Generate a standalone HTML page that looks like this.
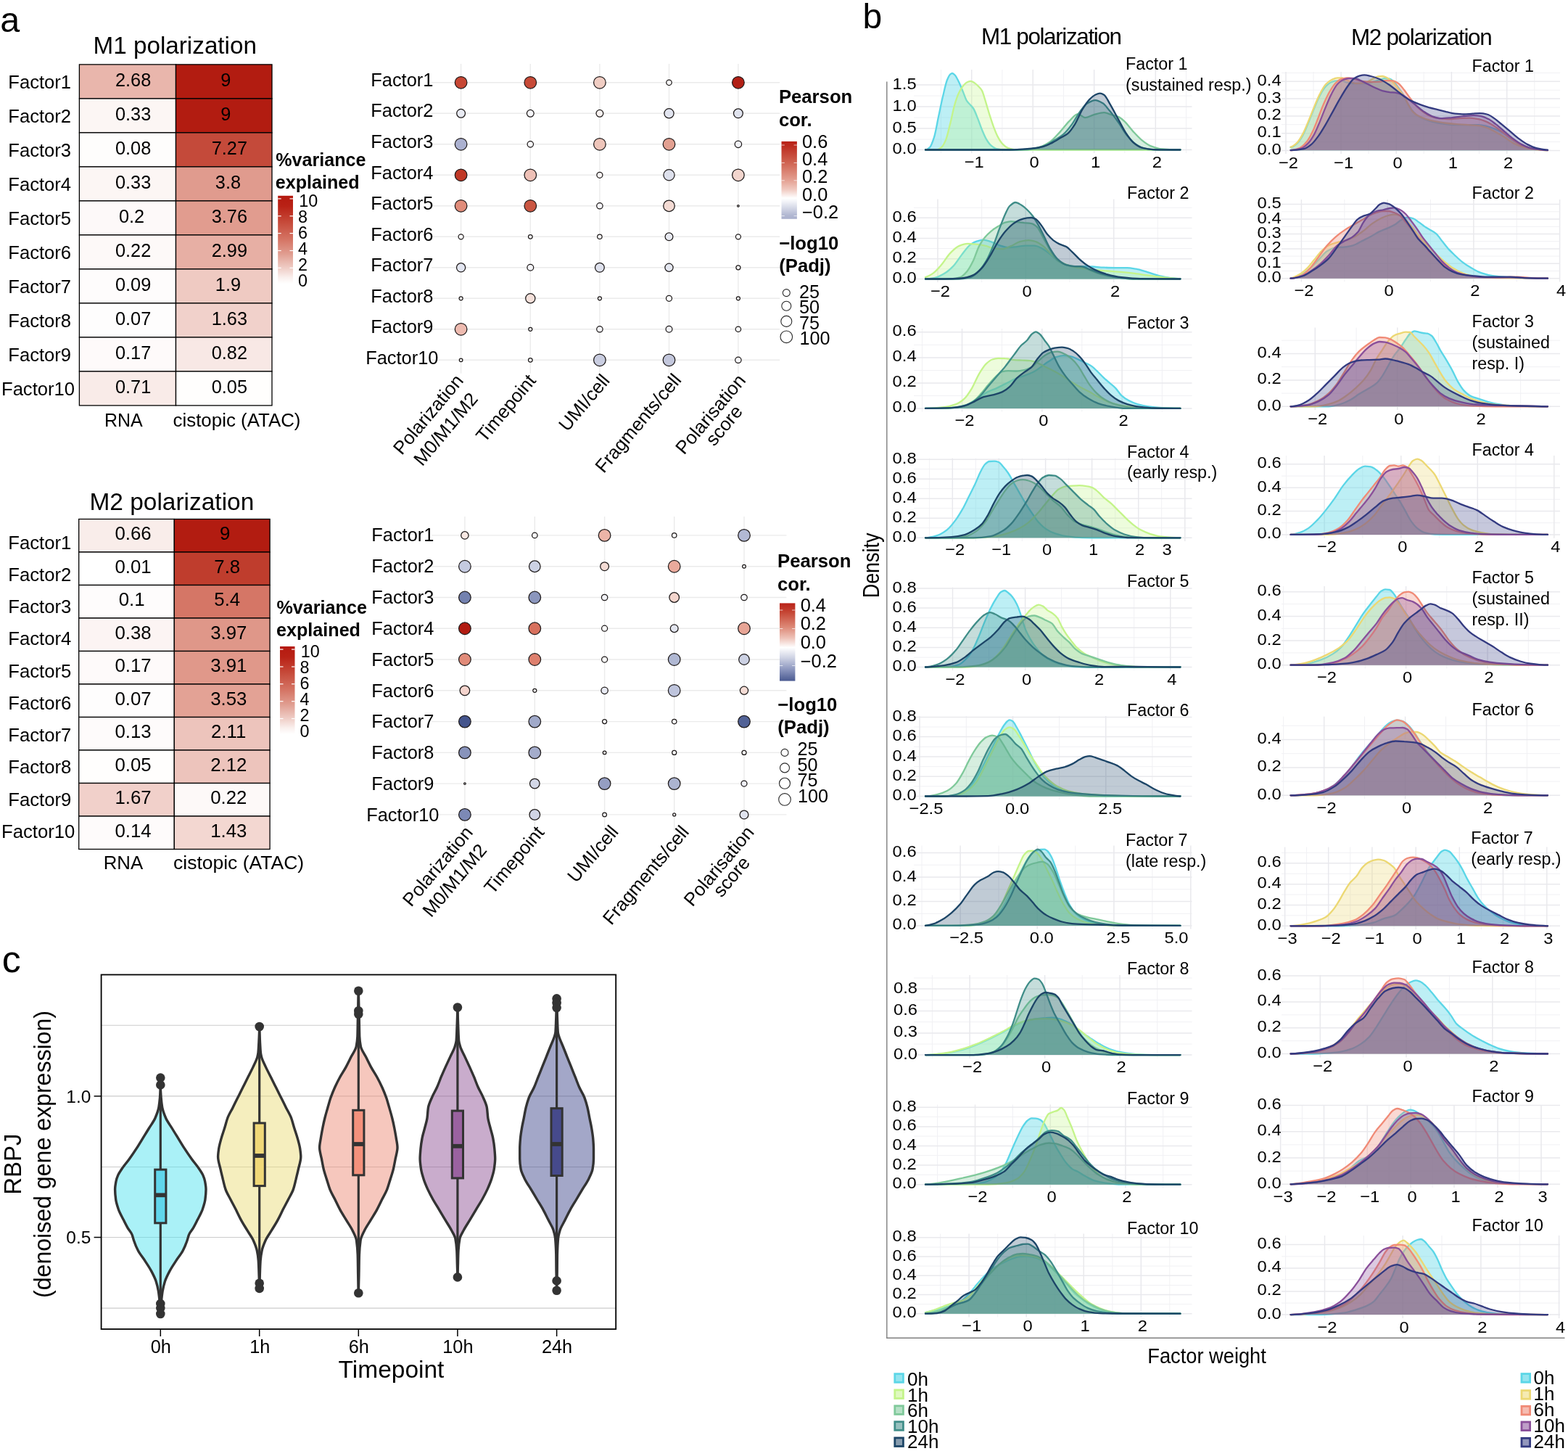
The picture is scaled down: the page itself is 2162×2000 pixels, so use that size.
<!DOCTYPE html>
<html lang="en"><head><meta charset="utf-8"><title>Figure</title>
<style>
html,body{margin:0;padding:0;background:#fff;}
body{width:2162px;height:2000px;overflow:hidden;}
svg{display:block;font-family:"Liberation Sans",sans-serif;}
</style></head><body>
<svg width="2162" height="2000" viewBox="0 0 2162 2000">
<rect width="2162" height="2000" fill="#fff"/>
<text x="0.3" y="43.6" font-size="48.5">a</text>
<rect x="109.4" y="88.9" width="133.1" height="47.0" fill="#e9b6ac" stroke="#000" stroke-width="1.3"/>
<rect x="242.5" y="88.9" width="132.5" height="47.0" fill="#b21c11" stroke="#000" stroke-width="1.3"/>
<rect x="109.4" y="135.9" width="133.1" height="47.0" fill="#fcf6f4" stroke="#000" stroke-width="1.3"/>
<rect x="242.5" y="135.9" width="132.5" height="47.0" fill="#b21c11" stroke="#000" stroke-width="1.3"/>
<rect x="109.4" y="182.9" width="133.1" height="47.0" fill="#fefdfc" stroke="#000" stroke-width="1.3"/>
<rect x="242.5" y="182.9" width="132.5" height="47.0" fill="#c44a3a" stroke="#000" stroke-width="1.3"/>
<rect x="109.4" y="229.9" width="133.1" height="47.0" fill="#fcf6f4" stroke="#000" stroke-width="1.3"/>
<rect x="242.5" y="229.9" width="132.5" height="47.0" fill="#e09b8e" stroke="#000" stroke-width="1.3"/>
<rect x="109.4" y="276.9" width="133.1" height="47.0" fill="#fdf9f9" stroke="#000" stroke-width="1.3"/>
<rect x="242.5" y="276.9" width="132.5" height="47.0" fill="#e19c8f" stroke="#000" stroke-width="1.3"/>
<rect x="109.4" y="323.9" width="133.1" height="47.0" fill="#fdf9f8" stroke="#000" stroke-width="1.3"/>
<rect x="242.5" y="323.9" width="132.5" height="47.0" fill="#e7afa4" stroke="#000" stroke-width="1.3"/>
<rect x="109.4" y="370.9" width="133.1" height="47.0" fill="#fefcfc" stroke="#000" stroke-width="1.3"/>
<rect x="242.5" y="370.9" width="132.5" height="47.0" fill="#efcac2" stroke="#000" stroke-width="1.3"/>
<rect x="109.4" y="417.9" width="133.1" height="47.0" fill="#fefdfd" stroke="#000" stroke-width="1.3"/>
<rect x="242.5" y="417.9" width="132.5" height="47.0" fill="#f1d1cb" stroke="#000" stroke-width="1.3"/>
<rect x="109.4" y="464.9" width="133.1" height="47.0" fill="#fefafa" stroke="#000" stroke-width="1.3"/>
<rect x="242.5" y="464.9" width="132.5" height="47.0" fill="#f8e8e5" stroke="#000" stroke-width="1.3"/>
<rect x="109.4" y="511.9" width="133.1" height="47.0" fill="#f9ebe8" stroke="#000" stroke-width="1.3"/>
<rect x="242.5" y="511.9" width="132.5" height="47.0" fill="#fffefd" stroke="#000" stroke-width="1.3"/>
<text x="183.6" y="118.5" font-size="25.3" text-anchor="middle">2.68</text>
<text x="311.4" y="118.5" font-size="25.3" text-anchor="middle">9</text>
<text x="11.3" y="122.2" font-size="25.6">Factor1</text>
<text x="183.6" y="165.5" font-size="25.3" text-anchor="middle">0.33</text>
<text x="311.4" y="165.5" font-size="25.3" text-anchor="middle">9</text>
<text x="11.3" y="169.2" font-size="25.6">Factor2</text>
<text x="183.6" y="212.5" font-size="25.3" text-anchor="middle">0.08</text>
<text x="316.4" y="212.5" font-size="25.3" text-anchor="middle">7.27</text>
<text x="11.3" y="216.2" font-size="25.6">Factor3</text>
<text x="183.6" y="259.5" font-size="25.3" text-anchor="middle">0.33</text>
<text x="314.4" y="259.5" font-size="25.3" text-anchor="middle">3.8</text>
<text x="11.3" y="263.2" font-size="25.6">Factor4</text>
<text x="181.6" y="306.5" font-size="25.3" text-anchor="middle">0.2</text>
<text x="316.4" y="306.5" font-size="25.3" text-anchor="middle">3.76</text>
<text x="11.3" y="310.2" font-size="25.6">Factor5</text>
<text x="183.6" y="353.5" font-size="25.3" text-anchor="middle">0.22</text>
<text x="316.4" y="353.5" font-size="25.3" text-anchor="middle">2.99</text>
<text x="11.3" y="357.2" font-size="25.6">Factor6</text>
<text x="183.6" y="400.5" font-size="25.3" text-anchor="middle">0.09</text>
<text x="314.4" y="400.5" font-size="25.3" text-anchor="middle">1.9</text>
<text x="11.3" y="404.2" font-size="25.6">Factor7</text>
<text x="183.6" y="447.5" font-size="25.3" text-anchor="middle">0.07</text>
<text x="316.4" y="447.5" font-size="25.3" text-anchor="middle">1.63</text>
<text x="11.3" y="451.2" font-size="25.6">Factor8</text>
<text x="183.6" y="494.5" font-size="25.3" text-anchor="middle">0.17</text>
<text x="316.4" y="494.5" font-size="25.3" text-anchor="middle">0.82</text>
<text x="11.3" y="498.2" font-size="25.6">Factor9</text>
<text x="183.6" y="541.5" font-size="25.3" text-anchor="middle">0.71</text>
<text x="316.4" y="541.5" font-size="25.3" text-anchor="middle">0.05</text>
<text x="2.0" y="545.2" font-size="25.6">Factor10</text>
<text x="128.5" y="73.6" font-size="33.25">M1 polarization</text>
<text x="144.0" y="588.0" font-size="25.0">RNA</text>
<text x="238.5" y="588.0" font-size="25.9">cistopic (ATAC)</text>
<text x="380.3" y="228.7" font-size="25.1" font-weight="bold">%variance</text>
<text x="379.8" y="259.7" font-size="25.1" font-weight="bold">explained</text>
<defs><linearGradient id="g1" x1="0" y1="0" x2="0" y2="1"><stop offset="0" stop-color="#b51a10"/><stop offset="0.12" stop-color="#b92216"/><stop offset="0.3" stop-color="#c64a3a"/><stop offset="0.5" stop-color="#d57565"/><stop offset="0.66" stop-color="#e09d90"/><stop offset="0.82" stop-color="#efcdc6"/><stop offset="0.93" stop-color="#faf0ee"/><stop offset="1" stop-color="#ffffff"/></linearGradient></defs>
<rect x="383.2" y="269.8" width="20.8" height="121.4" fill="url(#g1)"/>
<line x1="383.2" y1="273.9" x2="387.7" y2="273.9" stroke="#fff" stroke-width="1.2"/>
<line x1="399.5" y1="273.9" x2="404.0" y2="273.9" stroke="#fff" stroke-width="1.2"/>
<line x1="383.2" y1="297.8" x2="387.7" y2="297.8" stroke="#fff" stroke-width="1.2"/>
<line x1="399.5" y1="297.8" x2="404.0" y2="297.8" stroke="#fff" stroke-width="1.2"/>
<line x1="383.2" y1="321.6" x2="387.7" y2="321.6" stroke="#fff" stroke-width="1.2"/>
<line x1="399.5" y1="321.6" x2="404.0" y2="321.6" stroke="#fff" stroke-width="1.2"/>
<line x1="383.2" y1="345.5" x2="387.7" y2="345.5" stroke="#fff" stroke-width="1.2"/>
<line x1="399.5" y1="345.5" x2="404.0" y2="345.5" stroke="#fff" stroke-width="1.2"/>
<line x1="383.2" y1="369.3" x2="387.7" y2="369.3" stroke="#fff" stroke-width="1.2"/>
<line x1="399.5" y1="369.3" x2="404.0" y2="369.3" stroke="#fff" stroke-width="1.2"/>
<text x="412.3" y="285.2" font-size="23.4">10</text>
<text x="411.0" y="307.2" font-size="23.4">8</text>
<text x="411.0" y="329.2" font-size="23.4">6</text>
<text x="411.0" y="351.2" font-size="23.4">4</text>
<text x="411.0" y="373.2" font-size="23.4">2</text>
<text x="411.0" y="395.2" font-size="23.4">0</text>
<rect x="108.7" y="715.5" width="131.6" height="45.5" fill="#f9edea" stroke="#000" stroke-width="1.3"/>
<rect x="240.3" y="715.5" width="131.8" height="45.5" fill="#b21c11" stroke="#000" stroke-width="1.3"/>
<rect x="108.7" y="761.0" width="131.6" height="45.5" fill="#ffffff" stroke="#000" stroke-width="1.3"/>
<rect x="240.3" y="761.0" width="131.8" height="45.5" fill="#bf3d2d" stroke="#000" stroke-width="1.3"/>
<rect x="108.7" y="806.5" width="131.6" height="45.5" fill="#fefcfc" stroke="#000" stroke-width="1.3"/>
<rect x="240.3" y="806.5" width="131.8" height="45.5" fill="#d57666" stroke="#000" stroke-width="1.3"/>
<rect x="108.7" y="852.0" width="131.6" height="45.5" fill="#fcf4f3" stroke="#000" stroke-width="1.3"/>
<rect x="240.3" y="852.0" width="131.8" height="45.5" fill="#df9789" stroke="#000" stroke-width="1.3"/>
<rect x="108.7" y="897.5" width="131.6" height="45.5" fill="#fefafa" stroke="#000" stroke-width="1.3"/>
<rect x="240.3" y="897.5" width="131.8" height="45.5" fill="#e0988a" stroke="#000" stroke-width="1.3"/>
<rect x="108.7" y="943.0" width="131.6" height="45.5" fill="#fefdfd" stroke="#000" stroke-width="1.3"/>
<rect x="240.3" y="943.0" width="131.8" height="45.5" fill="#e3a295" stroke="#000" stroke-width="1.3"/>
<rect x="108.7" y="988.5" width="131.6" height="45.5" fill="#fefbfb" stroke="#000" stroke-width="1.3"/>
<rect x="240.3" y="988.5" width="131.8" height="45.5" fill="#edc4bc" stroke="#000" stroke-width="1.3"/>
<rect x="108.7" y="1034.0" width="131.6" height="45.5" fill="#fffefd" stroke="#000" stroke-width="1.3"/>
<rect x="240.3" y="1034.0" width="131.8" height="45.5" fill="#edc4bc" stroke="#000" stroke-width="1.3"/>
<rect x="108.7" y="1079.5" width="131.6" height="45.5" fill="#f1d0ca" stroke="#000" stroke-width="1.3"/>
<rect x="240.3" y="1079.5" width="131.8" height="45.5" fill="#fdf9f8" stroke="#000" stroke-width="1.3"/>
<rect x="108.7" y="1125.0" width="131.6" height="45.5" fill="#fefbfb" stroke="#000" stroke-width="1.3"/>
<rect x="240.3" y="1125.0" width="131.8" height="45.5" fill="#f3d7d1" stroke="#000" stroke-width="1.3"/>
<text x="183.6" y="744.0" font-size="25.8" text-anchor="middle">0.66</text>
<text x="310.2" y="744.0" font-size="25.8" text-anchor="middle">9</text>
<text x="11.2" y="756.5" font-size="25.7">Factor1</text>
<text x="183.6" y="789.5" font-size="25.8" text-anchor="middle">0.01</text>
<text x="313.3" y="789.5" font-size="25.8" text-anchor="middle">7.8</text>
<text x="11.2" y="800.8" font-size="25.7">Factor2</text>
<text x="181.6" y="835.0" font-size="25.8" text-anchor="middle">0.1</text>
<text x="313.3" y="835.0" font-size="25.8" text-anchor="middle">5.4</text>
<text x="11.2" y="845.0" font-size="25.7">Factor3</text>
<text x="183.6" y="880.5" font-size="25.8" text-anchor="middle">0.38</text>
<text x="315.3" y="880.5" font-size="25.8" text-anchor="middle">3.97</text>
<text x="11.2" y="889.2" font-size="25.7">Factor4</text>
<text x="183.6" y="926.0" font-size="25.8" text-anchor="middle">0.17</text>
<text x="315.3" y="926.0" font-size="25.8" text-anchor="middle">3.91</text>
<text x="11.2" y="933.5" font-size="25.7">Factor5</text>
<text x="183.6" y="971.5" font-size="25.8" text-anchor="middle">0.07</text>
<text x="315.3" y="971.5" font-size="25.8" text-anchor="middle">3.53</text>
<text x="11.2" y="977.8" font-size="25.7">Factor6</text>
<text x="183.6" y="1017.0" font-size="25.8" text-anchor="middle">0.13</text>
<text x="315.1" y="1017.0" font-size="25.8" text-anchor="middle">2.11</text>
<text x="11.2" y="1022.0" font-size="25.7">Factor7</text>
<text x="183.6" y="1062.5" font-size="25.8" text-anchor="middle">0.05</text>
<text x="315.3" y="1062.5" font-size="25.8" text-anchor="middle">2.12</text>
<text x="11.2" y="1066.2" font-size="25.7">Factor8</text>
<text x="183.6" y="1108.0" font-size="25.8" text-anchor="middle">1.67</text>
<text x="315.3" y="1108.0" font-size="25.8" text-anchor="middle">0.22</text>
<text x="11.2" y="1110.5" font-size="25.7">Factor9</text>
<text x="183.6" y="1153.5" font-size="25.8" text-anchor="middle">0.14</text>
<text x="315.3" y="1153.5" font-size="25.8" text-anchor="middle">1.43</text>
<text x="2.0" y="1154.8" font-size="25.7">Factor10</text>
<text x="123.5" y="702.7" font-size="33.45">M2 polarization</text>
<text x="142.7" y="1198.0" font-size="25.8">RNA</text>
<text x="239.0" y="1198.0" font-size="26.5">cistopic (ATAC)</text>
<text x="381.5" y="846.4" font-size="25.15" font-weight="bold">%variance</text>
<text x="381.0" y="877.4" font-size="25.15" font-weight="bold">explained</text>
<defs><linearGradient id="g2" x1="0" y1="0" x2="0" y2="1"><stop offset="0" stop-color="#b51a10"/><stop offset="0.12" stop-color="#b92216"/><stop offset="0.3" stop-color="#c64a3a"/><stop offset="0.5" stop-color="#d57565"/><stop offset="0.66" stop-color="#e09d90"/><stop offset="0.82" stop-color="#efcdc6"/><stop offset="0.93" stop-color="#faf0ee"/><stop offset="1" stop-color="#ffffff"/></linearGradient></defs>
<rect x="386.0" y="891.0" width="20.5" height="121.0" fill="url(#g2)"/>
<line x1="386.0" y1="895.1" x2="390.5" y2="895.1" stroke="#fff" stroke-width="1.2"/>
<line x1="402.0" y1="895.1" x2="406.5" y2="895.1" stroke="#fff" stroke-width="1.2"/>
<line x1="386.0" y1="919.0" x2="390.5" y2="919.0" stroke="#fff" stroke-width="1.2"/>
<line x1="402.0" y1="919.0" x2="406.5" y2="919.0" stroke="#fff" stroke-width="1.2"/>
<line x1="386.0" y1="942.8" x2="390.5" y2="942.8" stroke="#fff" stroke-width="1.2"/>
<line x1="402.0" y1="942.8" x2="406.5" y2="942.8" stroke="#fff" stroke-width="1.2"/>
<line x1="386.0" y1="966.7" x2="390.5" y2="966.7" stroke="#fff" stroke-width="1.2"/>
<line x1="402.0" y1="966.7" x2="406.5" y2="966.7" stroke="#fff" stroke-width="1.2"/>
<line x1="386.0" y1="990.5" x2="390.5" y2="990.5" stroke="#fff" stroke-width="1.2"/>
<line x1="402.0" y1="990.5" x2="406.5" y2="990.5" stroke="#fff" stroke-width="1.2"/>
<text x="414.8" y="906.4" font-size="23.4">10</text>
<text x="413.5" y="928.4" font-size="23.4">8</text>
<text x="413.5" y="950.4" font-size="23.4">6</text>
<text x="413.5" y="972.4" font-size="23.4">4</text>
<text x="413.5" y="994.4" font-size="23.4">2</text>
<text x="413.5" y="1016.4" font-size="23.4">0</text>
<line x1="595.0" y1="113.8" x2="1075.2" y2="113.8" stroke="#ebebeb" stroke-width="1.4"/>
<line x1="595.0" y1="156.3" x2="1075.2" y2="156.3" stroke="#ebebeb" stroke-width="1.4"/>
<line x1="595.0" y1="198.8" x2="1075.2" y2="198.8" stroke="#ebebeb" stroke-width="1.4"/>
<line x1="595.0" y1="241.3" x2="1075.2" y2="241.3" stroke="#ebebeb" stroke-width="1.4"/>
<line x1="595.0" y1="283.8" x2="1075.2" y2="283.8" stroke="#ebebeb" stroke-width="1.4"/>
<line x1="595.0" y1="326.3" x2="1075.2" y2="326.3" stroke="#ebebeb" stroke-width="1.4"/>
<line x1="595.0" y1="368.8" x2="1075.2" y2="368.8" stroke="#ebebeb" stroke-width="1.4"/>
<line x1="595.0" y1="411.3" x2="1075.2" y2="411.3" stroke="#ebebeb" stroke-width="1.4"/>
<line x1="595.0" y1="453.8" x2="1075.2" y2="453.8" stroke="#ebebeb" stroke-width="1.4"/>
<line x1="595.0" y1="496.3" x2="1075.2" y2="496.3" stroke="#ebebeb" stroke-width="1.4"/>
<line x1="635.6" y1="88.0" x2="635.6" y2="514.7" stroke="#ebebeb" stroke-width="1.4"/>
<line x1="731.3" y1="88.0" x2="731.3" y2="514.7" stroke="#ebebeb" stroke-width="1.4"/>
<line x1="826.9" y1="88.0" x2="826.9" y2="514.7" stroke="#ebebeb" stroke-width="1.4"/>
<line x1="922.5" y1="88.0" x2="922.5" y2="514.7" stroke="#ebebeb" stroke-width="1.4"/>
<line x1="1017.9" y1="88.0" x2="1017.9" y2="514.7" stroke="#ebebeb" stroke-width="1.4"/>
<text x="554.3" y="118.8" font-size="25.4" text-anchor="middle">Factor1</text>
<circle cx="635.6" cy="113.8" r="8.3" fill="#c74734" stroke="#1e1a1a" stroke-width="1.25"/>
<circle cx="731.3" cy="113.8" r="8.3" fill="#c74a37" stroke="#1e1a1a" stroke-width="1.25"/>
<circle cx="826.9" cy="113.8" r="8.3" fill="#f0cdc3" stroke="#1e1a1a" stroke-width="1.25"/>
<circle cx="922.5" cy="113.8" r="3.7" fill="#ffffff" stroke="#1e1a1a" stroke-width="1.25"/>
<circle cx="1017.9" cy="113.8" r="8.3" fill="#b22016" stroke="#1e1a1a" stroke-width="1.25"/>
<text x="554.3" y="161.4" font-size="25.4" text-anchor="middle">Factor2</text>
<circle cx="635.6" cy="156.3" r="5.9" fill="#e8eaf2" stroke="#1e1a1a" stroke-width="1.25"/>
<circle cx="731.3" cy="156.3" r="4.9" fill="#f5f5f8" stroke="#1e1a1a" stroke-width="1.25"/>
<circle cx="826.9" cy="156.3" r="4.9" fill="#f8f2f0" stroke="#1e1a1a" stroke-width="1.25"/>
<circle cx="922.5" cy="156.3" r="6.6" fill="#e1e4ef" stroke="#1e1a1a" stroke-width="1.25"/>
<circle cx="1017.9" cy="156.3" r="6.4" fill="#e0e3ee" stroke="#1e1a1a" stroke-width="1.25"/>
<text x="554.3" y="203.9" font-size="25.4" text-anchor="middle">Factor3</text>
<circle cx="635.6" cy="198.8" r="8.3" fill="#abb1d0" stroke="#1e1a1a" stroke-width="1.25"/>
<circle cx="731.3" cy="198.8" r="4.2" fill="#fafafc" stroke="#1e1a1a" stroke-width="1.25"/>
<circle cx="826.9" cy="198.8" r="8.3" fill="#eec5ba" stroke="#1e1a1a" stroke-width="1.25"/>
<circle cx="922.5" cy="198.8" r="8.3" fill="#e2a091" stroke="#1e1a1a" stroke-width="1.25"/>
<circle cx="1017.9" cy="198.8" r="4.7" fill="#f2f3f8" stroke="#1e1a1a" stroke-width="1.25"/>
<text x="554.3" y="246.5" font-size="25.4" text-anchor="middle">Factor4</text>
<circle cx="635.6" cy="241.3" r="8.3" fill="#c03826" stroke="#1e1a1a" stroke-width="1.25"/>
<circle cx="731.3" cy="241.3" r="8.3" fill="#eec0b6" stroke="#1e1a1a" stroke-width="1.25"/>
<circle cx="826.9" cy="241.3" r="4.0" fill="#faf6f5" stroke="#1e1a1a" stroke-width="1.25"/>
<circle cx="922.5" cy="241.3" r="7.6" fill="#dde0ec" stroke="#1e1a1a" stroke-width="1.25"/>
<circle cx="1017.9" cy="241.3" r="8.3" fill="#f2d5cd" stroke="#1e1a1a" stroke-width="1.25"/>
<text x="554.3" y="289.0" font-size="25.4" text-anchor="middle">Factor5</text>
<circle cx="635.6" cy="283.8" r="8.3" fill="#e08c7a" stroke="#1e1a1a" stroke-width="1.25"/>
<circle cx="731.3" cy="283.8" r="8.3" fill="#ca5642" stroke="#1e1a1a" stroke-width="1.25"/>
<circle cx="826.9" cy="283.8" r="4.2" fill="#f5f5f9" stroke="#1e1a1a" stroke-width="1.25"/>
<circle cx="922.5" cy="283.8" r="7.8" fill="#f3dad3" stroke="#1e1a1a" stroke-width="1.25"/>
<circle cx="1017.9" cy="283.8" r="1.3" fill="#ffffff" stroke="#1e1a1a" stroke-width="1.25"/>
<text x="554.3" y="331.6" font-size="25.4" text-anchor="middle">Factor6</text>
<circle cx="635.6" cy="326.3" r="3.5" fill="#ffffff" stroke="#1e1a1a" stroke-width="1.25"/>
<circle cx="731.3" cy="326.3" r="2.8" fill="#ffffff" stroke="#1e1a1a" stroke-width="1.25"/>
<circle cx="826.9" cy="326.3" r="3.2" fill="#ffffff" stroke="#1e1a1a" stroke-width="1.25"/>
<circle cx="922.5" cy="326.3" r="5.4" fill="#e8eaf2" stroke="#1e1a1a" stroke-width="1.25"/>
<circle cx="1017.9" cy="326.3" r="3.5" fill="#ffffff" stroke="#1e1a1a" stroke-width="1.25"/>
<text x="554.3" y="374.1" font-size="25.4" text-anchor="middle">Factor7</text>
<circle cx="635.6" cy="368.8" r="6.1" fill="#e2e5f0" stroke="#1e1a1a" stroke-width="1.25"/>
<circle cx="731.3" cy="368.8" r="4.4" fill="#f5f5f9" stroke="#1e1a1a" stroke-width="1.25"/>
<circle cx="826.9" cy="368.8" r="6.4" fill="#dee1ed" stroke="#1e1a1a" stroke-width="1.25"/>
<circle cx="922.5" cy="368.8" r="5.6" fill="#e4e7f1" stroke="#1e1a1a" stroke-width="1.25"/>
<circle cx="1017.9" cy="368.8" r="3.0" fill="#ffffff" stroke="#1e1a1a" stroke-width="1.25"/>
<text x="554.3" y="416.7" font-size="25.4" text-anchor="middle">Factor8</text>
<circle cx="635.6" cy="411.3" r="2.5" fill="#ffffff" stroke="#1e1a1a" stroke-width="1.25"/>
<circle cx="731.3" cy="411.3" r="6.6" fill="#f4e0da" stroke="#1e1a1a" stroke-width="1.25"/>
<circle cx="826.9" cy="411.3" r="2.5" fill="#ffffff" stroke="#1e1a1a" stroke-width="1.25"/>
<circle cx="922.5" cy="411.3" r="4.0" fill="#ffffff" stroke="#1e1a1a" stroke-width="1.25"/>
<circle cx="1017.9" cy="411.3" r="2.5" fill="#ffffff" stroke="#1e1a1a" stroke-width="1.25"/>
<text x="554.3" y="459.2" font-size="25.4" text-anchor="middle">Factor9</text>
<circle cx="635.6" cy="453.8" r="8.3" fill="#eebbb0" stroke="#1e1a1a" stroke-width="1.25"/>
<circle cx="731.3" cy="453.8" r="2.5" fill="#ffffff" stroke="#1e1a1a" stroke-width="1.25"/>
<circle cx="826.9" cy="453.8" r="4.2" fill="#f5f5f9" stroke="#1e1a1a" stroke-width="1.25"/>
<circle cx="922.5" cy="453.8" r="4.4" fill="#f2f3f8" stroke="#1e1a1a" stroke-width="1.25"/>
<circle cx="1017.9" cy="453.8" r="3.7" fill="#ffffff" stroke="#1e1a1a" stroke-width="1.25"/>
<text x="554.3" y="501.8" font-size="25.4" text-anchor="middle">Factor10</text>
<circle cx="635.6" cy="496.3" r="2.3" fill="#ffffff" stroke="#1e1a1a" stroke-width="1.25"/>
<circle cx="731.3" cy="496.3" r="2.8" fill="#ffffff" stroke="#1e1a1a" stroke-width="1.25"/>
<circle cx="826.9" cy="496.3" r="8.3" fill="#c9cde0" stroke="#1e1a1a" stroke-width="1.25"/>
<circle cx="922.5" cy="496.3" r="8.3" fill="#c3c7dc" stroke="#1e1a1a" stroke-width="1.25"/>
<circle cx="1017.9" cy="496.3" r="4.2" fill="#f8f8fa" stroke="#1e1a1a" stroke-width="1.25"/>
<text transform="translate(640.2,525.3) rotate(-50)" font-size="25.7" text-anchor="end">Polarization</text>
<text transform="translate(660.2,550.5) rotate(-50)" font-size="25.7" text-anchor="end">M0/M1/M2</text>
<text transform="translate(740.2,525.3) rotate(-50)" font-size="25.7" text-anchor="end">Timepoint</text>
<text transform="translate(842.0,525.0) rotate(-50)" font-size="25.7" text-anchor="end">UMI/cell</text>
<text transform="translate(940.7,524.3) rotate(-50)" font-size="25.7" text-anchor="end">Fragments/cell</text>
<text transform="translate(1029.5,525.0) rotate(-50)" font-size="25.7" text-anchor="end">Polarisation</text>
<text transform="translate(1025.1,567.9) rotate(-50)" font-size="25.7" text-anchor="end">score</text>
<text x="1073.9" y="142.2" font-size="25.7" font-weight="bold">Pearson</text>
<text x="1073.9" y="173.8" font-size="25.7" font-weight="bold">cor.</text>
<defs><linearGradient id="gd1" x1="0" y1="0" x2="0" y2="1"><stop offset="0.000" stop-color="#b92218"/><stop offset="0.050" stop-color="#bc2a1e"/><stop offset="0.270" stop-color="#cf6250"/><stop offset="0.500" stop-color="#e4a092"/><stop offset="0.620" stop-color="#f0c9c0"/><stop offset="0.730" stop-color="#ffffff"/><stop offset="0.770" stop-color="#f4f5f9"/><stop offset="0.950" stop-color="#b2b8d2"/><stop offset="1.000" stop-color="#aab0cd"/></linearGradient></defs>
<rect x="1077.5" y="194.9" width="21.4" height="106.9" fill="url(#gd1)"/>
<line x1="1077.5" y1="200.0" x2="1081.8" y2="200.0" stroke="#fff" stroke-width="1.0" stroke-opacity="0.7"/>
<line x1="1094.6" y1="200.0" x2="1098.9" y2="200.0" stroke="#fff" stroke-width="1.0" stroke-opacity="0.7"/>
<line x1="1077.5" y1="224.4" x2="1081.8" y2="224.4" stroke="#fff" stroke-width="1.0" stroke-opacity="0.7"/>
<line x1="1094.6" y1="224.4" x2="1098.9" y2="224.4" stroke="#fff" stroke-width="1.0" stroke-opacity="0.7"/>
<line x1="1077.5" y1="248.8" x2="1081.8" y2="248.8" stroke="#fff" stroke-width="1.0" stroke-opacity="0.7"/>
<line x1="1094.6" y1="248.8" x2="1098.9" y2="248.8" stroke="#fff" stroke-width="1.0" stroke-opacity="0.7"/>
<line x1="1077.5" y1="273.2" x2="1081.8" y2="273.2" stroke="#fff" stroke-width="1.0" stroke-opacity="0.7"/>
<line x1="1094.6" y1="273.2" x2="1098.9" y2="273.2" stroke="#fff" stroke-width="1.0" stroke-opacity="0.7"/>
<line x1="1077.5" y1="297.6" x2="1081.8" y2="297.6" stroke="#fff" stroke-width="1.0" stroke-opacity="0.7"/>
<line x1="1094.6" y1="297.6" x2="1098.9" y2="297.6" stroke="#fff" stroke-width="1.0" stroke-opacity="0.7"/>
<text x="1106.0" y="203.5" font-size="25.4">0.6</text>
<text x="1106.0" y="227.9" font-size="25.4">0.4</text>
<text x="1106.0" y="252.3" font-size="25.4">0.2</text>
<text x="1106.0" y="276.7" font-size="25.4">0.0</text>
<text x="1106.0" y="301.1" font-size="25.4">−0.2</text>
<text x="1074.2" y="344.3" font-size="25.7" font-weight="bold">−log10</text>
<text x="1074.2" y="375.3" font-size="25.7" font-weight="bold">(Padj)</text>
<circle cx="1084.3" cy="403.6" r="5.0" fill="#fff" stroke="#2a2a2a" stroke-width="1.1"/>
<text x="1102.0" y="411.3" font-size="25.2">25</text>
<circle cx="1084.3" cy="421.7" r="6.5" fill="#fff" stroke="#2a2a2a" stroke-width="1.1"/>
<text x="1102.0" y="432.1" font-size="25.2">50</text>
<circle cx="1084.3" cy="442.9" r="7.5" fill="#fff" stroke="#2a2a2a" stroke-width="1.1"/>
<text x="1102.0" y="453.6" font-size="25.2">75</text>
<circle cx="1084.3" cy="464.3" r="8.3" fill="#fff" stroke="#2a2a2a" stroke-width="1.1"/>
<text x="1102.4" y="475.0" font-size="25.2">100</text>
<line x1="595.0" y1="737.9" x2="1084.4" y2="737.9" stroke="#ebebeb" stroke-width="1.4"/>
<line x1="595.0" y1="780.7" x2="1084.4" y2="780.7" stroke="#ebebeb" stroke-width="1.4"/>
<line x1="595.0" y1="823.5" x2="1084.4" y2="823.5" stroke="#ebebeb" stroke-width="1.4"/>
<line x1="595.0" y1="866.2" x2="1084.4" y2="866.2" stroke="#ebebeb" stroke-width="1.4"/>
<line x1="595.0" y1="909.0" x2="1084.4" y2="909.0" stroke="#ebebeb" stroke-width="1.4"/>
<line x1="595.0" y1="951.8" x2="1084.4" y2="951.8" stroke="#ebebeb" stroke-width="1.4"/>
<line x1="595.0" y1="994.6" x2="1084.4" y2="994.6" stroke="#ebebeb" stroke-width="1.4"/>
<line x1="595.0" y1="1037.4" x2="1084.4" y2="1037.4" stroke="#ebebeb" stroke-width="1.4"/>
<line x1="595.0" y1="1080.1" x2="1084.4" y2="1080.1" stroke="#ebebeb" stroke-width="1.4"/>
<line x1="595.0" y1="1122.9" x2="1084.4" y2="1122.9" stroke="#ebebeb" stroke-width="1.4"/>
<line x1="640.9" y1="712.0" x2="640.9" y2="1145.0" stroke="#ebebeb" stroke-width="1.4"/>
<line x1="737.3" y1="712.0" x2="737.3" y2="1145.0" stroke="#ebebeb" stroke-width="1.4"/>
<line x1="833.6" y1="712.0" x2="833.6" y2="1145.0" stroke="#ebebeb" stroke-width="1.4"/>
<line x1="929.7" y1="712.0" x2="929.7" y2="1145.0" stroke="#ebebeb" stroke-width="1.4"/>
<line x1="1026.0" y1="712.0" x2="1026.0" y2="1145.0" stroke="#ebebeb" stroke-width="1.4"/>
<text x="555.3" y="746.4" font-size="25.4" text-anchor="middle">Factor1</text>
<circle cx="640.9" cy="737.9" r="5.2" fill="#f8e8e3" stroke="#1e1a1a" stroke-width="1.25"/>
<circle cx="737.3" cy="737.9" r="3.7" fill="#ffffff" stroke="#1e1a1a" stroke-width="1.25"/>
<circle cx="833.6" cy="737.9" r="8.3" fill="#ecb4a7" stroke="#1e1a1a" stroke-width="1.25"/>
<circle cx="929.7" cy="737.9" r="3.2" fill="#ffffff" stroke="#1e1a1a" stroke-width="1.25"/>
<circle cx="1026.0" cy="737.9" r="8.3" fill="#b2b9d4" stroke="#1e1a1a" stroke-width="1.25"/>
<text x="555.3" y="789.2" font-size="25.4" text-anchor="middle">Factor2</text>
<circle cx="640.9" cy="780.7" r="8.3" fill="#c4cae0" stroke="#1e1a1a" stroke-width="1.25"/>
<circle cx="737.3" cy="780.7" r="7.8" fill="#cdd2e4" stroke="#1e1a1a" stroke-width="1.25"/>
<circle cx="833.6" cy="780.7" r="5.9" fill="#f4dbd4" stroke="#1e1a1a" stroke-width="1.25"/>
<circle cx="929.7" cy="780.7" r="8.3" fill="#eaaa9c" stroke="#1e1a1a" stroke-width="1.25"/>
<circle cx="1026.0" cy="780.7" r="2.3" fill="#ffffff" stroke="#1e1a1a" stroke-width="1.25"/>
<text x="555.3" y="832.1" font-size="25.4" text-anchor="middle">Factor3</text>
<circle cx="640.9" cy="823.5" r="8.3" fill="#7381af" stroke="#1e1a1a" stroke-width="1.25"/>
<circle cx="737.3" cy="823.5" r="8.3" fill="#8b96bd" stroke="#1e1a1a" stroke-width="1.25"/>
<circle cx="833.6" cy="823.5" r="4.2" fill="#f2f3f8" stroke="#1e1a1a" stroke-width="1.25"/>
<circle cx="929.7" cy="823.5" r="6.8" fill="#f3d5cd" stroke="#1e1a1a" stroke-width="1.25"/>
<circle cx="1026.0" cy="823.5" r="4.2" fill="#f5f6fa" stroke="#1e1a1a" stroke-width="1.25"/>
<text x="555.3" y="874.9" font-size="25.4" text-anchor="middle">Factor4</text>
<circle cx="640.9" cy="866.2" r="8.3" fill="#b21b11" stroke="#1e1a1a" stroke-width="1.25"/>
<circle cx="737.3" cy="866.2" r="8.3" fill="#d8715e" stroke="#1e1a1a" stroke-width="1.25"/>
<circle cx="833.6" cy="866.2" r="4.0" fill="#ffffff" stroke="#1e1a1a" stroke-width="1.25"/>
<circle cx="929.7" cy="866.2" r="5.4" fill="#e2e5ef" stroke="#1e1a1a" stroke-width="1.25"/>
<circle cx="1026.0" cy="866.2" r="8.3" fill="#e8a596" stroke="#1e1a1a" stroke-width="1.25"/>
<text x="555.3" y="917.7" font-size="25.4" text-anchor="middle">Factor5</text>
<circle cx="640.9" cy="909.0" r="8.3" fill="#e18b79" stroke="#1e1a1a" stroke-width="1.25"/>
<circle cx="737.3" cy="909.0" r="8.3" fill="#de806e" stroke="#1e1a1a" stroke-width="1.25"/>
<circle cx="833.6" cy="909.0" r="4.0" fill="#ffffff" stroke="#1e1a1a" stroke-width="1.25"/>
<circle cx="929.7" cy="909.0" r="8.3" fill="#b0b8d3" stroke="#1e1a1a" stroke-width="1.25"/>
<circle cx="1026.0" cy="909.0" r="7.3" fill="#ccd1e3" stroke="#1e1a1a" stroke-width="1.25"/>
<text x="555.3" y="960.5" font-size="25.4" text-anchor="middle">Factor6</text>
<circle cx="640.9" cy="951.8" r="6.8" fill="#f5d4cd" stroke="#1e1a1a" stroke-width="1.25"/>
<circle cx="737.3" cy="951.8" r="2.5" fill="#ffffff" stroke="#1e1a1a" stroke-width="1.25"/>
<circle cx="833.6" cy="951.8" r="4.7" fill="#e8eaf3" stroke="#1e1a1a" stroke-width="1.25"/>
<circle cx="929.7" cy="951.8" r="8.3" fill="#bec4dc" stroke="#1e1a1a" stroke-width="1.25"/>
<circle cx="1026.0" cy="951.8" r="5.6" fill="#f5dcd5" stroke="#1e1a1a" stroke-width="1.25"/>
<text x="555.3" y="1003.4" font-size="25.4" text-anchor="middle">Factor7</text>
<circle cx="640.9" cy="994.6" r="8.3" fill="#44548c" stroke="#1e1a1a" stroke-width="1.25"/>
<circle cx="737.3" cy="994.6" r="8.3" fill="#a0a9c9" stroke="#1e1a1a" stroke-width="1.25"/>
<circle cx="833.6" cy="994.6" r="3.0" fill="#ffffff" stroke="#1e1a1a" stroke-width="1.25"/>
<circle cx="929.7" cy="994.6" r="3.2" fill="#ffffff" stroke="#1e1a1a" stroke-width="1.25"/>
<circle cx="1026.0" cy="994.6" r="8.3" fill="#526296" stroke="#1e1a1a" stroke-width="1.25"/>
<text x="555.3" y="1046.2" font-size="25.4" text-anchor="middle">Factor8</text>
<circle cx="640.9" cy="1037.4" r="8.3" fill="#8893bb" stroke="#1e1a1a" stroke-width="1.25"/>
<circle cx="737.3" cy="1037.4" r="8.3" fill="#a4accb" stroke="#1e1a1a" stroke-width="1.25"/>
<circle cx="833.6" cy="1037.4" r="2.3" fill="#ffffff" stroke="#1e1a1a" stroke-width="1.25"/>
<circle cx="929.7" cy="1037.4" r="3.0" fill="#ffffff" stroke="#1e1a1a" stroke-width="1.25"/>
<circle cx="1026.0" cy="1037.4" r="3.0" fill="#ffffff" stroke="#1e1a1a" stroke-width="1.25"/>
<text x="555.3" y="1089.0" font-size="25.4" text-anchor="middle">Factor9</text>
<circle cx="640.9" cy="1080.1" r="1.3" fill="#ffffff" stroke="#1e1a1a" stroke-width="1.25"/>
<circle cx="737.3" cy="1080.1" r="6.8" fill="#d3d7e7" stroke="#1e1a1a" stroke-width="1.25"/>
<circle cx="833.6" cy="1080.1" r="8.3" fill="#959ec2" stroke="#1e1a1a" stroke-width="1.25"/>
<circle cx="929.7" cy="1080.1" r="8.3" fill="#acb4d0" stroke="#1e1a1a" stroke-width="1.25"/>
<circle cx="1026.0" cy="1080.1" r="4.0" fill="#eeeff6" stroke="#1e1a1a" stroke-width="1.25"/>
<text x="555.3" y="1131.9" font-size="25.4" text-anchor="middle">Factor10</text>
<circle cx="640.9" cy="1122.9" r="8.3" fill="#7c89b5" stroke="#1e1a1a" stroke-width="1.25"/>
<circle cx="737.3" cy="1122.9" r="7.3" fill="#d0d4e5" stroke="#1e1a1a" stroke-width="1.25"/>
<circle cx="833.6" cy="1122.9" r="2.8" fill="#ffffff" stroke="#1e1a1a" stroke-width="1.25"/>
<circle cx="929.7" cy="1122.9" r="2.0" fill="#ffffff" stroke="#1e1a1a" stroke-width="1.25"/>
<circle cx="1026.0" cy="1122.9" r="5.9" fill="#e0e3ee" stroke="#1e1a1a" stroke-width="1.25"/>
<text transform="translate(653.2,1148.1) rotate(-50)" font-size="25.7" text-anchor="end">Polarization</text>
<text transform="translate(672.4,1172.6) rotate(-50)" font-size="25.7" text-anchor="end">M0/M1/M2</text>
<text transform="translate(751.5,1148.1) rotate(-50)" font-size="25.7" text-anchor="end">Timepoint</text>
<text transform="translate(854.0,1147.0) rotate(-50)" font-size="25.7" text-anchor="end">UMI/cell</text>
<text transform="translate(951.2,1147.3) rotate(-50)" font-size="25.7" text-anchor="end">Fragments/cell</text>
<text transform="translate(1041.0,1147.8) rotate(-50)" font-size="25.7" text-anchor="end">Polarisation</text>
<text transform="translate(1035.4,1189.8) rotate(-50)" font-size="25.7" text-anchor="end">score</text>
<text x="1072.0" y="782.0" font-size="25.7" font-weight="bold">Pearson</text>
<text x="1072.0" y="813.6" font-size="25.7" font-weight="bold">cor.</text>
<defs><linearGradient id="gd2" x1="0" y1="0" x2="0" y2="1"><stop offset="0.000" stop-color="#b92218"/><stop offset="0.100" stop-color="#c3402f"/><stop offset="0.300" stop-color="#dc8674"/><stop offset="0.450" stop-color="#eec3b9"/><stop offset="0.570" stop-color="#ffffff"/><stop offset="0.700" stop-color="#cfd3e4"/><stop offset="0.850" stop-color="#8d97bf"/><stop offset="1.000" stop-color="#4a5a91"/></linearGradient></defs>
<rect x="1075.0" y="831.4" width="21.4" height="107.2" fill="url(#gd2)"/>
<line x1="1075.0" y1="841.0" x2="1079.3" y2="841.0" stroke="#fff" stroke-width="1.0" stroke-opacity="0.7"/>
<line x1="1092.1" y1="841.0" x2="1096.4" y2="841.0" stroke="#fff" stroke-width="1.0" stroke-opacity="0.7"/>
<line x1="1075.0" y1="866.5" x2="1079.3" y2="866.5" stroke="#fff" stroke-width="1.0" stroke-opacity="0.7"/>
<line x1="1092.1" y1="866.5" x2="1096.4" y2="866.5" stroke="#fff" stroke-width="1.0" stroke-opacity="0.7"/>
<line x1="1075.0" y1="892.0" x2="1079.3" y2="892.0" stroke="#fff" stroke-width="1.0" stroke-opacity="0.7"/>
<line x1="1092.1" y1="892.0" x2="1096.4" y2="892.0" stroke="#fff" stroke-width="1.0" stroke-opacity="0.7"/>
<line x1="1075.0" y1="917.5" x2="1079.3" y2="917.5" stroke="#fff" stroke-width="1.0" stroke-opacity="0.7"/>
<line x1="1092.1" y1="917.5" x2="1096.4" y2="917.5" stroke="#fff" stroke-width="1.0" stroke-opacity="0.7"/>
<text x="1103.7" y="842.6" font-size="25.4">0.4</text>
<text x="1103.7" y="868.3" font-size="25.4">0.2</text>
<text x="1103.7" y="893.6" font-size="25.4">0.0</text>
<text x="1103.7" y="919.6" font-size="25.4">−0.2</text>
<text x="1072.3" y="979.6" font-size="25.7" font-weight="bold">−log10</text>
<text x="1072.3" y="1010.6" font-size="25.7" font-weight="bold">(Padj)</text>
<circle cx="1082.0" cy="1037.4" r="5.0" fill="#fff" stroke="#2a2a2a" stroke-width="1.1"/>
<text x="1099.5" y="1040.5" font-size="25.2">25</text>
<circle cx="1082.0" cy="1058.4" r="6.5" fill="#fff" stroke="#2a2a2a" stroke-width="1.1"/>
<text x="1099.5" y="1062.5" font-size="25.2">50</text>
<circle cx="1082.0" cy="1079.8" r="7.5" fill="#fff" stroke="#2a2a2a" stroke-width="1.1"/>
<text x="1099.5" y="1083.5" font-size="25.2">75</text>
<circle cx="1082.0" cy="1101.9" r="8.3" fill="#fff" stroke="#2a2a2a" stroke-width="1.1"/>
<text x="1100.0" y="1105.5" font-size="25.2">100</text>
<text x="2.8" y="1340.0" font-size="52">c</text>
<line x1="139.6" y1="1413.3" x2="849.2" y2="1413.3" stroke="#cbcbcb" stroke-width="1.1"/>
<line x1="139.6" y1="1510.9" x2="849.2" y2="1510.9" stroke="#cbcbcb" stroke-width="1.1"/>
<line x1="139.6" y1="1608.5" x2="849.2" y2="1608.5" stroke="#cbcbcb" stroke-width="1.1"/>
<line x1="139.6" y1="1705.5" x2="849.2" y2="1705.5" stroke="#cbcbcb" stroke-width="1.1"/>
<line x1="139.6" y1="1803.1" x2="849.2" y2="1803.1" stroke="#cbcbcb" stroke-width="1.1"/>
<path d="M221.3,1498.8C221.2,1503.5 220.8,1508.2 220.5,1512.8C220.1,1517.5 219.6,1522.2 218.8,1526.9C217.9,1531.6 216.0,1536.3 214.0,1541.0C212.0,1545.7 208.4,1550.3 205.5,1555.0C202.7,1559.7 199.7,1564.4 196.8,1569.1C193.9,1573.8 191.1,1578.5 188.1,1583.2C185.1,1587.9 181.9,1592.5 178.5,1597.2C175.2,1601.9 171.0,1606.6 167.9,1611.3C166.0,1614.1 164.0,1616.9 162.8,1619.7C161.6,1622.5 160.5,1625.4 160.0,1628.2C159.3,1631.9 158.6,1635.7 158.6,1639.4C158.6,1644.1 159.1,1648.8 159.7,1653.5C160.3,1658.2 162.0,1662.9 163.6,1667.6C165.3,1672.2 168.0,1676.9 170.4,1681.6C172.3,1685.4 174.1,1689.1 176.3,1692.9C178.0,1695.7 180.8,1698.5 181.9,1701.3C183.1,1704.1 183.5,1706.9 184.5,1709.7C186.1,1714.4 187.9,1719.1 190.4,1723.8C192.8,1728.5 196.9,1733.2 199.9,1737.9C203.0,1742.6 206.2,1747.3 208.6,1751.9C211.1,1756.6 213.6,1761.3 215.1,1766.0C216.6,1770.7 217.7,1775.4 218.5,1780.1C219.2,1784.8 219.7,1789.4 220.2,1794.1C220.6,1798.8 221.0,1803.5 221.3,1808.2C221.6,1803.5 222.0,1798.8 222.4,1794.1C222.9,1789.4 223.4,1784.8 224.1,1780.1C224.9,1775.4 226.0,1770.7 227.5,1766.0C229.0,1761.3 231.5,1756.6 234.0,1751.9C236.4,1747.3 239.6,1742.6 242.7,1737.9C245.7,1733.2 249.8,1728.5 252.2,1723.8C254.7,1719.1 256.5,1714.4 258.1,1709.7C259.1,1706.9 259.5,1704.1 260.7,1701.3C261.8,1698.5 264.6,1695.7 266.3,1692.9C268.5,1689.1 270.3,1685.4 272.2,1681.6C274.6,1676.9 277.3,1672.2 279.0,1667.6C280.6,1662.9 282.3,1658.2 282.9,1653.5C283.5,1648.8 284.0,1644.1 284.0,1639.4C284.0,1635.7 283.3,1631.9 282.6,1628.2C282.1,1625.4 281.0,1622.5 279.8,1619.7C278.6,1616.9 276.6,1614.1 274.7,1611.3C271.6,1606.6 267.4,1601.9 264.1,1597.2C260.7,1592.5 257.5,1587.9 254.5,1583.2C251.5,1578.5 248.7,1573.8 245.8,1569.1C242.9,1564.4 239.9,1559.7 237.1,1555.0C234.2,1550.3 230.6,1545.7 228.6,1541.0C226.6,1536.3 224.7,1531.6 223.8,1526.9C223.0,1522.2 222.5,1517.5 222.1,1512.8C221.8,1508.2 221.4,1503.5 221.3,1498.8Z" fill="#55e3ef" fill-opacity="0.5" stroke="#333" stroke-width="3.4" stroke-linejoin="round"/>
<line x1="221.3" y1="1490.3" x2="221.3" y2="1808.2" stroke="#333" stroke-width="3.2"/>
<rect x="213.7" y="1612.1" width="15.2" height="73.7" fill="#60d6eb" stroke="#333" stroke-width="3.0"/>
<line x1="213.7" y1="1647.3" x2="228.9" y2="1647.3" stroke="#333" stroke-width="5.8"/>
<circle cx="221.3" cy="1485.6" r="6.3" fill="#333"/>
<circle cx="221.3" cy="1495.4" r="6.3" fill="#333"/>
<circle cx="221.3" cy="1796.9" r="6.3" fill="#333"/>
<circle cx="221.3" cy="1803.1" r="6.3" fill="#333"/>
<circle cx="221.3" cy="1811.0" r="6.3" fill="#333"/>
<path d="M357.7,1417.2C357.5,1423.8 357.2,1430.3 356.9,1436.9C356.6,1441.6 356.5,1446.3 356.0,1451.0C355.8,1452.8 355.4,1454.7 354.9,1456.6C353.7,1461.3 351.1,1466.0 349.0,1470.6C346.8,1475.3 344.3,1480.0 341.9,1484.7C339.6,1489.4 337.3,1494.1 334.9,1498.8C332.6,1503.5 330.2,1508.2 327.9,1512.8C325.5,1517.5 323.2,1522.2 320.9,1526.9C318.5,1531.6 315.6,1536.3 313.8,1541.0C312.1,1545.7 311.1,1550.3 309.6,1555.0C308.1,1559.7 306.4,1564.4 305.1,1569.1C303.8,1573.8 302.4,1578.5 301.7,1583.2C301.2,1586.9 300.6,1590.7 300.6,1594.4C300.6,1600.0 302.7,1605.7 304.0,1611.3C305.0,1616.0 306.2,1620.7 307.3,1625.4C308.5,1630.0 309.4,1634.7 311.0,1639.4C312.6,1644.1 315.6,1648.8 318.0,1653.5C320.4,1658.2 323.0,1662.9 325.4,1667.6C327.7,1672.2 329.8,1676.9 332.4,1681.6C334.9,1686.3 338.0,1691.0 340.8,1695.7C343.6,1700.4 347.2,1705.1 349.3,1709.7C351.4,1714.4 353.4,1719.1 354.3,1723.8C355.3,1728.5 356.0,1733.2 356.3,1737.9C356.7,1744.4 356.9,1751.0 357.1,1757.6C357.3,1763.2 357.5,1768.8 357.7,1774.4C357.9,1768.8 358.1,1763.2 358.3,1757.6C358.5,1751.0 358.7,1744.4 359.1,1737.9C359.4,1733.2 360.1,1728.5 361.1,1723.8C362.0,1719.1 364.0,1714.4 366.1,1709.7C368.2,1705.1 371.8,1700.4 374.6,1695.7C377.4,1691.0 380.5,1686.3 383.0,1681.6C385.6,1676.9 387.7,1672.2 390.0,1667.6C392.4,1662.9 395.0,1658.2 397.4,1653.5C399.8,1648.8 402.8,1644.1 404.4,1639.4C406.0,1634.7 406.9,1630.0 408.1,1625.4C409.2,1620.7 410.4,1616.0 411.4,1611.3C412.7,1605.7 414.8,1600.0 414.8,1594.4C414.8,1590.7 414.2,1586.9 413.7,1583.2C413.0,1578.5 411.6,1573.8 410.3,1569.1C409.0,1564.4 407.3,1559.7 405.8,1555.0C404.3,1550.3 403.3,1545.7 401.6,1541.0C399.8,1536.3 396.9,1531.6 394.5,1526.9C392.2,1522.2 389.9,1517.5 387.5,1512.8C385.2,1508.2 382.8,1503.5 380.5,1498.8C378.1,1494.1 375.8,1489.4 373.5,1484.7C371.1,1480.0 368.6,1475.3 366.4,1470.6C364.3,1466.0 361.7,1461.3 360.5,1456.6C360.0,1454.7 359.6,1452.8 359.4,1451.0C358.9,1446.3 358.8,1441.6 358.5,1436.9C358.2,1430.3 357.9,1423.8 357.7,1417.2Z" fill="#ebdd7d" fill-opacity="0.5" stroke="#333" stroke-width="3.4" stroke-linejoin="round"/>
<line x1="357.7" y1="1415.0" x2="357.7" y2="1774.4" stroke="#333" stroke-width="3.2"/>
<rect x="350.1" y="1548.0" width="15.2" height="86.6" fill="#f0d878" stroke="#333" stroke-width="3.0"/>
<line x1="350.1" y1="1593.0" x2="365.3" y2="1593.0" stroke="#333" stroke-width="5.8"/>
<circle cx="357.7" cy="1415.0" r="6.3" fill="#333"/>
<circle cx="357.7" cy="1768.8" r="6.3" fill="#333"/>
<circle cx="357.7" cy="1775.9" r="6.3" fill="#333"/>
<path d="M494.3,1366.6C494.0,1377.8 493.7,1389.1 493.5,1400.3C493.2,1409.7 493.2,1419.1 492.9,1428.5C492.7,1433.1 492.1,1437.8 491.2,1442.5C490.3,1447.2 486.5,1451.9 484.2,1456.6C481.8,1461.3 479.7,1466.0 477.1,1470.6C474.6,1475.3 471.3,1480.0 468.7,1484.7C466.1,1489.4 463.8,1494.1 461.7,1498.8C459.6,1503.5 457.7,1508.2 456.0,1512.8C454.4,1517.5 453.2,1522.2 451.8,1526.9C450.5,1531.6 449.0,1536.3 447.9,1541.0C446.7,1545.7 445.7,1550.3 444.8,1555.0C443.9,1559.7 443.0,1564.4 442.3,1569.1C441.6,1573.3 440.6,1577.5 440.6,1581.8C440.6,1586.9 442.4,1592.1 443.4,1597.2C444.3,1601.9 445.1,1606.6 446.2,1611.3C447.3,1616.0 449.0,1620.7 450.4,1625.4C451.9,1630.0 453.1,1634.7 454.9,1639.4C456.7,1644.1 459.6,1648.8 462.0,1653.5C464.3,1658.2 466.4,1662.9 469.0,1667.6C471.5,1672.2 474.6,1676.9 477.4,1681.6C480.2,1686.3 483.6,1691.0 485.9,1695.7C488.1,1700.4 490.8,1705.1 491.5,1709.7C492.4,1716.3 493.0,1722.9 493.2,1729.4C493.5,1738.8 493.5,1748.2 493.7,1757.6C493.9,1765.5 494.1,1773.5 494.3,1781.5C494.5,1773.5 494.7,1765.5 494.9,1757.6C495.1,1748.2 495.1,1738.8 495.4,1729.4C495.6,1722.9 496.2,1716.3 497.1,1709.7C497.8,1705.1 500.5,1700.4 502.7,1695.7C505.0,1691.0 508.4,1686.3 511.2,1681.6C514.0,1676.9 517.1,1672.2 519.6,1667.6C522.2,1662.9 524.3,1658.2 526.6,1653.5C529.0,1648.8 531.9,1644.1 533.7,1639.4C535.5,1634.7 536.7,1630.0 538.2,1625.4C539.6,1620.7 541.3,1616.0 542.4,1611.3C543.5,1606.6 544.3,1601.9 545.2,1597.2C546.2,1592.1 548.0,1586.9 548.0,1581.8C548.0,1577.5 547.0,1573.3 546.3,1569.1C545.6,1564.4 544.7,1559.7 543.8,1555.0C542.9,1550.3 541.9,1545.7 540.7,1541.0C539.6,1536.3 538.1,1531.6 536.8,1526.9C535.4,1522.2 534.2,1517.5 532.6,1512.8C530.9,1508.2 529.0,1503.5 526.9,1498.8C524.8,1494.1 522.5,1489.4 519.9,1484.7C517.3,1480.0 514.0,1475.3 511.5,1470.6C508.9,1466.0 506.8,1461.3 504.4,1456.6C502.1,1451.9 498.3,1447.2 497.4,1442.5C496.5,1437.8 495.9,1433.1 495.7,1428.5C495.4,1419.1 495.4,1409.7 495.1,1400.3C494.9,1389.1 494.6,1377.8 494.3,1366.6Z" fill="#ed8f7b" fill-opacity="0.5" stroke="#333" stroke-width="3.4" stroke-linejoin="round"/>
<line x1="494.3" y1="1365.7" x2="494.3" y2="1782.3" stroke="#333" stroke-width="3.2"/>
<rect x="486.7" y="1530.3" width="15.2" height="89.5" fill="#f4917c" stroke="#333" stroke-width="3.0"/>
<line x1="486.7" y1="1577.0" x2="501.9" y2="1577.0" stroke="#333" stroke-width="5.8"/>
<circle cx="494.3" cy="1365.7" r="6.3" fill="#333"/>
<circle cx="494.3" cy="1393.3" r="6.3" fill="#333"/>
<circle cx="494.3" cy="1397.8" r="6.3" fill="#333"/>
<circle cx="494.3" cy="1782.3" r="6.3" fill="#333"/>
<path d="M630.9,1389.6C630.7,1397.9 630.4,1406.1 630.1,1414.4C629.8,1421.0 629.7,1427.5 629.2,1434.1C629.0,1436.9 628.1,1439.7 627.2,1442.5C625.8,1447.2 622.9,1451.9 620.8,1456.6C618.6,1461.3 616.4,1466.0 614.3,1470.6C612.2,1475.3 610.1,1480.0 608.1,1484.7C606.2,1489.4 604.6,1494.1 602.5,1498.8C600.4,1503.5 597.4,1508.2 595.5,1512.8C593.5,1517.5 591.1,1522.2 590.4,1526.9C589.7,1531.6 589.6,1536.3 589.0,1541.0C588.3,1545.7 586.8,1550.3 585.6,1555.0C584.4,1559.7 582.8,1564.4 582.0,1569.1C581.1,1573.8 580.4,1578.5 580.0,1583.2C579.6,1587.9 579.1,1592.5 579.1,1597.2C579.1,1601.9 579.9,1606.6 580.5,1611.3C581.2,1616.0 582.7,1620.7 584.2,1625.4C585.7,1630.0 587.7,1634.7 589.8,1639.4C592.0,1644.1 594.5,1648.8 597.1,1653.5C599.8,1658.2 602.8,1662.9 605.6,1667.6C608.4,1672.2 611.2,1676.9 614.0,1681.6C616.8,1686.3 620.0,1691.0 622.5,1695.7C624.4,1699.4 627.1,1703.2 627.8,1706.9C628.9,1712.6 629.5,1718.2 629.8,1723.8C630.1,1729.4 630.2,1735.1 630.3,1740.7C630.5,1747.1 630.7,1753.4 630.9,1759.8C631.1,1753.4 631.3,1747.1 631.5,1740.7C631.6,1735.1 631.7,1729.4 632.0,1723.8C632.3,1718.2 632.9,1712.6 634.0,1706.9C634.7,1703.2 637.4,1699.4 639.3,1695.7C641.8,1691.0 645.0,1686.3 647.8,1681.6C650.6,1676.9 653.4,1672.2 656.2,1667.6C659.0,1662.9 662.0,1658.2 664.7,1653.5C667.3,1648.8 669.8,1644.1 672.0,1639.4C674.1,1634.7 676.1,1630.0 677.6,1625.4C679.1,1620.7 680.6,1616.0 681.3,1611.3C681.9,1606.6 682.7,1601.9 682.7,1597.2C682.7,1592.5 682.2,1587.9 681.8,1583.2C681.4,1578.5 680.7,1573.8 679.8,1569.1C679.0,1564.4 677.4,1559.7 676.2,1555.0C675.0,1550.3 673.5,1545.7 672.8,1541.0C672.2,1536.3 672.1,1531.6 671.4,1526.9C670.7,1522.2 668.3,1517.5 666.3,1512.8C664.4,1508.2 661.4,1503.5 659.3,1498.8C657.2,1494.1 655.6,1489.4 653.7,1484.7C651.7,1480.0 649.6,1475.3 647.5,1470.6C645.4,1466.0 643.2,1461.3 641.0,1456.6C638.9,1451.9 636.0,1447.2 634.6,1442.5C633.7,1439.7 632.8,1436.9 632.6,1434.1C632.1,1427.5 632.0,1421.0 631.7,1414.4C631.4,1406.1 631.1,1397.9 630.9,1389.6Z" fill="#935999" fill-opacity="0.5" stroke="#333" stroke-width="3.4" stroke-linejoin="round"/>
<line x1="630.9" y1="1388.5" x2="630.9" y2="1760.4" stroke="#333" stroke-width="3.2"/>
<rect x="623.3" y="1531.1" width="15.2" height="92.8" fill="#9a62a0" stroke="#333" stroke-width="3.0"/>
<line x1="623.3" y1="1579.8" x2="638.5" y2="1579.8" stroke="#333" stroke-width="5.8"/>
<circle cx="630.9" cy="1388.5" r="6.3" fill="#333"/>
<circle cx="630.9" cy="1760.4" r="6.3" fill="#333"/>
<path d="M767.6,1377.8C767.4,1386.3 767.1,1394.7 766.8,1403.1C766.5,1409.7 766.5,1416.3 765.9,1422.8C765.8,1424.7 765.1,1426.6 764.5,1428.5C763.1,1433.1 760.8,1437.8 758.9,1442.5C757.0,1447.2 755.1,1451.9 753.3,1456.6C751.4,1461.3 749.5,1466.0 747.6,1470.6C745.8,1475.3 743.9,1480.0 742.0,1484.7C740.1,1489.4 738.5,1494.1 736.4,1498.8C734.3,1503.5 731.1,1508.2 729.3,1512.8C727.6,1517.5 726.2,1522.2 725.1,1526.9C724.0,1531.6 723.2,1536.3 722.3,1541.0C721.4,1545.7 720.3,1550.3 719.5,1555.0C718.7,1559.7 717.9,1564.4 717.5,1569.1C717.1,1573.8 716.7,1578.5 716.7,1583.2C716.7,1587.9 716.7,1592.5 716.7,1597.2C716.7,1601.9 717.3,1606.6 718.1,1611.3C718.8,1616.0 721.5,1620.7 723.7,1625.4C726.0,1630.0 729.3,1634.7 732.2,1639.4C735.0,1644.1 737.8,1648.8 740.6,1653.5C743.4,1658.2 746.5,1662.9 749.0,1667.6C751.6,1672.2 753.7,1676.9 756.1,1681.6C758.4,1686.3 761.7,1691.0 763.1,1695.7C764.2,1699.4 765.3,1703.2 765.6,1706.9C766.3,1714.4 766.6,1721.9 766.8,1729.4C766.9,1736.9 766.9,1744.4 767.0,1751.9C767.2,1760.4 767.4,1768.8 767.6,1777.3C767.8,1768.8 768.0,1760.4 768.2,1751.9C768.3,1744.4 768.3,1736.9 768.4,1729.4C768.6,1721.9 768.9,1714.4 769.6,1706.9C769.9,1703.2 771.0,1699.4 772.1,1695.7C773.5,1691.0 776.8,1686.3 779.1,1681.6C781.5,1676.9 783.6,1672.2 786.2,1667.6C788.7,1662.9 791.8,1658.2 794.6,1653.5C797.4,1648.8 800.2,1644.1 803.0,1639.4C805.9,1634.7 809.2,1630.0 811.5,1625.4C813.7,1620.7 816.4,1616.0 817.1,1611.3C817.9,1606.6 818.5,1601.9 818.5,1597.2C818.5,1592.5 818.5,1587.9 818.5,1583.2C818.5,1578.5 818.1,1573.8 817.7,1569.1C817.3,1564.4 816.5,1559.7 815.7,1555.0C814.9,1550.3 813.8,1545.7 812.9,1541.0C812.0,1536.3 811.2,1531.6 810.1,1526.9C809.0,1522.2 807.6,1517.5 805.9,1512.8C804.1,1508.2 800.9,1503.5 798.8,1498.8C796.7,1494.1 795.1,1489.4 793.2,1484.7C791.3,1480.0 789.4,1475.3 787.6,1470.6C785.7,1466.0 783.8,1461.3 781.9,1456.6C780.1,1451.9 778.2,1447.2 776.3,1442.5C774.4,1437.8 772.1,1433.1 770.7,1428.5C770.1,1426.6 769.4,1424.7 769.3,1422.8C768.7,1416.3 768.7,1409.7 768.4,1403.1C768.1,1394.7 767.8,1386.3 767.6,1377.8Z" fill="#474f91" fill-opacity="0.5" stroke="#333" stroke-width="3.4" stroke-linejoin="round"/>
<line x1="767.6" y1="1376.4" x2="767.6" y2="1778.7" stroke="#333" stroke-width="3.2"/>
<rect x="760.0" y="1527.7" width="15.2" height="92.8" fill="#464a8c" stroke="#333" stroke-width="3.0"/>
<line x1="760.0" y1="1577.0" x2="775.2" y2="1577.0" stroke="#333" stroke-width="5.8"/>
<circle cx="767.6" cy="1376.4" r="6.3" fill="#333"/>
<circle cx="767.6" cy="1382.3" r="6.3" fill="#333"/>
<circle cx="767.6" cy="1389.1" r="6.3" fill="#333"/>
<circle cx="767.6" cy="1765.4" r="6.3" fill="#333"/>
<circle cx="767.6" cy="1778.7" r="6.3" fill="#333"/>
<rect x="139.6" y="1343.5" width="709.6" height="488.5" fill="none" stroke="#000" stroke-width="1.8"/>
<line x1="129.6" y1="1510.9" x2="139.6" y2="1510.9" stroke="#000" stroke-width="1.5"/>
<text x="125.4" y="1519.8" font-size="24.5" text-anchor="end">1.0</text>
<line x1="129.6" y1="1705.5" x2="139.6" y2="1705.5" stroke="#000" stroke-width="1.5"/>
<text x="125.4" y="1714.4" font-size="24.5" text-anchor="end">0.5</text>
<line x1="221.3" y1="1832.0" x2="221.3" y2="1842.0" stroke="#000" stroke-width="1.5"/>
<text x="221.8" y="1864.8" font-size="25.3" text-anchor="middle">0h</text>
<line x1="357.7" y1="1832.0" x2="357.7" y2="1842.0" stroke="#000" stroke-width="1.5"/>
<text x="358.2" y="1864.8" font-size="25.3" text-anchor="middle">1h</text>
<line x1="494.3" y1="1832.0" x2="494.3" y2="1842.0" stroke="#000" stroke-width="1.5"/>
<text x="494.8" y="1864.8" font-size="25.3" text-anchor="middle">6h</text>
<line x1="630.9" y1="1832.0" x2="630.9" y2="1842.0" stroke="#000" stroke-width="1.5"/>
<text x="631.4" y="1864.8" font-size="25.3" text-anchor="middle">10h</text>
<line x1="767.6" y1="1832.0" x2="767.6" y2="1842.0" stroke="#000" stroke-width="1.5"/>
<text x="768.1" y="1864.8" font-size="25.3" text-anchor="middle">24h</text>
<text x="539.5" y="1899.0" font-size="33.5" text-anchor="middle">Timepoint</text>
<text transform="translate(28.5,1604.6) rotate(-90)" font-size="33" text-anchor="middle">RBPJ</text>
<text transform="translate(69.5,1591.0) rotate(-90)" font-size="32.3" text-anchor="middle" letter-spacing="-0.1">(denoised gene expression)</text>
<text x="1189.5" y="39.4" font-size="48">b</text>
<text x="1353.0" y="61.2" font-size="31.4" letter-spacing="-1.35">M1 polarization</text>
<text x="1863.0" y="61.5" font-size="31.4" letter-spacing="-1.3">M2 polarization</text>
<line x1="1222.8" y1="112.6" x2="1222.8" y2="1844.3" stroke="#7f7f7f" stroke-width="1.4"/>
<line x1="1222.1" y1="1844.3" x2="2157.5" y2="1844.3" stroke="#7f7f7f" stroke-width="1.4"/>
<text transform="translate(1212.3,824.3) rotate(-90)" font-size="31" textLength="89.8" lengthAdjust="spacingAndGlyphs">Density</text>
<text x="1582.3" y="1879.0" font-size="29.4" textLength="163.5" lengthAdjust="spacingAndGlyphs">Factor weight</text>
<line x1="1260.0" y1="192.1" x2="1643.5" y2="192.1" stroke="#f1f1f4" stroke-width="1.0"/>
<line x1="1260.0" y1="162.1" x2="1643.5" y2="162.1" stroke="#f1f1f4" stroke-width="1.0"/>
<line x1="1260.0" y1="132.1" x2="1643.5" y2="132.1" stroke="#f1f1f4" stroke-width="1.0"/>
<line x1="1297.4" y1="96.0" x2="1297.4" y2="211.1" stroke="#f1f1f4" stroke-width="1.0"/>
<line x1="1381.9" y1="96.0" x2="1381.9" y2="211.1" stroke="#f1f1f4" stroke-width="1.0"/>
<line x1="1466.4" y1="96.0" x2="1466.4" y2="211.1" stroke="#f1f1f4" stroke-width="1.0"/>
<line x1="1550.9" y1="96.0" x2="1550.9" y2="211.1" stroke="#f1f1f4" stroke-width="1.0"/>
<line x1="1635.6" y1="96.0" x2="1635.6" y2="211.1" stroke="#f1f1f4" stroke-width="1.0"/>
<line x1="1260.0" y1="206.5" x2="1643.5" y2="206.5" stroke="#e9e9ed" stroke-width="1.5"/>
<line x1="1260.0" y1="177.1" x2="1643.5" y2="177.1" stroke="#e9e9ed" stroke-width="1.5"/>
<line x1="1260.0" y1="147.1" x2="1643.5" y2="147.1" stroke="#e9e9ed" stroke-width="1.5"/>
<line x1="1260.0" y1="117.0" x2="1643.5" y2="117.0" stroke="#e9e9ed" stroke-width="1.5"/>
<line x1="1339.7" y1="96.0" x2="1339.7" y2="211.1" stroke="#e9e9ed" stroke-width="1.5"/>
<line x1="1424.2" y1="96.0" x2="1424.2" y2="211.1" stroke="#e9e9ed" stroke-width="1.5"/>
<line x1="1508.6" y1="96.0" x2="1508.6" y2="211.1" stroke="#e9e9ed" stroke-width="1.5"/>
<line x1="1593.3" y1="96.0" x2="1593.3" y2="211.1" stroke="#e9e9ed" stroke-width="1.5"/>
<path d="M1276.0,206.5C1278.0,206.5 1280.0,205.0 1282.0,203.1C1284.0,201.3 1286.0,195.3 1288.0,189.1C1290.0,182.9 1292.0,170.4 1294.0,161.1C1296.0,151.7 1298.0,141.5 1300.0,133.1C1302.0,124.6 1304.0,114.9 1306.0,110.0C1307.4,106.8 1308.7,103.7 1310.0,102.6C1311.0,101.8 1312.1,101.0 1313.1,101.0C1314.4,101.0 1315.7,102.6 1317.1,104.0C1318.7,105.8 1320.4,109.7 1322.1,113.0C1324.1,117.1 1326.1,122.3 1328.1,127.1C1329.7,131.0 1331.4,136.5 1333.1,139.1C1334.7,141.6 1336.4,142.7 1338.1,144.7C1339.4,146.2 1340.7,147.4 1342.1,149.5C1344.1,152.6 1346.1,158.2 1348.1,163.1C1350.1,168.0 1352.1,174.3 1354.1,179.1C1356.1,183.9 1358.1,188.8 1360.1,192.1C1362.1,195.4 1364.1,198.4 1366.1,200.1C1368.8,202.4 1371.4,204.6 1374.1,205.1C1378.1,206.0 1382.1,206.5 1386.1,206.5C1466.5,206.5 1547.0,206.5 1627.4,206.5" fill="#5bd6e7" fill-opacity="0.4" stroke="#5bd6e7" stroke-width="2.3" stroke-linejoin="round" stroke-linecap="round"/>
<path d="M1276.0,206.5C1280.7,206.5 1285.4,206.5 1290.0,206.5C1292.7,206.5 1295.4,205.0 1298.0,203.1C1300.0,201.7 1302.0,197.7 1304.0,193.1C1306.0,188.5 1308.0,179.0 1310.0,171.1C1312.1,163.1 1314.1,151.9 1316.1,145.1C1318.1,138.2 1320.1,132.1 1322.1,128.1C1324.4,123.3 1326.7,119.5 1329.1,117.0C1330.7,115.3 1332.4,113.7 1334.1,113.0C1335.5,112.4 1337.0,111.8 1338.5,111.8C1340.3,111.8 1342.2,113.4 1344.1,114.6C1346.1,115.9 1348.1,117.9 1350.1,120.0C1351.4,121.5 1352.8,122.7 1354.1,125.1C1355.4,127.4 1356.8,132.9 1358.1,137.1C1360.1,143.4 1362.1,150.8 1364.1,157.1C1366.1,163.4 1368.1,169.8 1370.1,175.1C1372.1,180.4 1374.1,185.5 1376.1,189.1C1378.1,192.8 1380.1,196.1 1382.1,198.1C1384.8,200.8 1387.5,203.3 1390.1,204.1C1394.1,205.4 1398.1,206.5 1402.1,206.5C1477.2,206.5 1552.3,206.5 1627.4,206.5" fill="#c4f48a" fill-opacity="0.3" stroke="#c4f48a" stroke-width="2.3" stroke-linejoin="round" stroke-linecap="round"/>
<path d="M1276.0,206.5C1322.1,206.5 1368.1,206.5 1414.2,206.5C1420.2,206.5 1426.2,204.8 1432.2,203.1C1437.5,201.7 1442.8,198.7 1448.2,195.1C1452.9,192.0 1457.5,186.1 1462.2,181.1C1466.2,176.8 1470.2,171.0 1474.2,167.1C1478.2,163.2 1482.2,157.1 1486.2,157.1C1489.6,157.1 1492.9,162.1 1496.2,162.1C1500.2,162.1 1504.2,159.1 1508.2,158.1C1512.9,156.9 1517.6,155.1 1522.3,155.1C1525.6,155.1 1528.9,157.1 1532.3,158.1C1535.6,159.1 1538.9,159.6 1542.3,161.1C1544.9,162.2 1547.6,164.7 1550.3,167.1C1554.3,170.7 1558.3,176.8 1562.3,181.1C1566.3,185.4 1570.3,189.9 1574.3,193.1C1578.3,196.3 1582.3,199.5 1586.3,201.1C1591.7,203.2 1597.0,205.1 1602.3,205.5C1609.0,206.1 1615.7,206.5 1622.4,206.5C1624.0,206.5 1625.7,206.5 1627.4,206.5" fill="#7fc99a" fill-opacity="0.32" stroke="#7fc99a" stroke-width="2.3" stroke-linejoin="round" stroke-linecap="round"/>
<path d="M1276.0,206.5C1318.1,206.5 1360.1,206.5 1402.1,206.5C1410.1,206.5 1418.2,205.7 1426.2,204.7C1431.5,204.1 1436.8,202.2 1442.2,200.1C1446.2,198.6 1450.2,195.6 1454.2,193.1C1458.2,190.6 1462.2,188.5 1466.2,185.1C1470.2,181.7 1474.2,176.5 1478.2,171.1C1481.6,166.6 1484.9,159.7 1488.2,155.1C1491.6,150.5 1494.9,145.2 1498.2,143.1C1502.2,140.6 1506.2,138.1 1510.2,138.1C1513.6,138.1 1516.9,140.1 1520.3,142.1C1523.6,144.0 1526.9,149.1 1530.3,153.1C1534.3,157.9 1538.3,163.4 1542.3,169.1C1546.3,174.7 1550.3,182.3 1554.3,187.1C1558.3,191.9 1562.3,196.6 1566.3,199.1C1570.3,201.7 1574.3,204.0 1578.3,204.7C1583.7,205.7 1589.0,206.5 1594.3,206.5C1605.3,206.5 1616.4,206.5 1627.4,206.5" fill="#3f8d88" fill-opacity="0.3" stroke="#3f8d88" stroke-width="2.3" stroke-linejoin="round" stroke-linecap="round"/>
<path d="M1276.0,206.5C1314.7,206.5 1353.4,206.5 1392.1,206.5C1402.1,206.5 1412.2,205.7 1422.2,204.7C1427.5,204.2 1432.8,203.4 1438.2,202.1C1442.2,201.2 1446.2,199.1 1450.2,197.1C1454.2,195.2 1458.2,192.5 1462.2,190.1C1465.5,188.1 1468.9,186.8 1472.2,184.1C1475.5,181.4 1478.9,176.4 1482.2,171.1C1485.6,165.8 1488.9,156.6 1492.2,151.1C1495.6,145.6 1498.9,140.4 1502.2,137.1C1504.9,134.4 1507.6,131.8 1510.2,130.7C1512.4,129.7 1514.5,128.7 1516.7,128.7C1518.5,128.7 1520.4,129.6 1522.3,130.7C1524.9,132.2 1527.6,138.6 1530.3,143.1C1534.3,149.8 1538.3,157.8 1542.3,165.1C1545.6,171.1 1549.0,178.1 1552.3,183.1C1555.6,188.1 1559.0,193.3 1562.3,196.1C1566.3,199.5 1570.3,202.5 1574.3,203.5C1579.7,204.9 1585.0,206.0 1590.3,206.1C1602.3,206.4 1614.4,206.5 1626.4,206.5C1626.7,206.5 1627.0,206.5 1627.4,206.5" fill="#1c4567" fill-opacity="0.28" stroke="#1c4567" stroke-width="2.3" stroke-linejoin="round" stroke-linecap="round"/>
<text x="1230.6" y="212.0" font-size="22.8" textLength="33.0" lengthAdjust="spacingAndGlyphs">0.0</text>
<text x="1230.6" y="182.6" font-size="22.8" textLength="33.0" lengthAdjust="spacingAndGlyphs">0.5</text>
<text x="1230.6" y="152.6" font-size="22.8" textLength="33.0" lengthAdjust="spacingAndGlyphs">1.0</text>
<text x="1230.6" y="122.5" font-size="22.8" textLength="33.0" lengthAdjust="spacingAndGlyphs">1.5</text>
<text x="1329.7" y="230.5" font-size="22.8" textLength="27.0" lengthAdjust="spacingAndGlyphs">−1</text>
<text x="1419.6" y="230.5" font-size="22.8" textLength="13.2" lengthAdjust="spacingAndGlyphs">0</text>
<text x="1504.1" y="230.5" font-size="22.8" textLength="13.2" lengthAdjust="spacingAndGlyphs">1</text>
<text x="1588.7" y="230.5" font-size="22.8" textLength="13.2" lengthAdjust="spacingAndGlyphs">2</text>
<text x="1552.0" y="96.1" font-size="23.3">Factor 1</text>
<text x="1552.0" y="124.8" font-size="23.3">(sustained resp.)</text>
<line x1="1260.0" y1="370.7" x2="1643.5" y2="370.7" stroke="#f1f1f4" stroke-width="1.0"/>
<line x1="1260.0" y1="342.5" x2="1643.5" y2="342.5" stroke="#f1f1f4" stroke-width="1.0"/>
<line x1="1260.0" y1="314.5" x2="1643.5" y2="314.5" stroke="#f1f1f4" stroke-width="1.0"/>
<line x1="1260.0" y1="286.2" x2="1643.5" y2="286.2" stroke="#f1f1f4" stroke-width="1.0"/>
<line x1="1353.7" y1="274.6" x2="1353.7" y2="389.1" stroke="#f1f1f4" stroke-width="1.0"/>
<line x1="1474.8" y1="274.6" x2="1474.8" y2="389.1" stroke="#f1f1f4" stroke-width="1.0"/>
<line x1="1596.3" y1="274.6" x2="1596.3" y2="389.1" stroke="#f1f1f4" stroke-width="1.0"/>
<line x1="1260.0" y1="384.5" x2="1643.5" y2="384.5" stroke="#e9e9ed" stroke-width="1.5"/>
<line x1="1260.0" y1="356.7" x2="1643.5" y2="356.7" stroke="#e9e9ed" stroke-width="1.5"/>
<line x1="1260.0" y1="328.5" x2="1643.5" y2="328.5" stroke="#e9e9ed" stroke-width="1.5"/>
<line x1="1260.0" y1="300.2" x2="1643.5" y2="300.2" stroke="#e9e9ed" stroke-width="1.5"/>
<line x1="1293.0" y1="274.6" x2="1293.0" y2="389.1" stroke="#e9e9ed" stroke-width="1.5"/>
<line x1="1414.2" y1="274.6" x2="1414.2" y2="389.1" stroke="#e9e9ed" stroke-width="1.5"/>
<line x1="1535.7" y1="274.6" x2="1535.7" y2="389.1" stroke="#e9e9ed" stroke-width="1.5"/>
<path d="M1276.0,384.5C1280.0,384.5 1284.0,383.9 1288.0,383.1C1292.7,382.3 1297.4,379.8 1302.0,377.1C1306.0,374.8 1310.0,371.2 1314.1,367.1C1318.1,363.0 1322.1,356.1 1326.1,351.1C1330.1,346.1 1334.1,339.9 1338.1,337.1C1341.4,334.8 1344.7,332.9 1348.1,332.1C1350.8,331.4 1353.4,330.7 1356.1,330.7C1359.4,330.7 1362.8,332.1 1366.1,333.1C1370.1,334.3 1374.1,336.8 1378.1,338.1C1382.1,339.3 1386.1,341.1 1390.1,341.1C1394.1,341.1 1398.1,340.5 1402.1,340.1C1406.1,339.7 1410.1,338.7 1414.2,338.7C1418.2,338.7 1422.2,338.7 1426.2,338.7C1429.5,338.7 1432.8,340.6 1436.2,342.1C1439.5,343.6 1442.8,346.6 1446.2,349.1C1450.2,352.1 1454.2,356.6 1458.2,359.1C1462.2,361.6 1466.2,364.0 1470.2,365.1C1474.2,366.3 1478.2,367.5 1482.2,367.5C1486.2,367.5 1490.2,367.1 1494.2,367.1C1498.2,367.1 1502.2,367.3 1506.2,367.5C1511.6,367.8 1516.9,368.5 1522.3,368.7C1527.6,368.9 1532.9,369.1 1538.3,369.1C1543.6,369.1 1549.0,369.1 1554.3,369.1C1558.3,369.1 1562.3,370.0 1566.3,370.7C1571.6,371.7 1577.0,373.6 1582.3,375.1C1587.7,376.7 1593.0,378.9 1598.3,380.1C1603.7,381.4 1609.0,382.4 1614.4,383.1C1618.7,383.7 1623.0,384.2 1627.4,384.5" fill="#5bd6e7" fill-opacity="0.4" stroke="#5bd6e7" stroke-width="2.3" stroke-linejoin="round" stroke-linecap="round"/>
<path d="M1276.0,384.5L1276.0,382.1C1279.4,381.2 1282.7,379.3 1286.0,377.1C1290.0,374.5 1294.0,369.7 1298.0,365.1C1302.0,360.5 1306.0,353.2 1310.0,349.1C1314.1,345.0 1318.1,340.7 1322.1,339.1C1326.1,337.5 1330.1,335.9 1334.1,335.9C1338.1,335.9 1342.1,336.3 1346.1,336.7C1350.1,337.1 1354.1,337.8 1358.1,338.7C1362.1,339.5 1366.1,341.6 1370.1,342.1C1374.1,342.6 1378.1,343.1 1382.1,343.1C1386.1,343.1 1390.1,340.7 1394.1,339.1C1398.1,337.5 1402.1,334.1 1406.1,333.1C1410.1,332.1 1414.2,331.1 1418.2,331.1C1421.5,331.1 1424.8,332.1 1428.2,333.1C1431.5,334.1 1434.8,336.6 1438.2,339.1C1442.2,342.1 1446.2,347.5 1450.2,351.1C1454.2,354.7 1458.2,358.9 1462.2,361.1C1466.2,363.3 1470.2,364.9 1474.2,366.1C1478.2,367.4 1482.2,368.4 1486.2,369.1C1491.6,370.0 1496.9,370.5 1502.2,371.1C1508.9,371.9 1515.6,372.5 1522.3,373.1C1528.9,373.7 1535.6,374.1 1542.3,374.7C1549.0,375.3 1555.6,375.9 1562.3,376.7C1569.0,377.5 1575.6,378.6 1582.3,379.5C1589.0,380.4 1595.7,381.4 1602.3,382.1C1610.7,383.1 1619.0,383.9 1627.4,384.5L1627.4,384.5Z" fill="#c4f48a" fill-opacity="0.3"/>
<path d="M1276.0,382.1C1279.4,381.2 1282.7,379.3 1286.0,377.1C1290.0,374.5 1294.0,369.7 1298.0,365.1C1302.0,360.5 1306.0,353.2 1310.0,349.1C1314.1,345.0 1318.1,340.7 1322.1,339.1C1326.1,337.5 1330.1,335.9 1334.1,335.9C1338.1,335.9 1342.1,336.3 1346.1,336.7C1350.1,337.1 1354.1,337.8 1358.1,338.7C1362.1,339.5 1366.1,341.6 1370.1,342.1C1374.1,342.6 1378.1,343.1 1382.1,343.1C1386.1,343.1 1390.1,340.7 1394.1,339.1C1398.1,337.5 1402.1,334.1 1406.1,333.1C1410.1,332.1 1414.2,331.1 1418.2,331.1C1421.5,331.1 1424.8,332.1 1428.2,333.1C1431.5,334.1 1434.8,336.6 1438.2,339.1C1442.2,342.1 1446.2,347.5 1450.2,351.1C1454.2,354.7 1458.2,358.9 1462.2,361.1C1466.2,363.3 1470.2,364.9 1474.2,366.1C1478.2,367.4 1482.2,368.4 1486.2,369.1C1491.6,370.0 1496.9,370.5 1502.2,371.1C1508.9,371.9 1515.6,372.5 1522.3,373.1C1528.9,373.7 1535.6,374.1 1542.3,374.7C1549.0,375.3 1555.6,375.9 1562.3,376.7C1569.0,377.5 1575.6,378.6 1582.3,379.5C1589.0,380.4 1595.7,381.4 1602.3,382.1C1610.7,383.1 1619.0,383.9 1627.4,384.5" fill="none" stroke="#c4f48a" stroke-width="2.3" stroke-linejoin="round" stroke-linecap="round"/>
<path d="M1276.0,384.5C1288.0,384.5 1300.0,384.5 1312.1,384.5C1316.1,384.5 1320.1,383.5 1324.1,382.1C1327.4,381.0 1330.7,377.1 1334.1,373.1C1336.7,369.9 1339.4,364.6 1342.1,359.1C1344.7,353.6 1347.4,344.1 1350.1,339.1C1352.8,334.1 1355.4,330.3 1358.1,327.1C1360.8,323.9 1363.4,321.3 1366.1,319.1C1369.4,316.3 1372.8,314.1 1376.1,312.1C1379.5,310.0 1382.8,307.6 1386.1,306.7C1388.8,305.9 1391.5,305.1 1394.1,305.1C1396.8,305.1 1399.5,305.8 1402.1,306.1C1405.5,306.4 1408.8,306.7 1412.2,307.1C1415.5,307.4 1418.8,307.5 1422.2,308.1C1424.8,308.5 1427.5,310.6 1430.2,313.1C1432.8,315.5 1435.5,322.3 1438.2,327.1C1441.5,333.0 1444.8,339.8 1448.2,345.1C1451.5,350.3 1454.9,356.6 1458.2,359.1C1462.2,362.1 1466.2,364.0 1470.2,365.1C1474.2,366.3 1478.2,367.2 1482.2,367.5C1485.6,367.8 1488.9,367.8 1492.2,368.1C1495.6,368.5 1498.9,370.8 1502.2,372.1C1507.6,374.2 1512.9,376.7 1518.3,378.1C1524.9,379.9 1531.6,381.2 1538.3,382.1C1546.3,383.2 1554.3,384.5 1562.3,384.5C1584.0,384.5 1605.7,384.5 1627.4,384.5" fill="#7fc99a" fill-opacity="0.32" stroke="#7fc99a" stroke-width="2.3" stroke-linejoin="round" stroke-linecap="round"/>
<path d="M1276.0,384.5C1291.4,384.5 1306.7,384.5 1322.1,384.5C1327.4,384.5 1332.7,383.5 1338.1,382.1C1342.1,381.1 1346.1,377.1 1350.1,373.1C1353.4,369.8 1356.8,364.8 1360.1,359.1C1363.4,353.4 1366.8,345.3 1370.1,337.1C1372.8,330.5 1375.4,322.1 1378.1,315.1C1380.8,308.1 1383.5,300.6 1386.1,295.0C1388.1,290.8 1390.1,285.9 1392.1,284.0C1394.8,281.5 1397.5,279.0 1400.1,279.0C1402.8,279.0 1405.5,281.1 1408.1,282.6C1410.8,284.2 1413.5,286.5 1416.2,289.0C1418.8,291.5 1421.5,294.5 1424.2,298.0C1426.8,301.6 1429.5,306.3 1432.2,311.1C1434.8,315.8 1437.5,321.7 1440.2,327.1C1442.8,332.4 1445.5,338.7 1448.2,343.1C1451.5,348.6 1454.9,354.1 1458.2,357.1C1462.2,360.8 1466.2,364.0 1470.2,365.1C1474.2,366.2 1478.2,367.1 1482.2,367.1C1484.9,367.1 1487.6,367.1 1490.2,367.1C1494.2,367.1 1498.2,369.7 1502.2,371.1C1507.6,373.0 1512.9,375.5 1518.3,377.1C1524.9,379.1 1531.6,381.2 1538.3,382.1C1546.3,383.3 1554.3,384.5 1562.3,384.5C1584.0,384.5 1605.7,384.5 1627.4,384.5" fill="#3f8d88" fill-opacity="0.3" stroke="#3f8d88" stroke-width="2.3" stroke-linejoin="round" stroke-linecap="round"/>
<path d="M1276.0,384.5C1284.7,384.5 1293.4,384.5 1302.0,384.5C1310.0,384.5 1318.1,384.1 1326.1,383.5C1331.4,383.1 1336.7,381.4 1342.1,379.1C1346.1,377.4 1350.1,373.4 1354.1,369.1C1358.1,364.8 1362.1,357.7 1366.1,351.1C1369.4,345.6 1372.8,338.3 1376.1,333.1C1379.5,327.8 1382.8,323.0 1386.1,319.1C1389.5,315.2 1392.8,311.6 1396.1,309.1C1399.5,306.6 1402.8,304.3 1406.1,303.1C1409.5,301.8 1412.8,300.8 1416.2,300.4C1418.2,300.2 1420.2,300.0 1422.2,300.0C1424.2,300.0 1426.2,301.0 1428.2,302.0C1430.8,303.4 1433.5,307.6 1436.2,311.1C1438.8,314.5 1441.5,319.9 1444.2,323.1C1446.9,326.3 1449.5,329.0 1452.2,331.1C1454.9,333.1 1457.5,334.8 1460.2,336.1C1463.5,337.7 1466.9,338.2 1470.2,340.1C1472.9,341.6 1475.5,344.6 1478.2,347.1C1481.6,350.2 1484.9,354.1 1488.2,357.1C1491.6,360.1 1494.9,362.9 1498.2,365.1C1502.2,367.8 1506.2,370.3 1510.2,372.1C1515.6,374.6 1520.9,376.7 1526.3,378.1C1532.9,379.9 1539.6,381.4 1546.3,382.1C1555.0,383.1 1563.6,384.0 1572.3,384.1C1590.7,384.4 1609.0,384.5 1627.4,384.5" fill="#1c4567" fill-opacity="0.28" stroke="#1c4567" stroke-width="2.3" stroke-linejoin="round" stroke-linecap="round"/>
<text x="1230.6" y="390.0" font-size="22.8" textLength="33.0" lengthAdjust="spacingAndGlyphs">0.0</text>
<text x="1230.6" y="362.2" font-size="22.8" textLength="33.0" lengthAdjust="spacingAndGlyphs">0.2</text>
<text x="1230.6" y="334.0" font-size="22.8" textLength="33.0" lengthAdjust="spacingAndGlyphs">0.4</text>
<text x="1230.6" y="305.7" font-size="22.8" textLength="33.0" lengthAdjust="spacingAndGlyphs">0.6</text>
<text x="1283.0" y="408.5" font-size="22.8" textLength="27.0" lengthAdjust="spacingAndGlyphs">−2</text>
<text x="1409.6" y="408.5" font-size="22.8" textLength="13.2" lengthAdjust="spacingAndGlyphs">0</text>
<text x="1531.1" y="408.5" font-size="22.8" textLength="13.2" lengthAdjust="spacingAndGlyphs">2</text>
<text x="1554.0" y="273.5" font-size="23.3">Factor 2</text>
<line x1="1260.0" y1="545.5" x2="1643.5" y2="545.5" stroke="#f1f1f4" stroke-width="1.0"/>
<line x1="1260.0" y1="510.5" x2="1643.5" y2="510.5" stroke="#f1f1f4" stroke-width="1.0"/>
<line x1="1260.0" y1="475.4" x2="1643.5" y2="475.4" stroke="#f1f1f4" stroke-width="1.0"/>
<line x1="1271.4" y1="453.0" x2="1271.4" y2="567.5" stroke="#f1f1f4" stroke-width="1.0"/>
<line x1="1381.5" y1="453.0" x2="1381.5" y2="567.5" stroke="#f1f1f4" stroke-width="1.0"/>
<line x1="1491.8" y1="453.0" x2="1491.8" y2="567.5" stroke="#f1f1f4" stroke-width="1.0"/>
<line x1="1602.3" y1="453.0" x2="1602.3" y2="567.5" stroke="#f1f1f4" stroke-width="1.0"/>
<line x1="1260.0" y1="562.9" x2="1643.5" y2="562.9" stroke="#e9e9ed" stroke-width="1.5"/>
<line x1="1260.0" y1="527.9" x2="1643.5" y2="527.9" stroke="#e9e9ed" stroke-width="1.5"/>
<line x1="1260.0" y1="492.9" x2="1643.5" y2="492.9" stroke="#e9e9ed" stroke-width="1.5"/>
<line x1="1260.0" y1="457.8" x2="1643.5" y2="457.8" stroke="#e9e9ed" stroke-width="1.5"/>
<line x1="1326.5" y1="453.0" x2="1326.5" y2="567.5" stroke="#e9e9ed" stroke-width="1.5"/>
<line x1="1436.8" y1="453.0" x2="1436.8" y2="567.5" stroke="#e9e9ed" stroke-width="1.5"/>
<line x1="1547.1" y1="453.0" x2="1547.1" y2="567.5" stroke="#e9e9ed" stroke-width="1.5"/>
<path d="M1276.0,562.9C1288.0,562.9 1300.0,562.7 1312.1,562.1C1318.7,561.8 1325.4,560.1 1332.1,558.1C1337.4,556.5 1342.7,552.3 1348.1,549.1C1352.8,546.3 1357.4,542.5 1362.1,540.1C1366.1,538.1 1370.1,536.9 1374.1,535.1C1378.1,533.3 1382.1,531.1 1386.1,529.1C1390.8,526.8 1395.5,524.0 1400.1,522.1C1404.8,520.1 1409.5,518.9 1414.2,517.1C1418.2,515.5 1422.2,514.2 1426.2,512.1C1429.5,510.3 1432.8,507.4 1436.2,505.1C1439.5,502.7 1442.8,500.2 1446.2,498.1C1449.5,495.9 1452.9,493.1 1456.2,492.1C1459.5,491.1 1462.9,490.1 1466.2,490.1C1469.5,490.1 1472.9,490.5 1476.2,491.1C1479.6,491.6 1482.9,493.6 1486.2,495.1C1489.6,496.5 1492.9,498.4 1496.2,500.1C1498.9,501.4 1501.6,502.4 1504.2,504.1C1506.9,505.8 1509.6,508.6 1512.3,511.1C1515.6,514.2 1518.9,518.0 1522.3,521.1C1524.9,523.6 1527.6,525.8 1530.3,528.1C1532.9,530.4 1535.6,532.4 1538.3,535.1C1540.9,537.9 1543.6,542.7 1546.3,545.1C1549.6,548.1 1553.0,550.4 1556.3,552.1C1560.3,554.2 1564.3,556.0 1568.3,557.1C1573.0,558.5 1577.6,559.5 1582.3,560.1C1589.0,561.1 1595.7,561.8 1602.3,562.1C1610.7,562.5 1619.0,562.9 1627.4,562.9" fill="#5bd6e7" fill-opacity="0.4" stroke="#5bd6e7" stroke-width="2.3" stroke-linejoin="round" stroke-linecap="round"/>
<path d="M1276.0,562.9C1284.7,562.9 1293.4,562.1 1302.0,561.1C1307.4,560.5 1312.7,559.1 1318.1,557.1C1322.1,555.6 1326.1,552.8 1330.1,549.1C1333.4,546.1 1336.7,540.6 1340.1,535.1C1343.4,529.6 1346.8,520.6 1350.1,515.1C1353.4,509.6 1356.8,504.1 1360.1,501.1C1362.8,498.6 1365.4,496.3 1368.1,495.5C1370.8,494.6 1373.4,493.9 1376.1,493.9C1379.5,493.9 1382.8,493.9 1386.1,494.1C1390.1,494.2 1394.1,495.8 1398.1,496.1C1402.1,496.4 1406.1,496.5 1410.1,496.7C1413.5,496.8 1416.8,496.8 1420.2,497.1C1423.5,497.3 1426.8,498.8 1430.2,500.1C1434.2,501.6 1438.2,504.1 1442.2,506.1C1446.2,508.1 1450.2,509.9 1454.2,512.1C1458.2,514.2 1462.2,516.6 1466.2,519.1C1470.2,521.6 1474.2,524.6 1478.2,527.1C1482.2,529.6 1486.2,531.9 1490.2,534.1C1494.2,536.3 1498.2,538.0 1502.2,540.1C1506.2,542.3 1510.2,545.0 1514.3,547.1C1518.3,549.3 1522.3,551.6 1526.3,553.1C1531.6,555.2 1536.9,557.0 1542.3,558.1C1549.0,559.5 1555.6,560.5 1562.3,561.1C1572.3,562.0 1582.3,562.9 1592.3,562.9C1604.0,562.9 1615.7,562.9 1627.4,562.9" fill="#c4f48a" fill-opacity="0.3" stroke="#c4f48a" stroke-width="2.3" stroke-linejoin="round" stroke-linecap="round"/>
<path d="M1276.0,562.9C1284.7,562.9 1293.4,562.9 1302.0,562.9C1310.7,562.9 1319.4,561.8 1328.1,560.1C1332.7,559.2 1337.4,556.3 1342.1,553.1C1345.4,550.9 1348.8,546.8 1352.1,543.1C1355.4,539.5 1358.8,534.9 1362.1,531.1C1365.4,527.3 1368.8,523.2 1372.1,520.1C1375.4,517.0 1378.8,512.8 1382.1,512.1C1384.8,511.5 1387.5,511.1 1390.1,511.1C1394.1,511.1 1398.1,511.5 1402.1,511.5C1405.5,511.5 1408.8,510.8 1412.2,510.1C1415.5,509.4 1418.8,507.9 1422.2,506.1C1425.5,504.2 1428.8,499.9 1432.2,497.1C1435.5,494.2 1438.8,491.0 1442.2,489.1C1444.8,487.5 1447.5,485.9 1450.2,485.5C1452.9,485.0 1455.5,484.7 1458.2,484.7C1461.5,484.7 1464.9,486.5 1468.2,488.1C1471.5,489.6 1474.9,492.2 1478.2,495.1C1480.9,497.4 1483.6,500.5 1486.2,504.1C1488.9,507.6 1491.6,512.7 1494.2,517.1C1496.9,521.4 1499.6,526.4 1502.2,530.1C1505.6,534.7 1508.9,538.9 1512.3,542.1C1515.6,545.3 1518.9,548.1 1522.3,550.1C1526.3,552.6 1530.3,554.8 1534.3,556.1C1539.6,557.9 1544.9,559.2 1550.3,560.1C1557.6,561.4 1565.0,562.9 1572.3,562.9C1590.7,562.9 1609.0,562.9 1627.4,562.9" fill="#7fc99a" fill-opacity="0.32" stroke="#7fc99a" stroke-width="2.3" stroke-linejoin="round" stroke-linecap="round"/>
<path d="M1276.0,562.9C1281.4,562.9 1286.7,562.9 1292.0,562.9C1302.0,562.9 1312.1,562.2 1322.1,561.1C1327.4,560.6 1332.7,558.5 1338.1,556.1C1342.1,554.3 1346.1,550.8 1350.1,547.1C1354.1,543.5 1358.1,537.8 1362.1,533.1C1366.1,528.4 1370.1,523.8 1374.1,519.1C1378.1,514.4 1382.1,510.1 1386.1,505.1C1390.1,500.1 1394.1,494.3 1398.1,489.1C1401.5,484.7 1404.8,479.5 1408.1,476.0C1410.8,473.3 1413.5,471.9 1416.2,469.0C1418.2,466.9 1420.2,462.7 1422.2,461.0C1424.2,459.4 1426.2,457.4 1428.2,457.4C1430.2,457.4 1432.2,459.4 1434.2,461.0C1436.2,462.7 1438.2,466.4 1440.2,469.0C1442.2,471.7 1444.2,473.8 1446.2,477.0C1448.2,480.2 1450.2,485.1 1452.2,489.1C1454.9,494.4 1457.5,500.5 1460.2,505.1C1462.9,509.7 1465.5,513.5 1468.2,517.1C1471.5,521.6 1474.9,525.3 1478.2,529.1C1481.6,532.9 1484.9,537.1 1488.2,540.1C1492.2,543.7 1496.2,546.7 1500.2,549.1C1504.9,551.9 1509.6,554.6 1514.3,556.1C1519.6,557.9 1524.9,559.2 1530.3,560.1C1537.6,561.4 1544.9,562.9 1552.3,562.9C1577.3,562.9 1602.3,562.9 1627.4,562.9" fill="#3f8d88" fill-opacity="0.3" stroke="#3f8d88" stroke-width="2.3" stroke-linejoin="round" stroke-linecap="round"/>
<path d="M1276.0,562.9C1288.0,562.9 1300.0,562.6 1312.1,562.1C1318.1,561.9 1324.1,560.6 1330.1,559.1C1334.7,558.0 1339.4,555.3 1344.1,553.1C1348.1,551.3 1352.1,548.3 1356.1,547.1C1360.8,545.7 1365.4,545.3 1370.1,544.1C1374.1,543.1 1378.1,541.9 1382.1,540.1C1385.5,538.6 1388.8,536.1 1392.1,533.1C1395.5,530.2 1398.8,524.3 1402.1,521.1C1405.5,517.9 1408.8,515.6 1412.2,513.1C1415.5,510.6 1418.8,509.2 1422.2,506.1C1424.8,503.6 1427.5,498.4 1430.2,495.1C1432.8,491.8 1435.5,487.9 1438.2,486.1C1440.8,484.2 1443.5,483.1 1446.2,482.1C1448.9,481.1 1451.5,480.1 1454.2,479.6C1457.5,479.1 1460.9,478.6 1464.2,478.6C1466.9,478.6 1469.5,479.4 1472.2,480.0C1474.9,480.7 1477.5,482.4 1480.2,484.1C1482.9,485.8 1485.6,488.3 1488.2,491.1C1490.9,493.8 1493.6,497.4 1496.2,501.1C1498.9,504.7 1501.6,509.4 1504.2,513.1C1506.9,516.7 1509.6,519.8 1512.3,523.1C1515.6,527.2 1518.9,531.5 1522.3,535.1C1525.6,538.7 1528.9,542.4 1532.3,545.1C1535.6,547.9 1538.9,550.4 1542.3,552.1C1546.3,554.2 1550.3,555.9 1554.3,557.1C1559.6,558.7 1565.0,560.1 1570.3,560.7C1577.6,561.6 1585.0,562.4 1592.3,562.5C1604.0,562.8 1615.7,562.9 1627.4,562.9" fill="#1c4567" fill-opacity="0.28" stroke="#1c4567" stroke-width="2.3" stroke-linejoin="round" stroke-linecap="round"/>
<text x="1230.6" y="568.4" font-size="22.8" textLength="33.0" lengthAdjust="spacingAndGlyphs">0.0</text>
<text x="1230.6" y="533.4" font-size="22.8" textLength="33.0" lengthAdjust="spacingAndGlyphs">0.2</text>
<text x="1230.6" y="498.4" font-size="22.8" textLength="33.0" lengthAdjust="spacingAndGlyphs">0.4</text>
<text x="1230.6" y="463.3" font-size="22.8" textLength="33.0" lengthAdjust="spacingAndGlyphs">0.6</text>
<text x="1316.4" y="586.9" font-size="22.8" textLength="27.0" lengthAdjust="spacingAndGlyphs">−2</text>
<text x="1432.2" y="586.9" font-size="22.8" textLength="13.2" lengthAdjust="spacingAndGlyphs">0</text>
<text x="1542.5" y="586.9" font-size="22.8" textLength="13.2" lengthAdjust="spacingAndGlyphs">2</text>
<text x="1554.0" y="452.9" font-size="23.3">Factor 3</text>
<line x1="1260.0" y1="727.7" x2="1643.5" y2="727.7" stroke="#f1f1f4" stroke-width="1.0"/>
<line x1="1260.0" y1="700.7" x2="1643.5" y2="700.7" stroke="#f1f1f4" stroke-width="1.0"/>
<line x1="1260.0" y1="673.7" x2="1643.5" y2="673.7" stroke="#f1f1f4" stroke-width="1.0"/>
<line x1="1260.0" y1="646.6" x2="1643.5" y2="646.6" stroke="#f1f1f4" stroke-width="1.0"/>
<line x1="1281.4" y1="631.6" x2="1281.4" y2="746.1" stroke="#f1f1f4" stroke-width="1.0"/>
<line x1="1345.3" y1="631.6" x2="1345.3" y2="746.1" stroke="#f1f1f4" stroke-width="1.0"/>
<line x1="1409.3" y1="631.6" x2="1409.3" y2="746.1" stroke="#f1f1f4" stroke-width="1.0"/>
<line x1="1473.6" y1="631.6" x2="1473.6" y2="746.1" stroke="#f1f1f4" stroke-width="1.0"/>
<line x1="1537.7" y1="631.6" x2="1537.7" y2="746.1" stroke="#f1f1f4" stroke-width="1.0"/>
<line x1="1601.7" y1="631.6" x2="1601.7" y2="746.1" stroke="#f1f1f4" stroke-width="1.0"/>
<line x1="1260.0" y1="741.3" x2="1643.5" y2="741.3" stroke="#e9e9ed" stroke-width="1.5"/>
<line x1="1260.0" y1="714.3" x2="1643.5" y2="714.3" stroke="#e9e9ed" stroke-width="1.5"/>
<line x1="1260.0" y1="687.3" x2="1643.5" y2="687.3" stroke="#e9e9ed" stroke-width="1.5"/>
<line x1="1260.0" y1="660.3" x2="1643.5" y2="660.3" stroke="#e9e9ed" stroke-width="1.5"/>
<line x1="1260.0" y1="633.2" x2="1643.5" y2="633.2" stroke="#e9e9ed" stroke-width="1.5"/>
<line x1="1313.3" y1="631.6" x2="1313.3" y2="746.1" stroke="#e9e9ed" stroke-width="1.5"/>
<line x1="1377.3" y1="631.6" x2="1377.3" y2="746.1" stroke="#e9e9ed" stroke-width="1.5"/>
<line x1="1441.6" y1="631.6" x2="1441.6" y2="746.1" stroke="#e9e9ed" stroke-width="1.5"/>
<line x1="1505.6" y1="631.6" x2="1505.6" y2="746.1" stroke="#e9e9ed" stroke-width="1.5"/>
<line x1="1569.7" y1="631.6" x2="1569.7" y2="746.1" stroke="#e9e9ed" stroke-width="1.5"/>
<line x1="1633.8" y1="631.6" x2="1633.8" y2="746.1" stroke="#e9e9ed" stroke-width="1.5"/>
<path d="M1276.0,741.3C1281.4,741.3 1286.7,739.7 1292.0,738.1C1296.7,736.7 1301.4,733.7 1306.0,730.1C1310.0,727.0 1314.1,721.5 1318.1,716.1C1321.4,711.6 1324.7,706.0 1328.1,700.1C1330.7,695.3 1333.4,689.4 1336.1,684.1C1338.7,678.7 1341.4,673.7 1344.1,668.1C1346.8,662.4 1349.4,655.1 1352.1,650.0C1354.1,646.2 1356.1,641.9 1358.1,640.0C1360.1,638.1 1362.1,636.2 1364.1,636.0C1366.4,635.8 1368.8,635.6 1371.1,635.6C1373.1,635.6 1375.1,636.3 1377.1,637.0C1378.8,637.7 1380.5,640.2 1382.1,642.0C1384.8,645.0 1387.5,648.1 1390.1,652.0C1392.8,655.9 1395.5,661.4 1398.1,666.1C1400.8,670.7 1403.5,675.4 1406.1,680.1C1408.8,684.7 1411.5,689.8 1414.2,694.1C1416.8,698.4 1419.5,702.2 1422.2,706.1C1425.5,710.9 1428.8,716.5 1432.2,720.1C1435.5,723.8 1438.8,727.0 1442.2,729.1C1446.2,731.7 1450.2,733.8 1454.2,735.1C1459.5,736.9 1464.9,738.4 1470.2,739.1C1477.5,740.1 1484.9,741.0 1492.2,741.1C1502.2,741.3 1512.3,741.3 1522.3,741.3C1557.3,741.3 1592.3,741.3 1627.4,741.3" fill="#5bd6e7" fill-opacity="0.4" stroke="#5bd6e7" stroke-width="2.3" stroke-linejoin="round" stroke-linecap="round"/>
<path d="M1276.0,741.3C1298.0,741.3 1320.1,741.3 1342.1,741.3C1352.1,741.3 1362.1,740.3 1372.1,739.1C1378.8,738.3 1385.5,736.3 1392.1,734.1C1396.8,732.6 1401.5,730.6 1406.1,728.1C1410.1,726.0 1414.2,723.3 1418.2,720.1C1422.2,716.9 1426.2,712.5 1430.2,708.1C1433.5,704.4 1436.8,700.1 1440.2,696.1C1443.5,692.1 1446.9,687.7 1450.2,684.1C1453.5,680.4 1456.9,676.0 1460.2,674.1C1462.9,672.5 1465.5,671.1 1468.2,670.7C1471.5,670.1 1474.9,669.9 1478.2,669.7C1481.6,669.4 1484.9,669.1 1488.2,669.1C1491.6,669.1 1494.9,669.6 1498.2,670.1C1500.9,670.4 1503.6,671.1 1506.2,672.1C1508.9,673.1 1511.6,675.8 1514.3,678.1C1516.9,680.4 1519.6,683.7 1522.3,686.1C1525.6,689.1 1528.9,691.1 1532.3,694.1C1535.6,697.1 1538.9,700.8 1542.3,704.1C1545.6,707.4 1549.0,710.9 1552.3,714.1C1555.6,717.3 1559.0,720.5 1562.3,723.1C1565.6,725.7 1569.0,728.3 1572.3,730.1C1577.0,732.6 1581.7,734.7 1586.3,736.1C1591.7,737.7 1597.0,739.2 1602.3,739.7C1610.7,740.6 1619.0,741.3 1627.4,741.3" fill="#c4f48a" fill-opacity="0.3" stroke="#c4f48a" stroke-width="2.3" stroke-linejoin="round" stroke-linecap="round"/>
<path d="M1276.0,741.3C1288.0,741.3 1300.0,741.3 1312.1,741.3C1318.7,741.3 1325.4,740.4 1332.1,739.1C1336.7,738.3 1341.4,735.3 1346.1,732.1C1350.1,729.4 1354.1,725.1 1358.1,720.1C1361.4,716.0 1364.8,709.4 1368.1,704.1C1371.4,698.8 1374.8,693.2 1378.1,688.1C1380.8,683.9 1383.5,679.5 1386.1,676.1C1388.8,672.6 1391.5,669.1 1394.1,667.1C1396.8,665.0 1399.5,663.2 1402.1,662.5C1404.8,661.7 1407.5,661.1 1410.1,661.1C1412.8,661.1 1415.5,661.8 1418.2,662.5C1420.8,663.1 1423.5,664.6 1426.2,666.1C1428.8,667.6 1431.5,669.8 1434.2,672.1C1436.8,674.4 1439.5,677.4 1442.2,680.1C1445.5,683.4 1448.9,687.1 1452.2,690.1C1455.5,693.0 1458.9,694.9 1462.2,698.1C1465.5,701.3 1468.9,706.7 1472.2,710.1C1475.5,713.5 1478.9,717.3 1482.2,719.1C1485.6,721.0 1488.9,722.1 1492.2,723.1C1496.2,724.4 1500.2,725.0 1504.2,726.1C1508.2,727.3 1512.3,728.7 1516.3,730.1C1520.9,731.7 1525.6,733.7 1530.3,735.1C1535.6,736.7 1540.9,738.3 1546.3,739.1C1553.0,740.2 1559.6,741.3 1566.3,741.3C1586.7,741.3 1607.0,741.3 1627.4,741.3" fill="#7fc99a" fill-opacity="0.32" stroke="#7fc99a" stroke-width="2.3" stroke-linejoin="round" stroke-linecap="round"/>
<path d="M1276.0,741.3C1298.0,741.3 1320.1,741.3 1342.1,741.3C1350.1,741.3 1358.1,740.4 1366.1,739.1C1371.4,738.3 1376.8,735.2 1382.1,732.1C1386.1,729.8 1390.1,726.2 1394.1,722.1C1398.1,718.0 1402.1,711.9 1406.1,706.1C1409.5,701.2 1412.8,695.7 1416.2,690.1C1418.8,685.6 1421.5,680.4 1424.2,676.1C1426.8,671.8 1429.5,667.2 1432.2,664.1C1434.2,661.7 1436.2,659.2 1438.2,658.0C1440.8,656.6 1443.5,655.0 1446.2,655.0C1448.9,655.0 1451.5,655.3 1454.2,655.6C1456.9,656.0 1459.5,658.2 1462.2,660.1C1464.9,661.9 1467.5,665.4 1470.2,668.1C1473.5,671.4 1476.9,674.7 1480.2,678.1C1483.6,681.4 1486.9,685.1 1490.2,688.1C1493.6,691.0 1496.9,693.5 1500.2,696.1C1502.9,698.2 1505.6,699.6 1508.2,702.1C1510.9,704.6 1513.6,709.1 1516.3,712.1C1519.6,715.8 1522.9,719.2 1526.3,722.1C1530.3,725.6 1534.3,728.9 1538.3,731.1C1542.3,733.4 1546.3,735.3 1550.3,736.5C1555.6,738.2 1561.0,739.6 1566.3,740.1C1573.0,740.8 1579.7,741.3 1586.3,741.3C1600.0,741.3 1613.7,741.3 1627.4,741.3" fill="#3f8d88" fill-opacity="0.3" stroke="#3f8d88" stroke-width="2.3" stroke-linejoin="round" stroke-linecap="round"/>
<path d="M1276.0,741.3C1288.0,741.3 1300.0,740.9 1312.1,740.1C1318.1,739.8 1324.1,738.7 1330.1,737.1C1334.7,735.9 1339.4,733.0 1344.1,730.1C1347.4,728.0 1350.8,725.6 1354.1,722.1C1356.8,719.3 1359.4,714.7 1362.1,710.1C1364.8,705.5 1367.4,699.1 1370.1,694.1C1372.8,689.1 1375.4,684.0 1378.1,680.1C1380.8,676.2 1383.5,672.8 1386.1,670.1C1388.8,667.3 1391.5,665.0 1394.1,663.1C1396.8,661.1 1399.5,659.1 1402.1,658.0C1404.8,657.0 1407.5,656.0 1410.1,655.6C1412.2,655.4 1414.2,655.0 1416.2,655.0C1418.2,655.0 1420.2,655.7 1422.2,656.4C1424.2,657.2 1426.2,659.2 1428.2,661.1C1430.8,663.5 1433.5,666.9 1436.2,670.1C1438.8,673.2 1441.5,677.3 1444.2,680.1C1446.9,682.8 1449.5,685.1 1452.2,687.1C1454.9,689.0 1457.5,690.1 1460.2,692.1C1462.9,694.0 1465.5,696.2 1468.2,699.1C1470.9,701.9 1473.5,706.8 1476.2,710.1C1478.9,713.4 1481.6,717.0 1484.2,719.1C1486.9,721.3 1489.6,723.0 1492.2,724.1C1495.6,725.5 1498.9,726.1 1502.2,727.1C1505.6,728.1 1508.9,729.0 1512.3,730.1C1516.3,731.5 1520.3,733.8 1524.3,735.1C1528.9,736.7 1533.6,738.4 1538.3,739.1C1544.9,740.1 1551.6,741.1 1558.3,741.1C1581.3,741.3 1604.3,741.3 1627.4,741.3" fill="#1c4567" fill-opacity="0.28" stroke="#1c4567" stroke-width="2.3" stroke-linejoin="round" stroke-linecap="round"/>
<text x="1230.6" y="746.8" font-size="22.8" textLength="33.0" lengthAdjust="spacingAndGlyphs">0.0</text>
<text x="1230.6" y="719.8" font-size="22.8" textLength="33.0" lengthAdjust="spacingAndGlyphs">0.2</text>
<text x="1230.6" y="692.8" font-size="22.8" textLength="33.0" lengthAdjust="spacingAndGlyphs">0.4</text>
<text x="1230.6" y="665.8" font-size="22.8" textLength="33.0" lengthAdjust="spacingAndGlyphs">0.6</text>
<text x="1230.6" y="638.7" font-size="22.8" textLength="33.0" lengthAdjust="spacingAndGlyphs">0.8</text>
<text x="1303.2" y="765.3" font-size="22.8" textLength="27.0" lengthAdjust="spacingAndGlyphs">−2</text>
<text x="1367.3" y="765.3" font-size="22.8" textLength="27.0" lengthAdjust="spacingAndGlyphs">−1</text>
<text x="1437.0" y="765.3" font-size="22.8" textLength="13.2" lengthAdjust="spacingAndGlyphs">0</text>
<text x="1501.0" y="765.3" font-size="22.8" textLength="13.2" lengthAdjust="spacingAndGlyphs">1</text>
<text x="1565.1" y="765.3" font-size="22.8" textLength="13.2" lengthAdjust="spacingAndGlyphs">2</text>
<text x="1602.4" y="765.3" font-size="22.8" textLength="13.2" lengthAdjust="spacingAndGlyphs">3</text>
<text x="1554.0" y="630.6" font-size="23.3">Factor 4</text>
<text x="1554.0" y="659.3" font-size="23.3">(early resp.)</text>
<line x1="1260.0" y1="906.1" x2="1643.5" y2="906.1" stroke="#f1f1f4" stroke-width="1.0"/>
<line x1="1260.0" y1="878.9" x2="1643.5" y2="878.9" stroke="#f1f1f4" stroke-width="1.0"/>
<line x1="1260.0" y1="851.7" x2="1643.5" y2="851.7" stroke="#f1f1f4" stroke-width="1.0"/>
<line x1="1260.0" y1="824.4" x2="1643.5" y2="824.4" stroke="#f1f1f4" stroke-width="1.0"/>
<line x1="1363.5" y1="809.6" x2="1363.5" y2="924.1" stroke="#f1f1f4" stroke-width="1.0"/>
<line x1="1463.6" y1="809.6" x2="1463.6" y2="924.1" stroke="#f1f1f4" stroke-width="1.0"/>
<line x1="1563.7" y1="809.6" x2="1563.7" y2="924.1" stroke="#f1f1f4" stroke-width="1.0"/>
<line x1="1260.0" y1="919.5" x2="1643.5" y2="919.5" stroke="#e9e9ed" stroke-width="1.5"/>
<line x1="1260.0" y1="892.5" x2="1643.5" y2="892.5" stroke="#e9e9ed" stroke-width="1.5"/>
<line x1="1260.0" y1="865.3" x2="1643.5" y2="865.3" stroke="#e9e9ed" stroke-width="1.5"/>
<line x1="1260.0" y1="838.1" x2="1643.5" y2="838.1" stroke="#e9e9ed" stroke-width="1.5"/>
<line x1="1260.0" y1="811.0" x2="1643.5" y2="811.0" stroke="#e9e9ed" stroke-width="1.5"/>
<line x1="1313.5" y1="809.6" x2="1313.5" y2="924.1" stroke="#e9e9ed" stroke-width="1.5"/>
<line x1="1413.6" y1="809.6" x2="1413.6" y2="924.1" stroke="#e9e9ed" stroke-width="1.5"/>
<line x1="1513.7" y1="809.6" x2="1513.7" y2="924.1" stroke="#e9e9ed" stroke-width="1.5"/>
<line x1="1613.8" y1="809.6" x2="1613.8" y2="924.1" stroke="#e9e9ed" stroke-width="1.5"/>
<path d="M1276.0,919.5C1284.7,919.5 1293.4,919.5 1302.0,919.5C1308.7,919.5 1315.4,918.1 1322.1,916.1C1326.1,914.9 1330.1,910.5 1334.1,906.1C1336.7,903.2 1339.4,898.9 1342.1,894.1C1344.7,889.3 1347.4,882.4 1350.1,876.1C1352.8,869.8 1355.4,862.4 1358.1,856.1C1360.8,849.7 1363.4,843.3 1366.1,838.1C1368.8,832.8 1371.4,828.1 1374.1,824.0C1376.1,821.0 1378.1,817.2 1380.1,816.0C1381.8,815.0 1383.5,814.0 1385.1,814.0C1386.8,814.0 1388.5,815.8 1390.1,817.0C1392.1,818.5 1394.1,820.5 1396.1,823.0C1398.1,825.5 1400.1,829.0 1402.1,833.0C1403.5,835.8 1404.8,839.3 1406.1,843.1C1407.5,846.8 1408.8,851.9 1410.1,856.1C1411.5,860.2 1412.8,864.8 1414.2,868.1C1416.2,872.9 1418.2,876.6 1420.2,880.1C1422.8,884.7 1425.5,888.7 1428.2,892.1C1431.5,896.4 1434.8,900.3 1438.2,903.1C1442.2,906.5 1446.2,909.2 1450.2,911.1C1454.9,913.3 1459.5,915.1 1464.2,916.1C1470.2,917.5 1476.2,918.9 1482.2,919.1C1488.9,919.4 1495.6,919.5 1502.2,919.5C1543.9,919.5 1585.7,919.5 1627.4,919.5" fill="#5bd6e7" fill-opacity="0.4" stroke="#5bd6e7" stroke-width="2.3" stroke-linejoin="round" stroke-linecap="round"/>
<path d="M1276.0,919.5C1294.7,919.5 1313.4,919.5 1332.1,919.5C1338.7,919.5 1345.4,918.4 1352.1,917.1C1356.8,916.2 1361.4,913.9 1366.1,911.1C1370.1,908.8 1374.1,904.6 1378.1,900.1C1381.5,896.4 1384.8,891.1 1388.1,886.1C1391.5,881.1 1394.8,875.2 1398.1,870.1C1400.8,866.0 1403.5,861.7 1406.1,858.1C1408.8,854.4 1411.5,851.2 1414.2,848.1C1416.8,844.9 1419.5,841.3 1422.2,839.1C1424.2,837.4 1426.2,835.9 1428.2,835.0C1429.5,834.4 1430.8,833.6 1432.2,833.6C1434.2,833.6 1436.2,834.7 1438.2,835.6C1440.2,836.6 1442.2,839.6 1444.2,841.1C1446.9,843.0 1449.5,844.0 1452.2,846.1C1454.2,847.6 1456.2,849.4 1458.2,852.1C1460.2,854.7 1462.2,860.4 1464.2,864.1C1466.2,867.7 1468.2,871.1 1470.2,874.1C1472.2,877.1 1474.2,879.5 1476.2,882.1C1478.9,885.5 1481.6,889.5 1484.2,892.1C1487.6,895.4 1490.9,898.0 1494.2,900.1C1498.2,902.6 1502.2,904.3 1506.2,906.1C1510.9,908.3 1515.6,910.6 1520.3,912.1C1525.6,913.8 1530.9,915.2 1536.3,916.1C1542.3,917.2 1548.3,918.2 1554.3,918.5C1563.6,919.1 1573.0,919.5 1582.3,919.5C1597.3,919.5 1612.4,919.5 1627.4,919.5" fill="#c4f48a" fill-opacity="0.3" stroke="#c4f48a" stroke-width="2.3" stroke-linejoin="round" stroke-linecap="round"/>
<path d="M1276.0,919.5C1291.4,919.5 1306.7,919.5 1322.1,919.5C1330.1,919.5 1338.1,918.7 1346.1,917.7C1351.4,917.1 1356.8,915.3 1362.1,913.1C1366.1,911.5 1370.1,908.4 1374.1,905.1C1378.1,901.8 1382.1,897.3 1386.1,892.1C1389.5,887.8 1392.8,881.2 1396.1,876.1C1398.8,872.0 1401.5,867.7 1404.1,864.1C1406.8,860.4 1409.5,856.5 1412.2,854.1C1414.2,852.2 1416.2,850.2 1418.2,849.7C1420.8,849.0 1423.5,848.5 1426.2,848.5C1428.8,848.5 1431.5,850.0 1434.2,851.1C1436.8,852.1 1439.5,853.7 1442.2,855.1C1444.8,856.4 1447.5,857.1 1450.2,859.1C1452.9,861.0 1455.5,867.0 1458.2,870.1C1460.9,873.2 1463.5,875.6 1466.2,878.1C1468.9,880.6 1471.5,882.5 1474.2,885.1C1476.9,887.7 1479.6,891.8 1482.2,894.1C1485.6,897.0 1488.9,899.6 1492.2,901.1C1496.2,902.9 1500.2,903.8 1504.2,905.1C1508.2,906.5 1512.3,907.8 1516.3,909.1C1520.9,910.7 1525.6,912.5 1530.3,913.7C1535.6,915.1 1540.9,916.4 1546.3,917.1C1553.0,918.0 1559.6,918.9 1566.3,919.1C1575.0,919.4 1583.7,919.5 1592.3,919.5C1604.0,919.5 1615.7,919.5 1627.4,919.5" fill="#7fc99a" fill-opacity="0.32" stroke="#7fc99a" stroke-width="2.3" stroke-linejoin="round" stroke-linecap="round"/>
<path d="M1276.0,919.5C1281.4,919.4 1286.7,917.8 1292.0,916.1C1296.7,914.7 1301.4,911.5 1306.0,908.1C1310.0,905.2 1314.1,900.8 1318.1,896.1C1321.4,892.2 1324.7,886.8 1328.1,882.1C1331.4,877.4 1334.7,872.4 1338.1,868.1C1341.4,863.8 1344.7,859.5 1348.1,856.1C1351.4,852.6 1354.8,849.0 1358.1,847.1C1360.4,845.7 1362.8,844.1 1365.1,844.1C1367.4,844.1 1369.8,845.5 1372.1,846.5C1374.8,847.6 1377.4,849.8 1380.1,851.1C1383.5,852.6 1386.8,853.2 1390.1,855.1C1392.8,856.6 1395.5,859.3 1398.1,862.1C1400.8,864.8 1403.5,868.7 1406.1,872.1C1408.8,875.4 1411.5,879.1 1414.2,882.1C1417.5,885.8 1420.8,889.1 1424.2,892.1C1427.5,895.1 1430.8,897.7 1434.2,900.1C1438.2,903.0 1442.2,906.0 1446.2,908.1C1450.9,910.6 1455.5,912.7 1460.2,914.1C1466.2,915.9 1472.2,917.6 1478.2,918.1C1486.2,918.9 1494.2,919.5 1502.2,919.5C1543.9,919.5 1585.7,919.5 1627.4,919.5" fill="#3f8d88" fill-opacity="0.3" stroke="#3f8d88" stroke-width="2.3" stroke-linejoin="round" stroke-linecap="round"/>
<path d="M1276.0,919.5C1284.7,919.5 1293.4,918.3 1302.0,917.1C1307.4,916.4 1312.7,915.0 1318.1,913.1C1322.1,911.7 1326.1,908.9 1330.1,906.1C1334.1,903.4 1338.1,899.3 1342.1,896.1C1346.1,892.9 1350.1,890.1 1354.1,887.1C1358.1,884.1 1362.1,881.5 1366.1,878.1C1369.4,875.2 1372.8,871.8 1376.1,868.1C1378.8,865.1 1381.5,860.6 1384.1,858.1C1386.8,855.6 1389.5,852.8 1392.1,852.1C1395.5,851.2 1398.8,850.9 1402.1,850.5C1404.8,850.1 1407.5,849.7 1410.1,849.7C1412.8,849.7 1415.5,851.5 1418.2,853.1C1420.8,854.6 1423.5,857.6 1426.2,860.1C1428.8,862.6 1431.5,865.1 1434.2,868.1C1436.8,871.0 1439.5,874.8 1442.2,878.1C1445.5,882.2 1448.9,886.5 1452.2,890.1C1455.5,893.7 1458.9,897.4 1462.2,900.1C1466.2,903.3 1470.2,906.2 1474.2,908.1C1478.9,910.3 1483.6,911.7 1488.2,913.1C1493.6,914.7 1498.9,916.3 1504.2,917.1C1510.2,918.1 1516.3,919.1 1522.3,919.1C1532.3,919.1 1542.3,918.9 1552.3,918.9C1562.3,918.9 1572.3,919.1 1582.3,919.1C1597.3,919.2 1612.4,919.4 1627.4,919.5" fill="#1c4567" fill-opacity="0.28" stroke="#1c4567" stroke-width="2.3" stroke-linejoin="round" stroke-linecap="round"/>
<text x="1230.6" y="925.0" font-size="22.8" textLength="33.0" lengthAdjust="spacingAndGlyphs">0.0</text>
<text x="1230.6" y="898.0" font-size="22.8" textLength="33.0" lengthAdjust="spacingAndGlyphs">0.2</text>
<text x="1230.6" y="870.8" font-size="22.8" textLength="33.0" lengthAdjust="spacingAndGlyphs">0.4</text>
<text x="1230.6" y="843.6" font-size="22.8" textLength="33.0" lengthAdjust="spacingAndGlyphs">0.6</text>
<text x="1230.6" y="816.5" font-size="22.8" textLength="33.0" lengthAdjust="spacingAndGlyphs">0.8</text>
<text x="1303.4" y="943.5" font-size="22.8" textLength="27.0" lengthAdjust="spacingAndGlyphs">−2</text>
<text x="1409.0" y="943.5" font-size="22.8" textLength="13.2" lengthAdjust="spacingAndGlyphs">0</text>
<text x="1509.1" y="943.5" font-size="22.8" textLength="13.2" lengthAdjust="spacingAndGlyphs">2</text>
<text x="1609.2" y="943.5" font-size="22.8" textLength="13.2" lengthAdjust="spacingAndGlyphs">4</text>
<text x="1554.0" y="809.1" font-size="23.3">Factor 5</text>
<line x1="1260.0" y1="1083.9" x2="1643.5" y2="1083.9" stroke="#f1f1f4" stroke-width="1.0"/>
<line x1="1260.0" y1="1056.7" x2="1643.5" y2="1056.7" stroke="#f1f1f4" stroke-width="1.0"/>
<line x1="1260.0" y1="1029.3" x2="1643.5" y2="1029.3" stroke="#f1f1f4" stroke-width="1.0"/>
<line x1="1260.0" y1="1002.0" x2="1643.5" y2="1002.0" stroke="#f1f1f4" stroke-width="1.0"/>
<line x1="1332.3" y1="987.0" x2="1332.3" y2="1102.1" stroke="#f1f1f4" stroke-width="1.0"/>
<line x1="1460.6" y1="987.0" x2="1460.6" y2="1102.1" stroke="#f1f1f4" stroke-width="1.0"/>
<line x1="1588.9" y1="987.0" x2="1588.9" y2="1102.1" stroke="#f1f1f4" stroke-width="1.0"/>
<line x1="1260.0" y1="1097.5" x2="1643.5" y2="1097.5" stroke="#e9e9ed" stroke-width="1.5"/>
<line x1="1260.0" y1="1070.3" x2="1643.5" y2="1070.3" stroke="#e9e9ed" stroke-width="1.5"/>
<line x1="1260.0" y1="1043.1" x2="1643.5" y2="1043.1" stroke="#e9e9ed" stroke-width="1.5"/>
<line x1="1260.0" y1="1015.6" x2="1643.5" y2="1015.6" stroke="#e9e9ed" stroke-width="1.5"/>
<line x1="1260.0" y1="988.4" x2="1643.5" y2="988.4" stroke="#e9e9ed" stroke-width="1.5"/>
<line x1="1268.0" y1="987.0" x2="1268.0" y2="1102.1" stroke="#e9e9ed" stroke-width="1.5"/>
<line x1="1396.5" y1="987.0" x2="1396.5" y2="1102.1" stroke="#e9e9ed" stroke-width="1.5"/>
<line x1="1524.7" y1="987.0" x2="1524.7" y2="1102.1" stroke="#e9e9ed" stroke-width="1.5"/>
<path d="M1276.0,1097.5C1284.7,1097.5 1293.4,1097.5 1302.0,1097.5C1308.7,1097.5 1315.4,1096.5 1322.1,1095.1C1326.1,1094.3 1330.1,1091.3 1334.1,1088.1C1337.4,1085.5 1340.7,1080.9 1344.1,1076.1C1346.8,1072.3 1349.4,1067.1 1352.1,1062.1C1354.8,1057.1 1357.4,1051.4 1360.1,1046.1C1362.8,1040.7 1365.4,1035.4 1368.1,1030.1C1370.8,1024.7 1373.4,1019.0 1376.1,1014.0C1378.8,1009.1 1381.5,1003.8 1384.1,1000.0C1385.8,997.7 1387.5,995.2 1389.1,994.0C1390.1,993.3 1391.1,992.4 1392.1,992.4C1393.5,992.4 1394.8,993.2 1396.1,994.0C1398.1,995.2 1400.1,999.7 1402.1,1003.0C1404.1,1006.3 1406.1,1010.2 1408.1,1014.0C1410.1,1017.9 1412.2,1022.1 1414.2,1026.1C1416.2,1030.1 1418.2,1034.1 1420.2,1038.1C1422.2,1042.1 1424.2,1046.4 1426.2,1050.1C1428.2,1053.7 1430.2,1056.9 1432.2,1060.1C1434.8,1064.3 1437.5,1069.1 1440.2,1072.1C1443.5,1075.9 1446.9,1078.7 1450.2,1081.1C1454.2,1084.0 1458.2,1086.5 1462.2,1088.1C1467.5,1090.3 1472.9,1092.0 1478.2,1093.1C1484.9,1094.5 1491.6,1095.6 1498.2,1096.1C1506.2,1096.8 1514.3,1097.5 1522.3,1097.5C1557.3,1097.5 1592.3,1097.5 1627.4,1097.5" fill="#5bd6e7" fill-opacity="0.4" stroke="#5bd6e7" stroke-width="2.3" stroke-linejoin="round" stroke-linecap="round"/>
<path d="M1276.0,1097.5C1284.7,1097.5 1293.4,1097.5 1302.0,1097.5C1308.7,1097.5 1315.4,1096.5 1322.1,1095.1C1326.7,1094.2 1331.4,1091.3 1336.1,1088.1C1339.4,1085.9 1342.7,1082.4 1346.1,1078.1C1348.8,1074.7 1351.4,1069.1 1354.1,1064.1C1356.8,1059.1 1359.4,1053.4 1362.1,1048.1C1364.8,1042.7 1367.4,1037.4 1370.1,1032.1C1372.8,1026.7 1375.4,1020.5 1378.1,1016.1C1380.5,1012.2 1382.8,1007.8 1385.1,1006.0C1387.5,1004.3 1389.8,1002.4 1392.1,1002.4C1394.1,1002.4 1396.1,1003.7 1398.1,1005.0C1400.1,1006.3 1402.1,1010.1 1404.1,1013.0C1406.8,1016.9 1409.5,1021.6 1412.2,1026.1C1414.8,1030.6 1417.5,1035.8 1420.2,1040.1C1422.8,1044.4 1425.5,1048.1 1428.2,1052.1C1430.8,1056.1 1433.5,1060.7 1436.2,1064.1C1439.5,1068.4 1442.8,1072.1 1446.2,1075.1C1450.2,1078.7 1454.2,1081.9 1458.2,1084.1C1462.9,1086.7 1467.5,1088.8 1472.2,1090.1C1478.9,1092.0 1485.6,1093.4 1492.2,1094.1C1502.2,1095.2 1512.3,1095.7 1522.3,1096.1C1535.6,1096.8 1549.0,1097.5 1562.3,1097.5C1584.0,1097.5 1605.7,1097.5 1627.4,1097.5" fill="#c4f48a" fill-opacity="0.3" stroke="#c4f48a" stroke-width="2.3" stroke-linejoin="round" stroke-linecap="round"/>
<path d="M1276.0,1097.5C1281.4,1097.3 1286.7,1096.3 1292.0,1095.1C1296.7,1094.1 1301.4,1092.5 1306.0,1090.1C1310.0,1088.1 1314.1,1084.5 1318.1,1080.1C1321.4,1076.4 1324.7,1070.1 1328.1,1064.1C1330.7,1059.3 1333.4,1053.1 1336.1,1048.1C1338.7,1043.1 1341.4,1038.2 1344.1,1034.1C1346.8,1030.0 1349.4,1025.9 1352.1,1023.1C1354.8,1020.2 1357.4,1017.2 1360.1,1016.1C1362.8,1014.9 1365.4,1013.6 1368.1,1013.6C1370.8,1013.6 1373.4,1014.7 1376.1,1016.1C1378.1,1017.1 1380.1,1021.1 1382.1,1024.1C1384.1,1027.0 1386.1,1030.7 1388.1,1034.1C1390.1,1037.4 1392.1,1041.2 1394.1,1044.1C1396.8,1047.9 1399.5,1051.1 1402.1,1054.1C1404.8,1057.1 1407.5,1059.4 1410.1,1062.1C1413.5,1065.4 1416.8,1069.1 1420.2,1072.1C1423.5,1075.1 1426.8,1078.0 1430.2,1080.1C1434.2,1082.6 1438.2,1084.6 1442.2,1086.1C1447.5,1088.2 1452.9,1089.8 1458.2,1091.1C1464.9,1092.8 1471.5,1094.2 1478.2,1095.1C1486.2,1096.2 1494.2,1097.5 1502.2,1097.5C1543.9,1097.5 1585.7,1097.5 1627.4,1097.5" fill="#7fc99a" fill-opacity="0.32" stroke="#7fc99a" stroke-width="2.3" stroke-linejoin="round" stroke-linecap="round"/>
<path d="M1276.0,1097.5C1284.7,1097.5 1293.4,1097.5 1302.0,1097.5C1307.4,1097.5 1312.7,1096.4 1318.1,1095.1C1322.1,1094.2 1326.1,1091.9 1330.1,1089.1C1333.4,1086.8 1336.7,1082.7 1340.1,1078.1C1342.7,1074.5 1345.4,1069.4 1348.1,1064.1C1350.8,1058.8 1353.4,1051.7 1356.1,1046.1C1358.8,1040.4 1361.4,1034.6 1364.1,1030.1C1366.8,1025.5 1369.4,1020.4 1372.1,1018.1C1374.8,1015.7 1377.4,1013.7 1380.1,1013.0C1382.1,1012.5 1384.1,1012.0 1386.1,1012.0C1388.1,1012.0 1390.1,1014.4 1392.1,1016.1C1394.8,1018.3 1397.5,1022.4 1400.1,1025.1C1402.8,1027.7 1405.5,1029.0 1408.1,1032.1C1410.1,1034.4 1412.2,1038.7 1414.2,1042.1C1416.2,1045.4 1418.2,1048.9 1420.2,1052.1C1422.8,1056.3 1425.5,1060.5 1428.2,1064.1C1430.8,1067.7 1433.5,1071.5 1436.2,1074.1C1439.5,1077.4 1442.8,1080.0 1446.2,1082.1C1450.2,1084.6 1454.2,1086.8 1458.2,1088.1C1463.5,1089.9 1468.9,1091.3 1474.2,1092.1C1480.2,1093.1 1486.2,1093.6 1492.2,1094.1C1502.2,1095.0 1512.3,1095.8 1522.3,1096.1C1535.6,1096.6 1549.0,1096.9 1562.3,1097.1C1575.6,1097.3 1589.0,1097.5 1602.3,1097.5C1610.7,1097.5 1619.0,1097.5 1627.4,1097.5" fill="#3f8d88" fill-opacity="0.3" stroke="#3f8d88" stroke-width="2.3" stroke-linejoin="round" stroke-linecap="round"/>
<path d="M1276.0,1097.5C1294.7,1097.5 1313.4,1097.5 1332.1,1097.5C1342.1,1097.5 1352.1,1097.4 1362.1,1097.1C1368.8,1097.0 1375.4,1095.5 1382.1,1094.1C1388.8,1092.8 1395.5,1090.6 1402.1,1088.1C1407.5,1086.1 1412.8,1083.3 1418.2,1080.1C1422.8,1077.4 1427.5,1073.1 1432.2,1070.1C1436.2,1067.5 1440.2,1064.6 1444.2,1063.1C1448.2,1061.6 1452.2,1060.7 1456.2,1059.7C1460.2,1058.7 1464.2,1058.2 1468.2,1057.1C1471.5,1056.1 1474.9,1054.7 1478.2,1053.1C1481.6,1051.5 1484.9,1048.9 1488.2,1047.1C1490.9,1045.6 1493.6,1043.7 1496.2,1043.1C1498.2,1042.6 1500.2,1042.1 1502.2,1042.1C1504.9,1042.1 1507.6,1043.3 1510.2,1044.1C1513.6,1045.1 1516.9,1046.5 1520.3,1047.7C1523.6,1048.8 1526.9,1049.9 1530.3,1051.1C1533.6,1052.3 1536.9,1053.4 1540.3,1055.1C1543.6,1056.8 1547.0,1059.6 1550.3,1062.1C1553.6,1064.6 1557.0,1067.8 1560.3,1070.1C1563.6,1072.4 1567.0,1074.3 1570.3,1076.1C1573.6,1077.9 1577.0,1079.3 1580.3,1081.1C1583.7,1082.9 1587.0,1085.4 1590.3,1087.1C1594.3,1089.2 1598.3,1091.2 1602.3,1092.5C1606.3,1093.9 1610.3,1095.0 1614.4,1095.7C1618.7,1096.5 1623.0,1097.2 1627.4,1097.5" fill="#1c4567" fill-opacity="0.28" stroke="#1c4567" stroke-width="2.3" stroke-linejoin="round" stroke-linecap="round"/>
<text x="1230.6" y="1103.0" font-size="22.8" textLength="33.0" lengthAdjust="spacingAndGlyphs">0.0</text>
<text x="1230.6" y="1075.8" font-size="22.8" textLength="33.0" lengthAdjust="spacingAndGlyphs">0.2</text>
<text x="1230.6" y="1048.6" font-size="22.8" textLength="33.0" lengthAdjust="spacingAndGlyphs">0.4</text>
<text x="1230.6" y="1021.1" font-size="22.8" textLength="33.0" lengthAdjust="spacingAndGlyphs">0.6</text>
<text x="1230.6" y="993.9" font-size="22.8" textLength="33.0" lengthAdjust="spacingAndGlyphs">0.8</text>
<text x="1386.1" y="1121.5" font-size="22.8" textLength="33.0" lengthAdjust="spacingAndGlyphs">0.0</text>
<text x="1514.2" y="1121.5" font-size="22.8" textLength="33.0" lengthAdjust="spacingAndGlyphs">2.5</text>
<text x="1253.6" y="1121.5" font-size="22.8" textLength="46.8" lengthAdjust="spacingAndGlyphs">−2.5</text>
<text x="1554.0" y="987.0" font-size="23.3">Factor 6</text>
<line x1="1260.0" y1="1259.3" x2="1643.5" y2="1259.3" stroke="#f1f1f4" stroke-width="1.0"/>
<line x1="1260.0" y1="1225.9" x2="1643.5" y2="1225.9" stroke="#f1f1f4" stroke-width="1.0"/>
<line x1="1260.0" y1="1192.2" x2="1643.5" y2="1192.2" stroke="#f1f1f4" stroke-width="1.0"/>
<line x1="1271.0" y1="1165.6" x2="1271.0" y2="1280.5" stroke="#f1f1f4" stroke-width="1.0"/>
<line x1="1377.1" y1="1165.6" x2="1377.1" y2="1280.5" stroke="#f1f1f4" stroke-width="1.0"/>
<line x1="1482.8" y1="1165.6" x2="1482.8" y2="1280.5" stroke="#f1f1f4" stroke-width="1.0"/>
<line x1="1588.9" y1="1165.6" x2="1588.9" y2="1280.5" stroke="#f1f1f4" stroke-width="1.0"/>
<line x1="1260.0" y1="1275.9" x2="1643.5" y2="1275.9" stroke="#e9e9ed" stroke-width="1.5"/>
<line x1="1260.0" y1="1242.5" x2="1643.5" y2="1242.5" stroke="#e9e9ed" stroke-width="1.5"/>
<line x1="1260.0" y1="1209.1" x2="1643.5" y2="1209.1" stroke="#e9e9ed" stroke-width="1.5"/>
<line x1="1260.0" y1="1175.4" x2="1643.5" y2="1175.4" stroke="#e9e9ed" stroke-width="1.5"/>
<line x1="1324.1" y1="1165.6" x2="1324.1" y2="1280.5" stroke="#e9e9ed" stroke-width="1.5"/>
<line x1="1430.2" y1="1165.6" x2="1430.2" y2="1280.5" stroke="#e9e9ed" stroke-width="1.5"/>
<line x1="1535.9" y1="1165.6" x2="1535.9" y2="1280.5" stroke="#e9e9ed" stroke-width="1.5"/>
<line x1="1641.8" y1="1165.6" x2="1641.8" y2="1280.5" stroke="#e9e9ed" stroke-width="1.5"/>
<path d="M1276.0,1275.9C1294.7,1275.9 1313.4,1275.9 1332.1,1275.9C1338.7,1275.9 1345.4,1275.1 1352.1,1274.1C1356.8,1273.4 1361.4,1271.6 1366.1,1269.1C1369.4,1267.4 1372.8,1264.0 1376.1,1260.1C1379.5,1256.3 1382.8,1250.1 1386.1,1244.1C1388.8,1239.3 1391.5,1233.4 1394.1,1228.1C1396.8,1222.7 1399.5,1217.4 1402.1,1212.1C1404.8,1206.7 1407.5,1201.0 1410.1,1196.1C1412.8,1191.1 1415.5,1185.4 1418.2,1182.0C1420.8,1178.6 1423.5,1175.5 1426.2,1174.0C1428.8,1172.6 1431.5,1171.3 1434.2,1171.0C1436.2,1170.8 1438.2,1170.6 1440.2,1170.6C1441.5,1170.6 1442.8,1171.9 1444.2,1173.0C1446.2,1174.7 1448.2,1178.2 1450.2,1182.0C1452.2,1185.9 1454.2,1192.4 1456.2,1198.1C1458.2,1203.7 1460.2,1210.4 1462.2,1216.1C1464.2,1221.7 1466.2,1227.1 1468.2,1232.1C1470.2,1237.1 1472.2,1242.4 1474.2,1246.1C1476.9,1251.0 1479.6,1255.3 1482.2,1258.1C1485.6,1261.6 1488.9,1264.3 1492.2,1266.1C1496.2,1268.3 1500.2,1270.1 1504.2,1271.1C1509.6,1272.5 1514.9,1273.6 1520.3,1274.1C1527.6,1274.8 1534.9,1275.3 1542.3,1275.5C1549.0,1275.7 1555.6,1275.9 1562.3,1275.9C1584.0,1275.9 1605.7,1275.9 1627.4,1275.9" fill="#5bd6e7" fill-opacity="0.4" stroke="#5bd6e7" stroke-width="2.3" stroke-linejoin="round" stroke-linecap="round"/>
<path d="M1276.0,1275.9C1294.7,1275.9 1313.4,1275.9 1332.1,1275.9C1338.7,1275.9 1345.4,1275.0 1352.1,1273.7C1356.1,1273.0 1360.1,1270.7 1364.1,1268.1C1367.4,1266.0 1370.8,1262.4 1374.1,1258.1C1376.8,1254.7 1379.5,1249.4 1382.1,1244.1C1384.8,1238.8 1387.5,1232.1 1390.1,1226.1C1392.8,1220.1 1395.5,1214.1 1398.1,1208.1C1400.8,1202.1 1403.5,1195.7 1406.1,1190.0C1408.1,1185.8 1410.1,1180.4 1412.2,1178.0C1414.2,1175.7 1416.2,1173.3 1418.2,1173.0C1420.2,1172.8 1422.2,1172.6 1424.2,1172.6C1426.2,1172.6 1428.2,1174.4 1430.2,1176.0C1432.2,1177.6 1434.2,1180.8 1436.2,1184.0C1438.2,1187.2 1440.2,1192.0 1442.2,1196.1C1444.8,1201.4 1447.5,1206.4 1450.2,1212.1C1452.9,1217.7 1455.5,1224.4 1458.2,1230.1C1460.9,1235.7 1463.5,1241.5 1466.2,1246.1C1468.9,1250.7 1471.5,1255.3 1474.2,1258.1C1477.5,1261.6 1480.9,1264.3 1484.2,1266.1C1488.2,1268.3 1492.2,1270.1 1496.2,1271.1C1501.6,1272.5 1506.9,1273.6 1512.3,1274.1C1518.9,1274.8 1525.6,1275.4 1532.3,1275.5C1542.3,1275.8 1552.3,1275.9 1562.3,1275.9C1584.0,1275.9 1605.7,1275.9 1627.4,1275.9" fill="#c4f48a" fill-opacity="0.3" stroke="#c4f48a" stroke-width="2.3" stroke-linejoin="round" stroke-linecap="round"/>
<path d="M1276.0,1275.9C1288.0,1275.9 1300.0,1275.9 1312.1,1275.9C1322.1,1275.9 1332.1,1275.2 1342.1,1274.1C1347.4,1273.6 1352.8,1272.1 1358.1,1270.1C1362.1,1268.6 1366.1,1265.8 1370.1,1262.1C1373.4,1259.1 1376.8,1253.4 1380.1,1248.1C1383.5,1242.8 1386.8,1236.0 1390.1,1230.1C1392.8,1225.4 1395.5,1220.4 1398.1,1216.1C1400.8,1211.8 1403.5,1207.5 1406.1,1204.1C1408.8,1200.6 1411.5,1196.9 1414.2,1195.1C1416.8,1193.2 1419.5,1191.9 1422.2,1191.0C1424.8,1190.2 1427.5,1189.6 1430.2,1189.0C1432.5,1188.5 1434.8,1187.6 1437.2,1187.6C1439.5,1187.6 1441.8,1189.4 1444.2,1191.0C1446.9,1192.9 1449.5,1197.5 1452.2,1202.1C1454.9,1206.6 1457.5,1214.1 1460.2,1220.1C1462.9,1226.1 1465.5,1232.8 1468.2,1238.1C1470.9,1243.3 1473.5,1249.1 1476.2,1252.1C1479.6,1255.8 1482.9,1258.5 1486.2,1260.1C1490.2,1262.0 1494.2,1263.1 1498.2,1264.1C1502.9,1265.3 1507.6,1266.1 1512.3,1267.1C1516.9,1268.1 1521.6,1269.2 1526.3,1270.1C1531.6,1271.2 1536.9,1272.4 1542.3,1273.1C1549.0,1274.0 1555.6,1274.8 1562.3,1275.1C1572.3,1275.6 1582.3,1275.9 1592.3,1275.9C1604.0,1275.9 1615.7,1275.9 1627.4,1275.9" fill="#7fc99a" fill-opacity="0.32" stroke="#7fc99a" stroke-width="2.3" stroke-linejoin="round" stroke-linecap="round"/>
<path d="M1276.0,1275.9C1291.4,1275.9 1306.7,1275.9 1322.1,1275.9C1331.4,1275.9 1340.7,1275.2 1350.1,1274.1C1354.8,1273.6 1359.4,1272.0 1364.1,1270.1C1367.4,1268.8 1370.8,1266.8 1374.1,1264.1C1377.4,1261.5 1380.8,1256.9 1384.1,1252.1C1386.8,1248.3 1389.5,1243.3 1392.1,1238.1C1394.8,1232.8 1397.5,1226.1 1400.1,1220.1C1402.8,1214.1 1405.5,1207.7 1408.1,1202.1C1410.8,1196.4 1413.5,1190.4 1416.2,1186.0C1418.8,1181.7 1421.5,1177.3 1424.2,1175.0C1426.5,1173.0 1428.8,1170.6 1431.2,1170.6C1432.8,1170.6 1434.5,1172.5 1436.2,1174.0C1438.2,1175.8 1440.2,1179.8 1442.2,1182.0C1444.2,1184.3 1446.2,1185.4 1448.2,1188.0C1450.2,1190.7 1452.2,1195.5 1454.2,1200.1C1456.2,1204.6 1458.2,1210.7 1460.2,1216.1C1462.2,1221.4 1464.2,1227.5 1466.2,1232.1C1468.9,1238.2 1471.5,1244.3 1474.2,1248.1C1477.5,1252.9 1480.9,1256.5 1484.2,1259.1C1488.2,1262.2 1492.2,1264.3 1496.2,1266.1C1500.9,1268.2 1505.6,1270.0 1510.2,1271.1C1516.3,1272.5 1522.3,1273.5 1528.3,1274.1C1536.3,1275.0 1544.3,1275.9 1552.3,1275.9C1577.3,1275.9 1602.3,1275.9 1627.4,1275.9" fill="#3f8d88" fill-opacity="0.3" stroke="#3f8d88" stroke-width="2.3" stroke-linejoin="round" stroke-linecap="round"/>
<path d="M1276.0,1275.9C1280.0,1275.5 1284.0,1274.4 1288.0,1273.1C1292.0,1271.9 1296.0,1269.5 1300.0,1267.1C1304.0,1264.7 1308.0,1261.5 1312.1,1258.1C1316.1,1254.7 1320.1,1250.8 1324.1,1246.1C1327.4,1242.2 1330.7,1236.6 1334.1,1232.1C1337.4,1227.6 1340.7,1222.2 1344.1,1219.1C1346.8,1216.6 1349.4,1214.7 1352.1,1213.1C1355.4,1211.1 1358.8,1210.0 1362.1,1208.1C1364.8,1206.5 1367.4,1203.4 1370.1,1202.5C1372.1,1201.8 1374.1,1201.1 1376.1,1201.1C1378.1,1201.1 1380.1,1201.5 1382.1,1202.1C1384.8,1202.7 1387.5,1204.9 1390.1,1207.1C1392.8,1209.2 1395.5,1212.9 1398.1,1216.1C1400.8,1219.2 1403.5,1223.3 1406.1,1226.1C1409.5,1229.6 1412.8,1231.7 1416.2,1235.1C1418.8,1237.8 1421.5,1241.1 1424.2,1244.1C1426.8,1247.1 1429.5,1250.6 1432.2,1253.1C1435.5,1256.2 1438.8,1259.1 1442.2,1261.1C1445.5,1263.2 1448.9,1264.7 1452.2,1266.1C1456.2,1267.8 1460.2,1269.5 1464.2,1270.5C1468.9,1271.7 1473.5,1272.7 1478.2,1273.1C1484.2,1273.7 1490.2,1273.9 1496.2,1274.1C1502.2,1274.3 1508.2,1274.4 1514.3,1274.5C1523.6,1274.8 1532.9,1275.4 1542.3,1275.5C1570.6,1275.8 1599.0,1275.9 1627.4,1275.9" fill="#1c4567" fill-opacity="0.28" stroke="#1c4567" stroke-width="2.3" stroke-linejoin="round" stroke-linecap="round"/>
<text x="1230.6" y="1281.4" font-size="22.8" textLength="33.0" lengthAdjust="spacingAndGlyphs">0.0</text>
<text x="1230.6" y="1248.0" font-size="22.8" textLength="33.0" lengthAdjust="spacingAndGlyphs">0.2</text>
<text x="1230.6" y="1214.6" font-size="22.8" textLength="33.0" lengthAdjust="spacingAndGlyphs">0.4</text>
<text x="1230.6" y="1180.9" font-size="22.8" textLength="33.0" lengthAdjust="spacingAndGlyphs">0.6</text>
<text x="1309.2" y="1299.9" font-size="22.8" textLength="46.8" lengthAdjust="spacingAndGlyphs">−2.5</text>
<text x="1419.7" y="1299.9" font-size="22.8" textLength="33.0" lengthAdjust="spacingAndGlyphs">0.0</text>
<text x="1525.4" y="1299.9" font-size="22.8" textLength="33.0" lengthAdjust="spacingAndGlyphs">2.5</text>
<text x="1605.5" y="1299.9" font-size="22.8" textLength="33.0" lengthAdjust="spacingAndGlyphs">5.0</text>
<text x="1552.0" y="1166.0" font-size="23.3">Factor 7</text>
<text x="1552.0" y="1194.7" font-size="23.3">(late resp.)</text>
<line x1="1260.0" y1="1439.1" x2="1643.5" y2="1439.1" stroke="#f1f1f4" stroke-width="1.0"/>
<line x1="1260.0" y1="1408.7" x2="1643.5" y2="1408.7" stroke="#f1f1f4" stroke-width="1.0"/>
<line x1="1260.0" y1="1378.3" x2="1643.5" y2="1378.3" stroke="#f1f1f4" stroke-width="1.0"/>
<line x1="1260.0" y1="1348.0" x2="1643.5" y2="1348.0" stroke="#f1f1f4" stroke-width="1.0"/>
<line x1="1285.4" y1="1344.0" x2="1285.4" y2="1458.7" stroke="#f1f1f4" stroke-width="1.0"/>
<line x1="1388.7" y1="1344.0" x2="1388.7" y2="1458.7" stroke="#f1f1f4" stroke-width="1.0"/>
<line x1="1492.2" y1="1344.0" x2="1492.2" y2="1458.7" stroke="#f1f1f4" stroke-width="1.0"/>
<line x1="1595.7" y1="1344.0" x2="1595.7" y2="1458.7" stroke="#f1f1f4" stroke-width="1.0"/>
<line x1="1260.0" y1="1454.1" x2="1643.5" y2="1454.1" stroke="#e9e9ed" stroke-width="1.5"/>
<line x1="1260.0" y1="1423.9" x2="1643.5" y2="1423.9" stroke="#e9e9ed" stroke-width="1.5"/>
<line x1="1260.0" y1="1393.5" x2="1643.5" y2="1393.5" stroke="#e9e9ed" stroke-width="1.5"/>
<line x1="1260.0" y1="1363.0" x2="1643.5" y2="1363.0" stroke="#e9e9ed" stroke-width="1.5"/>
<line x1="1337.1" y1="1344.0" x2="1337.1" y2="1458.7" stroke="#e9e9ed" stroke-width="1.5"/>
<line x1="1440.6" y1="1344.0" x2="1440.6" y2="1458.7" stroke="#e9e9ed" stroke-width="1.5"/>
<line x1="1544.1" y1="1344.0" x2="1544.1" y2="1458.7" stroke="#e9e9ed" stroke-width="1.5"/>
<path d="M1276.0,1454.1C1284.7,1454.1 1293.4,1453.1 1302.0,1452.1C1310.0,1451.2 1318.1,1449.2 1326.1,1447.1C1332.7,1445.4 1339.4,1442.7 1346.1,1440.1C1352.8,1437.5 1359.4,1434.3 1366.1,1431.1C1371.4,1428.6 1376.8,1425.9 1382.1,1423.1C1387.5,1420.3 1392.8,1416.7 1398.1,1414.1C1403.5,1411.5 1408.8,1408.5 1414.2,1407.1C1419.5,1405.7 1424.8,1404.7 1430.2,1404.1C1434.2,1403.6 1438.2,1403.3 1442.2,1403.1C1444.8,1402.9 1447.5,1402.7 1450.2,1402.7C1453.5,1402.7 1456.9,1403.4 1460.2,1404.1C1463.5,1404.8 1466.9,1406.5 1470.2,1408.1C1473.5,1409.7 1476.9,1411.8 1480.2,1414.1C1483.6,1416.4 1486.9,1419.7 1490.2,1422.1C1494.2,1425.0 1498.2,1427.5 1502.2,1430.1C1506.9,1433.2 1511.6,1436.5 1516.3,1439.1C1520.9,1441.7 1525.6,1444.5 1530.3,1446.1C1535.6,1448.0 1540.9,1449.6 1546.3,1450.5C1553.0,1451.7 1559.6,1452.7 1566.3,1453.1C1575.0,1453.7 1583.7,1454.1 1592.3,1454.1C1604.0,1454.1 1615.7,1454.1 1627.4,1454.1" fill="#5bd6e7" fill-opacity="0.4" stroke="#5bd6e7" stroke-width="2.3" stroke-linejoin="round" stroke-linecap="round"/>
<path d="M1276.0,1454.1C1284.7,1454.0 1293.4,1452.9 1302.0,1451.7C1310.0,1450.7 1318.1,1448.4 1326.1,1446.1C1332.7,1444.2 1339.4,1441.7 1346.1,1439.1C1352.8,1436.5 1359.4,1433.3 1366.1,1430.1C1371.4,1427.6 1376.8,1424.9 1382.1,1422.1C1387.5,1419.3 1392.8,1415.5 1398.1,1413.1C1403.5,1410.7 1408.8,1408.3 1414.2,1407.1C1419.5,1405.9 1424.8,1404.8 1430.2,1404.5C1434.2,1404.3 1438.2,1404.1 1442.2,1404.1C1446.2,1404.1 1450.2,1404.6 1454.2,1405.1C1458.2,1405.6 1462.2,1406.8 1466.2,1408.1C1470.2,1409.3 1474.2,1411.0 1478.2,1413.1C1482.2,1415.1 1486.2,1418.1 1490.2,1421.1C1494.2,1424.1 1498.2,1427.9 1502.2,1431.1C1506.2,1434.3 1510.2,1437.7 1514.3,1440.1C1518.9,1442.9 1523.6,1445.4 1528.3,1447.1C1532.9,1448.8 1537.6,1450.4 1542.3,1451.1C1549.0,1452.2 1555.6,1453.0 1562.3,1453.3C1572.3,1453.8 1582.3,1454.1 1592.3,1454.1C1604.0,1454.1 1615.7,1454.1 1627.4,1454.1" fill="#c4f48a" fill-opacity="0.3" stroke="#c4f48a" stroke-width="2.3" stroke-linejoin="round" stroke-linecap="round"/>
<path d="M1276.0,1454.1C1300.0,1454.1 1324.1,1454.1 1348.1,1454.1C1354.1,1454.1 1360.1,1452.7 1366.1,1451.1C1370.1,1450.1 1374.1,1447.3 1378.1,1444.1C1381.5,1441.5 1384.8,1436.9 1388.1,1432.1C1390.8,1428.3 1393.5,1423.1 1396.1,1418.1C1398.8,1413.1 1401.5,1406.7 1404.1,1402.1C1406.8,1397.5 1409.5,1393.7 1412.2,1390.1C1414.8,1386.4 1417.5,1382.6 1420.2,1380.1C1422.8,1377.6 1425.5,1375.2 1428.2,1374.1C1430.8,1372.9 1433.5,1372.0 1436.2,1371.6C1438.8,1371.3 1441.5,1371.0 1444.2,1371.0C1446.9,1371.0 1449.5,1371.5 1452.2,1372.1C1454.2,1372.5 1456.2,1373.7 1458.2,1375.1C1460.2,1376.5 1462.2,1379.3 1464.2,1382.1C1466.2,1384.8 1468.2,1388.7 1470.2,1392.1C1472.9,1396.6 1475.5,1401.4 1478.2,1406.1C1480.9,1410.8 1483.6,1416.0 1486.2,1420.1C1488.9,1424.2 1491.6,1428.2 1494.2,1431.1C1497.6,1434.8 1500.9,1437.7 1504.2,1440.1C1508.2,1443.0 1512.3,1445.4 1516.3,1447.1C1520.9,1449.1 1525.6,1450.9 1530.3,1451.7C1537.6,1453.0 1544.9,1454.1 1552.3,1454.1C1577.3,1454.1 1602.3,1454.1 1627.4,1454.1" fill="#7fc99a" fill-opacity="0.32" stroke="#7fc99a" stroke-width="2.3" stroke-linejoin="round" stroke-linecap="round"/>
<path d="M1276.0,1454.1C1300.0,1454.1 1324.1,1454.1 1348.1,1454.1C1354.8,1454.1 1361.4,1452.9 1368.1,1451.1C1372.1,1450.1 1376.1,1446.2 1380.1,1442.1C1382.8,1439.4 1385.5,1434.9 1388.1,1430.1C1390.8,1425.3 1393.5,1419.0 1396.1,1412.1C1398.1,1406.9 1400.1,1400.1 1402.1,1394.1C1404.1,1388.1 1406.1,1381.3 1408.1,1376.1C1410.1,1370.8 1412.2,1365.7 1414.2,1362.0C1416.2,1358.4 1418.2,1355.0 1420.2,1353.0C1422.2,1351.1 1424.2,1348.6 1426.2,1348.6C1428.2,1348.6 1430.2,1349.2 1432.2,1350.0C1433.8,1350.7 1435.5,1353.4 1437.2,1356.0C1438.8,1358.7 1440.5,1363.8 1442.2,1368.0C1444.2,1373.1 1446.2,1379.1 1448.2,1384.1C1450.2,1389.0 1452.2,1394.0 1454.2,1398.1C1456.9,1403.5 1459.5,1407.4 1462.2,1412.1C1464.9,1416.8 1467.5,1422.0 1470.2,1426.1C1472.9,1430.2 1475.5,1434.4 1478.2,1437.1C1481.6,1440.5 1484.9,1443.3 1488.2,1445.1C1492.2,1447.3 1496.2,1449.1 1500.2,1450.1C1505.6,1451.5 1510.9,1452.8 1516.3,1453.1C1524.9,1453.7 1533.6,1454.1 1542.3,1454.1C1570.6,1454.1 1599.0,1454.1 1627.4,1454.1" fill="#3f8d88" fill-opacity="0.3" stroke="#3f8d88" stroke-width="2.3" stroke-linejoin="round" stroke-linecap="round"/>
<path d="M1276.0,1454.1C1298.0,1454.1 1320.1,1454.1 1342.1,1454.1C1348.8,1454.1 1355.4,1453.1 1362.1,1452.1C1366.8,1451.4 1371.4,1449.8 1376.1,1448.1C1380.1,1446.7 1384.1,1444.6 1388.1,1442.1C1391.5,1440.1 1394.8,1437.4 1398.1,1434.1C1400.8,1431.5 1403.5,1428.3 1406.1,1424.1C1408.1,1421.0 1410.1,1416.4 1412.2,1412.1C1414.2,1407.8 1416.2,1402.4 1418.2,1398.1C1420.2,1393.8 1422.2,1389.7 1424.2,1386.1C1426.2,1382.4 1428.2,1378.6 1430.2,1376.1C1432.2,1373.6 1434.2,1371.2 1436.2,1370.0C1437.8,1369.1 1439.5,1368.0 1441.2,1368.0C1443.5,1368.0 1445.9,1368.6 1448.2,1369.0C1450.2,1369.4 1452.2,1369.8 1454.2,1370.6C1455.9,1371.3 1457.5,1373.1 1459.2,1375.1C1460.9,1377.0 1462.5,1381.2 1464.2,1384.1C1466.2,1387.5 1468.2,1390.7 1470.2,1394.1C1472.2,1397.4 1474.2,1400.7 1476.2,1404.1C1478.2,1407.4 1480.2,1410.8 1482.2,1414.1C1484.2,1417.4 1486.2,1421.2 1488.2,1424.1C1490.9,1427.9 1493.6,1431.1 1496.2,1434.1C1498.9,1437.1 1501.6,1440.1 1504.2,1442.1C1506.9,1444.2 1509.6,1446.5 1512.3,1447.1C1515.6,1447.9 1518.9,1447.9 1522.3,1448.5C1524.9,1449.1 1527.6,1450.5 1530.3,1451.1C1534.3,1452.1 1538.3,1453.1 1542.3,1453.3C1549.0,1453.8 1555.6,1454.1 1562.3,1454.1C1584.0,1454.1 1605.7,1454.1 1627.4,1454.1" fill="#1c4567" fill-opacity="0.28" stroke="#1c4567" stroke-width="2.3" stroke-linejoin="round" stroke-linecap="round"/>
<text x="1232.0" y="1459.6" font-size="22.8" textLength="33.0" lengthAdjust="spacingAndGlyphs">0.0</text>
<text x="1232.0" y="1429.4" font-size="22.8" textLength="33.0" lengthAdjust="spacingAndGlyphs">0.3</text>
<text x="1232.0" y="1399.0" font-size="22.8" textLength="33.0" lengthAdjust="spacingAndGlyphs">0.6</text>
<text x="1232.0" y="1368.5" font-size="22.8" textLength="33.0" lengthAdjust="spacingAndGlyphs">0.8</text>
<text x="1327.1" y="1478.1" font-size="22.8" textLength="27.0" lengthAdjust="spacingAndGlyphs">−2</text>
<text x="1436.0" y="1478.1" font-size="22.8" textLength="13.2" lengthAdjust="spacingAndGlyphs">0</text>
<text x="1539.5" y="1478.1" font-size="22.8" textLength="13.2" lengthAdjust="spacingAndGlyphs">2</text>
<text x="1554.0" y="1343.4" font-size="23.3">Factor 8</text>
<line x1="1260.0" y1="1619.3" x2="1643.5" y2="1619.3" stroke="#f1f1f4" stroke-width="1.0"/>
<line x1="1260.0" y1="1592.7" x2="1643.5" y2="1592.7" stroke="#f1f1f4" stroke-width="1.0"/>
<line x1="1260.0" y1="1566.1" x2="1643.5" y2="1566.1" stroke="#f1f1f4" stroke-width="1.0"/>
<line x1="1260.0" y1="1539.4" x2="1643.5" y2="1539.4" stroke="#f1f1f4" stroke-width="1.0"/>
<line x1="1292.6" y1="1522.6" x2="1292.6" y2="1637.5" stroke="#f1f1f4" stroke-width="1.0"/>
<line x1="1396.3" y1="1522.6" x2="1396.3" y2="1637.5" stroke="#f1f1f4" stroke-width="1.0"/>
<line x1="1500.0" y1="1522.6" x2="1500.0" y2="1637.5" stroke="#f1f1f4" stroke-width="1.0"/>
<line x1="1603.7" y1="1522.6" x2="1603.7" y2="1637.5" stroke="#f1f1f4" stroke-width="1.0"/>
<line x1="1260.0" y1="1632.7" x2="1643.5" y2="1632.7" stroke="#e9e9ed" stroke-width="1.5"/>
<line x1="1260.0" y1="1606.1" x2="1643.5" y2="1606.1" stroke="#e9e9ed" stroke-width="1.5"/>
<line x1="1260.0" y1="1579.5" x2="1643.5" y2="1579.5" stroke="#e9e9ed" stroke-width="1.5"/>
<line x1="1260.0" y1="1552.9" x2="1643.5" y2="1552.9" stroke="#e9e9ed" stroke-width="1.5"/>
<line x1="1260.0" y1="1526.2" x2="1643.5" y2="1526.2" stroke="#e9e9ed" stroke-width="1.5"/>
<line x1="1344.5" y1="1522.6" x2="1344.5" y2="1637.5" stroke="#e9e9ed" stroke-width="1.5"/>
<line x1="1448.2" y1="1522.6" x2="1448.2" y2="1637.5" stroke="#e9e9ed" stroke-width="1.5"/>
<line x1="1551.9" y1="1522.6" x2="1551.9" y2="1637.5" stroke="#e9e9ed" stroke-width="1.5"/>
<path d="M1276.0,1632.7C1291.4,1632.7 1306.7,1632.7 1322.1,1632.7C1332.1,1632.7 1342.1,1631.9 1352.1,1630.7C1357.4,1630.1 1362.8,1627.8 1368.1,1625.1C1371.4,1623.4 1374.8,1620.6 1378.1,1617.1C1380.8,1614.3 1383.5,1609.9 1386.1,1605.1C1388.8,1600.3 1391.5,1593.1 1394.1,1587.1C1396.8,1581.1 1399.5,1574.7 1402.1,1569.1C1404.8,1563.4 1407.5,1557.3 1410.1,1553.1C1412.2,1549.9 1414.2,1546.7 1416.2,1545.0C1418.2,1543.4 1420.2,1541.4 1422.2,1541.4C1424.2,1541.4 1426.2,1541.5 1428.2,1541.6C1430.2,1541.8 1432.2,1542.5 1434.2,1543.4C1435.8,1544.2 1437.5,1546.0 1439.2,1548.0C1440.8,1550.1 1442.5,1553.9 1444.2,1557.1C1446.2,1560.8 1448.2,1565.1 1450.2,1569.1C1452.2,1573.1 1454.2,1577.4 1456.2,1581.1C1458.2,1584.7 1460.2,1587.9 1462.2,1591.1C1464.9,1595.3 1467.5,1599.9 1470.2,1603.1C1472.9,1606.3 1475.5,1609.3 1478.2,1611.1C1480.9,1612.9 1483.6,1613.7 1486.2,1615.1C1489.6,1616.9 1492.9,1619.3 1496.2,1621.1C1500.2,1623.3 1504.2,1625.9 1508.2,1627.1C1513.6,1628.8 1518.9,1630.0 1524.3,1630.7C1531.6,1631.7 1538.9,1632.7 1546.3,1632.7C1573.3,1632.7 1600.3,1632.7 1627.4,1632.7" fill="#5bd6e7" fill-opacity="0.4" stroke="#5bd6e7" stroke-width="2.3" stroke-linejoin="round" stroke-linecap="round"/>
<path d="M1276.0,1632.7C1304.7,1632.7 1333.4,1632.7 1362.1,1632.7C1370.1,1632.7 1378.1,1631.9 1386.1,1630.7C1391.5,1630.0 1396.8,1628.0 1402.1,1625.1C1405.5,1623.3 1408.8,1619.6 1412.2,1615.1C1414.8,1611.5 1417.5,1605.0 1420.2,1599.1C1422.8,1593.2 1425.5,1586.4 1428.2,1579.1C1430.2,1573.6 1432.2,1566.7 1434.2,1561.1C1436.2,1555.4 1438.2,1549.2 1440.2,1545.0C1442.2,1540.9 1444.2,1536.3 1446.2,1535.0C1448.2,1533.7 1450.2,1533.4 1452.2,1532.6C1454.2,1531.9 1456.2,1531.6 1458.2,1530.6C1459.9,1529.9 1461.5,1527.0 1463.2,1527.0C1464.5,1527.0 1465.9,1528.6 1467.2,1530.0C1468.9,1531.9 1470.5,1537.3 1472.2,1541.0C1474.2,1545.6 1476.2,1550.1 1478.2,1555.1C1480.2,1560.0 1482.2,1566.5 1484.2,1571.1C1486.9,1577.2 1489.6,1582.1 1492.2,1587.1C1494.9,1592.1 1497.6,1597.0 1500.2,1601.1C1502.9,1605.2 1505.6,1609.2 1508.2,1612.1C1511.6,1615.8 1514.9,1619.0 1518.3,1621.1C1522.3,1623.7 1526.3,1625.8 1530.3,1627.1C1535.6,1628.9 1540.9,1630.6 1546.3,1631.1C1555.0,1632.0 1563.6,1632.7 1572.3,1632.7C1590.7,1632.7 1609.0,1632.7 1627.4,1632.7" fill="#c4f48a" fill-opacity="0.3" stroke="#c4f48a" stroke-width="2.3" stroke-linejoin="round" stroke-linecap="round"/>
<path d="M1276.0,1632.7C1284.7,1631.9 1293.4,1630.6 1302.0,1629.1C1310.7,1627.7 1319.4,1625.5 1328.1,1623.5C1334.7,1622.0 1341.4,1620.5 1348.1,1618.7C1354.1,1617.1 1360.1,1615.2 1366.1,1613.1C1371.4,1611.3 1376.8,1609.4 1382.1,1607.1C1387.5,1604.8 1392.8,1602.2 1398.1,1599.1C1402.1,1596.8 1406.1,1593.6 1410.1,1591.1C1414.2,1588.6 1418.2,1586.2 1422.2,1584.1C1426.2,1581.9 1430.2,1579.3 1434.2,1578.1C1438.2,1576.9 1442.2,1575.5 1446.2,1575.5C1448.9,1575.5 1451.5,1575.8 1454.2,1576.1C1457.5,1576.5 1460.9,1577.9 1464.2,1579.1C1467.5,1580.2 1470.9,1581.3 1474.2,1583.1C1476.9,1584.5 1479.6,1586.8 1482.2,1589.1C1485.6,1591.9 1488.9,1595.8 1492.2,1599.1C1495.6,1602.4 1498.9,1606.1 1502.2,1609.1C1506.2,1612.8 1510.2,1616.6 1514.3,1619.1C1518.9,1622.1 1523.6,1624.5 1528.3,1626.1C1534.3,1628.2 1540.3,1630.0 1546.3,1630.7C1555.0,1631.8 1563.6,1632.7 1572.3,1632.7C1590.7,1632.7 1609.0,1632.7 1627.4,1632.7" fill="#7fc99a" fill-opacity="0.32" stroke="#7fc99a" stroke-width="2.3" stroke-linejoin="round" stroke-linecap="round"/>
<path d="M1276.0,1632.7C1288.0,1632.7 1300.0,1632.1 1312.1,1631.5C1320.7,1631.1 1329.4,1630.4 1338.1,1629.1C1344.1,1628.3 1350.1,1626.0 1356.1,1624.1C1361.4,1622.4 1366.8,1620.7 1372.1,1618.1C1376.8,1615.9 1381.5,1612.5 1386.1,1609.1C1390.1,1606.2 1394.1,1602.7 1398.1,1599.1C1401.5,1596.1 1404.8,1592.1 1408.1,1589.1C1411.5,1586.1 1414.8,1583.7 1418.2,1581.1C1421.5,1578.4 1424.8,1576.1 1428.2,1573.1C1430.8,1570.7 1433.5,1567.5 1436.2,1565.1C1438.2,1563.3 1440.2,1560.8 1442.2,1560.1C1444.8,1559.0 1447.5,1558.1 1450.2,1558.1C1452.9,1558.1 1455.5,1558.5 1458.2,1559.1C1460.9,1559.6 1463.5,1563.3 1466.2,1565.1C1469.5,1567.3 1472.9,1568.3 1476.2,1571.1C1478.9,1573.3 1481.6,1577.7 1484.2,1581.1C1486.9,1584.4 1489.6,1587.8 1492.2,1591.1C1494.9,1594.4 1497.6,1598.1 1500.2,1601.1C1503.6,1604.8 1506.9,1608.4 1510.2,1611.1C1514.3,1614.3 1518.3,1616.8 1522.3,1619.1C1526.3,1621.4 1530.3,1623.7 1534.3,1625.1C1538.9,1626.8 1543.6,1628.3 1548.3,1629.1C1554.3,1630.2 1560.3,1631.1 1566.3,1631.5C1575.0,1632.1 1583.7,1632.7 1592.3,1632.7C1604.0,1632.7 1615.7,1632.7 1627.4,1632.7" fill="#3f8d88" fill-opacity="0.3" stroke="#3f8d88" stroke-width="2.3" stroke-linejoin="round" stroke-linecap="round"/>
<path d="M1276.0,1632.7C1288.0,1632.7 1300.0,1632.3 1312.1,1631.9C1320.7,1631.6 1329.4,1631.1 1338.1,1630.1C1344.1,1629.5 1350.1,1627.7 1356.1,1626.1C1361.4,1624.7 1366.8,1623.2 1372.1,1621.1C1376.1,1619.6 1380.1,1617.8 1384.1,1615.1C1387.5,1612.9 1390.8,1608.4 1394.1,1605.1C1397.5,1601.8 1400.8,1598.6 1404.1,1595.1C1407.5,1591.6 1410.8,1587.2 1414.2,1584.1C1417.5,1581.0 1420.8,1578.7 1424.2,1576.1C1426.8,1574.0 1429.5,1572.2 1432.2,1570.1C1434.8,1567.9 1437.5,1564.3 1440.2,1563.1C1442.8,1561.9 1445.5,1560.7 1448.2,1560.7C1450.9,1560.7 1453.5,1561.4 1456.2,1562.1C1458.9,1562.8 1461.5,1564.6 1464.2,1566.1C1466.9,1567.5 1469.5,1569.0 1472.2,1571.1C1474.9,1573.1 1477.5,1576.0 1480.2,1579.1C1482.9,1582.2 1485.6,1586.6 1488.2,1590.1C1490.9,1593.6 1493.6,1597.4 1496.2,1600.1C1498.9,1602.8 1501.6,1605.0 1504.2,1607.1C1506.9,1609.3 1509.6,1611.3 1512.3,1613.1C1515.6,1615.3 1518.9,1617.8 1522.3,1619.1C1525.6,1620.5 1528.9,1621.0 1532.3,1622.1C1535.6,1623.3 1538.9,1625.1 1542.3,1626.1C1546.3,1627.4 1550.3,1628.4 1554.3,1629.1C1559.6,1630.1 1565.0,1631.1 1570.3,1631.5C1577.6,1632.1 1585.0,1632.5 1592.3,1632.5C1604.0,1632.7 1615.7,1632.7 1627.4,1632.7" fill="#1c4567" fill-opacity="0.28" stroke="#1c4567" stroke-width="2.3" stroke-linejoin="round" stroke-linecap="round"/>
<text x="1230.6" y="1638.2" font-size="22.8" textLength="33.0" lengthAdjust="spacingAndGlyphs">0.0</text>
<text x="1230.6" y="1611.6" font-size="22.8" textLength="33.0" lengthAdjust="spacingAndGlyphs">0.2</text>
<text x="1230.6" y="1585.0" font-size="22.8" textLength="33.0" lengthAdjust="spacingAndGlyphs">0.4</text>
<text x="1230.6" y="1558.4" font-size="22.8" textLength="33.0" lengthAdjust="spacingAndGlyphs">0.6</text>
<text x="1230.6" y="1531.7" font-size="22.8" textLength="33.0" lengthAdjust="spacingAndGlyphs">0.8</text>
<text x="1334.5" y="1656.7" font-size="22.8" textLength="27.0" lengthAdjust="spacingAndGlyphs">−2</text>
<text x="1443.6" y="1656.7" font-size="22.8" textLength="13.2" lengthAdjust="spacingAndGlyphs">0</text>
<text x="1547.3" y="1656.7" font-size="22.8" textLength="13.2" lengthAdjust="spacingAndGlyphs">2</text>
<text x="1554.0" y="1522.2" font-size="23.3">Factor 9</text>
<line x1="1260.0" y1="1797.7" x2="1643.5" y2="1797.7" stroke="#f1f1f4" stroke-width="1.0"/>
<line x1="1260.0" y1="1771.5" x2="1643.5" y2="1771.5" stroke="#f1f1f4" stroke-width="1.0"/>
<line x1="1260.0" y1="1745.1" x2="1643.5" y2="1745.1" stroke="#f1f1f4" stroke-width="1.0"/>
<line x1="1260.0" y1="1719.0" x2="1643.5" y2="1719.0" stroke="#f1f1f4" stroke-width="1.0"/>
<line x1="1296.6" y1="1700.6" x2="1296.6" y2="1815.5" stroke="#f1f1f4" stroke-width="1.0"/>
<line x1="1375.7" y1="1700.6" x2="1375.7" y2="1815.5" stroke="#f1f1f4" stroke-width="1.0"/>
<line x1="1454.8" y1="1700.6" x2="1454.8" y2="1815.5" stroke="#f1f1f4" stroke-width="1.0"/>
<line x1="1533.9" y1="1700.6" x2="1533.9" y2="1815.5" stroke="#f1f1f4" stroke-width="1.0"/>
<line x1="1612.8" y1="1700.6" x2="1612.8" y2="1815.5" stroke="#f1f1f4" stroke-width="1.0"/>
<line x1="1260.0" y1="1810.7" x2="1643.5" y2="1810.7" stroke="#e9e9ed" stroke-width="1.5"/>
<line x1="1260.0" y1="1784.5" x2="1643.5" y2="1784.5" stroke="#e9e9ed" stroke-width="1.5"/>
<line x1="1260.0" y1="1758.3" x2="1643.5" y2="1758.3" stroke="#e9e9ed" stroke-width="1.5"/>
<line x1="1260.0" y1="1732.1" x2="1643.5" y2="1732.1" stroke="#e9e9ed" stroke-width="1.5"/>
<line x1="1260.0" y1="1705.8" x2="1643.5" y2="1705.8" stroke="#e9e9ed" stroke-width="1.5"/>
<line x1="1336.1" y1="1700.6" x2="1336.1" y2="1815.5" stroke="#e9e9ed" stroke-width="1.5"/>
<line x1="1415.2" y1="1700.6" x2="1415.2" y2="1815.5" stroke="#e9e9ed" stroke-width="1.5"/>
<line x1="1494.2" y1="1700.6" x2="1494.2" y2="1815.5" stroke="#e9e9ed" stroke-width="1.5"/>
<line x1="1573.3" y1="1700.6" x2="1573.3" y2="1815.5" stroke="#e9e9ed" stroke-width="1.5"/>
<path d="M1276.0,1810.7L1276.0,1809.1C1280.0,1808.2 1284.0,1807.2 1288.0,1806.1C1292.7,1804.9 1297.4,1803.5 1302.0,1802.1C1306.7,1800.8 1311.4,1799.9 1316.1,1798.1C1320.1,1796.6 1324.1,1794.1 1328.1,1791.1C1331.4,1788.6 1334.7,1784.7 1338.1,1781.1C1341.4,1777.5 1344.7,1772.9 1348.1,1769.1C1351.4,1765.3 1354.8,1761.4 1358.1,1758.1C1361.4,1754.8 1364.8,1751.5 1368.1,1749.1C1371.4,1746.7 1374.8,1744.9 1378.1,1743.1C1381.5,1741.2 1384.8,1739.5 1388.1,1738.1C1391.5,1736.6 1394.8,1735.1 1398.1,1734.1C1400.8,1733.2 1403.5,1732.3 1406.1,1732.1C1409.5,1731.7 1412.8,1731.5 1416.2,1731.5C1419.5,1731.5 1422.8,1732.3 1426.2,1733.1C1428.8,1733.7 1431.5,1734.8 1434.2,1736.1C1436.8,1737.3 1439.5,1739.1 1442.2,1741.1C1444.8,1743.0 1447.5,1745.6 1450.2,1748.1C1452.9,1750.6 1455.5,1753.3 1458.2,1756.1C1460.9,1758.9 1463.5,1762.1 1466.2,1765.1C1468.9,1768.1 1471.5,1771.1 1474.2,1774.1C1476.9,1777.1 1479.6,1780.6 1482.2,1783.1C1485.6,1786.2 1488.9,1788.6 1492.2,1791.1C1495.6,1793.6 1498.9,1796.2 1502.2,1798.1C1506.2,1800.5 1510.2,1802.7 1514.3,1804.1C1518.9,1805.8 1523.6,1807.4 1528.3,1808.1C1534.3,1809.1 1540.3,1809.9 1546.3,1810.1C1555.0,1810.5 1563.6,1810.7 1572.3,1810.7C1590.7,1810.7 1609.0,1810.7 1627.4,1810.7L1627.4,1810.7Z" fill="#5bd6e7" fill-opacity="0.4"/>
<path d="M1276.0,1809.1C1280.0,1808.2 1284.0,1807.2 1288.0,1806.1C1292.7,1804.9 1297.4,1803.5 1302.0,1802.1C1306.7,1800.8 1311.4,1799.9 1316.1,1798.1C1320.1,1796.6 1324.1,1794.1 1328.1,1791.1C1331.4,1788.6 1334.7,1784.7 1338.1,1781.1C1341.4,1777.5 1344.7,1772.9 1348.1,1769.1C1351.4,1765.3 1354.8,1761.4 1358.1,1758.1C1361.4,1754.8 1364.8,1751.5 1368.1,1749.1C1371.4,1746.7 1374.8,1744.9 1378.1,1743.1C1381.5,1741.2 1384.8,1739.5 1388.1,1738.1C1391.5,1736.6 1394.8,1735.1 1398.1,1734.1C1400.8,1733.2 1403.5,1732.3 1406.1,1732.1C1409.5,1731.7 1412.8,1731.5 1416.2,1731.5C1419.5,1731.5 1422.8,1732.3 1426.2,1733.1C1428.8,1733.7 1431.5,1734.8 1434.2,1736.1C1436.8,1737.3 1439.5,1739.1 1442.2,1741.1C1444.8,1743.0 1447.5,1745.6 1450.2,1748.1C1452.9,1750.6 1455.5,1753.3 1458.2,1756.1C1460.9,1758.9 1463.5,1762.1 1466.2,1765.1C1468.9,1768.1 1471.5,1771.1 1474.2,1774.1C1476.9,1777.1 1479.6,1780.6 1482.2,1783.1C1485.6,1786.2 1488.9,1788.6 1492.2,1791.1C1495.6,1793.6 1498.9,1796.2 1502.2,1798.1C1506.2,1800.5 1510.2,1802.7 1514.3,1804.1C1518.9,1805.8 1523.6,1807.4 1528.3,1808.1C1534.3,1809.1 1540.3,1809.9 1546.3,1810.1C1555.0,1810.5 1563.6,1810.7 1572.3,1810.7C1590.7,1810.7 1609.0,1810.7 1627.4,1810.7" fill="none" stroke="#5bd6e7" stroke-width="2.3" stroke-linejoin="round" stroke-linecap="round"/>
<path d="M1276.0,1810.7L1276.0,1809.1C1280.0,1808.1 1284.0,1806.9 1288.0,1805.5C1292.7,1804.0 1297.4,1801.8 1302.0,1800.1C1306.0,1798.7 1310.0,1797.3 1314.1,1796.1C1318.1,1795.0 1322.1,1794.5 1326.1,1793.1C1329.4,1791.9 1332.7,1789.8 1336.1,1787.1C1339.4,1784.4 1342.7,1779.1 1346.1,1775.1C1349.4,1771.1 1352.8,1766.7 1356.1,1763.1C1359.4,1759.4 1362.8,1756.2 1366.1,1753.1C1369.4,1749.9 1372.8,1746.7 1376.1,1744.1C1379.5,1741.4 1382.8,1739.0 1386.1,1737.1C1389.5,1735.1 1392.8,1733.0 1396.1,1732.1C1399.5,1731.1 1402.8,1730.1 1406.1,1730.1C1409.5,1730.1 1412.8,1730.4 1416.2,1730.7C1419.5,1730.9 1422.8,1731.4 1426.2,1732.1C1429.5,1732.7 1432.8,1734.4 1436.2,1736.1C1438.8,1737.4 1441.5,1739.1 1444.2,1741.1C1446.9,1743.0 1449.5,1745.6 1452.2,1748.1C1454.9,1750.6 1457.5,1753.4 1460.2,1756.1C1462.9,1758.7 1465.5,1761.4 1468.2,1764.1C1470.9,1766.8 1473.5,1769.4 1476.2,1772.1C1478.9,1774.8 1481.6,1777.6 1484.2,1780.1C1487.6,1783.3 1490.9,1786.3 1494.2,1789.1C1497.6,1791.9 1500.9,1795.1 1504.2,1797.1C1508.2,1799.6 1512.3,1801.5 1516.3,1803.1C1520.9,1805.0 1525.6,1806.8 1530.3,1807.7C1536.3,1808.9 1542.3,1809.9 1548.3,1810.1C1556.3,1810.5 1564.3,1810.7 1572.3,1810.7C1590.7,1810.7 1609.0,1810.7 1627.4,1810.7L1627.4,1810.7Z" fill="#c4f48a" fill-opacity="0.3"/>
<path d="M1276.0,1809.1C1280.0,1808.1 1284.0,1806.9 1288.0,1805.5C1292.7,1804.0 1297.4,1801.8 1302.0,1800.1C1306.0,1798.7 1310.0,1797.3 1314.1,1796.1C1318.1,1795.0 1322.1,1794.5 1326.1,1793.1C1329.4,1791.9 1332.7,1789.8 1336.1,1787.1C1339.4,1784.4 1342.7,1779.1 1346.1,1775.1C1349.4,1771.1 1352.8,1766.7 1356.1,1763.1C1359.4,1759.4 1362.8,1756.2 1366.1,1753.1C1369.4,1749.9 1372.8,1746.7 1376.1,1744.1C1379.5,1741.4 1382.8,1739.0 1386.1,1737.1C1389.5,1735.1 1392.8,1733.0 1396.1,1732.1C1399.5,1731.1 1402.8,1730.1 1406.1,1730.1C1409.5,1730.1 1412.8,1730.4 1416.2,1730.7C1419.5,1730.9 1422.8,1731.4 1426.2,1732.1C1429.5,1732.7 1432.8,1734.4 1436.2,1736.1C1438.8,1737.4 1441.5,1739.1 1444.2,1741.1C1446.9,1743.0 1449.5,1745.6 1452.2,1748.1C1454.9,1750.6 1457.5,1753.4 1460.2,1756.1C1462.9,1758.7 1465.5,1761.4 1468.2,1764.1C1470.9,1766.8 1473.5,1769.4 1476.2,1772.1C1478.9,1774.8 1481.6,1777.6 1484.2,1780.1C1487.6,1783.3 1490.9,1786.3 1494.2,1789.1C1497.6,1791.9 1500.9,1795.1 1504.2,1797.1C1508.2,1799.6 1512.3,1801.5 1516.3,1803.1C1520.9,1805.0 1525.6,1806.8 1530.3,1807.7C1536.3,1808.9 1542.3,1809.9 1548.3,1810.1C1556.3,1810.5 1564.3,1810.7 1572.3,1810.7C1590.7,1810.7 1609.0,1810.7 1627.4,1810.7" fill="none" stroke="#c4f48a" stroke-width="2.3" stroke-linejoin="round" stroke-linecap="round"/>
<path d="M1276.0,1810.7L1276.0,1810.1C1281.4,1809.6 1286.7,1808.5 1292.0,1807.1C1296.7,1806.0 1301.4,1803.8 1306.0,1802.1C1310.7,1800.5 1315.4,1798.5 1320.1,1797.1C1324.1,1795.9 1328.1,1795.7 1332.1,1794.1C1335.4,1792.8 1338.7,1788.8 1342.1,1785.1C1345.4,1781.5 1348.8,1775.4 1352.1,1771.1C1355.4,1766.8 1358.8,1762.9 1362.1,1759.1C1365.4,1755.3 1368.8,1751.4 1372.1,1748.1C1375.4,1744.8 1378.8,1741.6 1382.1,1739.1C1385.5,1736.6 1388.8,1734.3 1392.1,1732.7C1395.5,1731.0 1398.8,1729.1 1402.1,1728.6C1404.8,1728.3 1407.5,1728.0 1410.1,1728.0C1413.5,1728.0 1416.8,1728.6 1420.2,1729.1C1423.5,1729.5 1426.8,1730.3 1430.2,1731.5C1432.8,1732.4 1435.5,1734.2 1438.2,1736.1C1440.8,1737.9 1443.5,1740.6 1446.2,1743.1C1448.9,1745.6 1451.5,1748.4 1454.2,1751.1C1456.9,1753.7 1459.5,1756.3 1462.2,1759.1C1464.9,1761.9 1467.5,1765.1 1470.2,1768.1C1472.9,1771.1 1475.5,1774.3 1478.2,1777.1C1480.9,1779.9 1483.6,1782.7 1486.2,1785.1C1489.6,1788.1 1492.9,1790.8 1496.2,1793.1C1499.6,1795.4 1502.9,1797.4 1506.2,1799.1C1510.2,1801.2 1514.3,1803.3 1518.3,1804.7C1522.9,1806.3 1527.6,1807.8 1532.3,1808.5C1538.3,1809.4 1544.3,1810.1 1550.3,1810.3C1557.6,1810.6 1565.0,1810.7 1572.3,1810.7C1590.7,1810.7 1609.0,1810.7 1627.4,1810.7L1627.4,1810.7Z" fill="#7fc99a" fill-opacity="0.32"/>
<path d="M1276.0,1810.1C1281.4,1809.6 1286.7,1808.5 1292.0,1807.1C1296.7,1806.0 1301.4,1803.8 1306.0,1802.1C1310.7,1800.5 1315.4,1798.5 1320.1,1797.1C1324.1,1795.9 1328.1,1795.7 1332.1,1794.1C1335.4,1792.8 1338.7,1788.8 1342.1,1785.1C1345.4,1781.5 1348.8,1775.4 1352.1,1771.1C1355.4,1766.8 1358.8,1762.9 1362.1,1759.1C1365.4,1755.3 1368.8,1751.4 1372.1,1748.1C1375.4,1744.8 1378.8,1741.6 1382.1,1739.1C1385.5,1736.6 1388.8,1734.3 1392.1,1732.7C1395.5,1731.0 1398.8,1729.1 1402.1,1728.6C1404.8,1728.3 1407.5,1728.0 1410.1,1728.0C1413.5,1728.0 1416.8,1728.6 1420.2,1729.1C1423.5,1729.5 1426.8,1730.3 1430.2,1731.5C1432.8,1732.4 1435.5,1734.2 1438.2,1736.1C1440.8,1737.9 1443.5,1740.6 1446.2,1743.1C1448.9,1745.6 1451.5,1748.4 1454.2,1751.1C1456.9,1753.7 1459.5,1756.3 1462.2,1759.1C1464.9,1761.9 1467.5,1765.1 1470.2,1768.1C1472.9,1771.1 1475.5,1774.3 1478.2,1777.1C1480.9,1779.9 1483.6,1782.7 1486.2,1785.1C1489.6,1788.1 1492.9,1790.8 1496.2,1793.1C1499.6,1795.4 1502.9,1797.4 1506.2,1799.1C1510.2,1801.2 1514.3,1803.3 1518.3,1804.7C1522.9,1806.3 1527.6,1807.8 1532.3,1808.5C1538.3,1809.4 1544.3,1810.1 1550.3,1810.3C1557.6,1810.6 1565.0,1810.7 1572.3,1810.7C1590.7,1810.7 1609.0,1810.7 1627.4,1810.7" fill="none" stroke="#7fc99a" stroke-width="2.3" stroke-linejoin="round" stroke-linecap="round"/>
<path d="M1276.0,1810.7C1282.0,1810.7 1288.0,1810.0 1294.0,1809.1C1298.0,1808.5 1302.0,1805.9 1306.0,1804.1C1310.0,1802.3 1314.1,1799.6 1318.1,1798.1C1321.4,1796.9 1324.7,1796.2 1328.1,1795.1C1330.7,1794.2 1333.4,1793.6 1336.1,1792.1C1338.7,1790.6 1341.4,1786.5 1344.1,1783.1C1346.8,1779.7 1349.4,1775.1 1352.1,1771.1C1354.8,1767.1 1357.4,1763.1 1360.1,1759.1C1362.8,1755.1 1365.4,1751.1 1368.1,1747.1C1370.8,1743.1 1373.4,1738.5 1376.1,1735.1C1378.8,1731.6 1381.5,1728.4 1384.1,1726.0C1386.8,1723.6 1389.5,1721.2 1392.1,1720.0C1395.5,1718.6 1398.8,1717.9 1402.1,1717.0C1404.8,1716.3 1407.5,1715.3 1410.1,1715.0C1412.5,1714.8 1414.8,1714.6 1417.2,1714.6C1419.5,1714.6 1421.8,1716.7 1424.2,1718.0C1426.8,1719.6 1429.5,1722.2 1432.2,1724.0C1434.8,1725.9 1437.5,1726.9 1440.2,1729.1C1442.8,1731.2 1445.5,1734.5 1448.2,1738.1C1450.9,1741.6 1453.5,1746.6 1456.2,1751.1C1458.9,1755.6 1461.5,1760.4 1464.2,1765.1C1466.9,1769.8 1469.5,1775.2 1472.2,1779.1C1474.9,1783.0 1477.5,1786.5 1480.2,1789.1C1483.6,1792.4 1486.9,1794.8 1490.2,1797.1C1493.6,1799.4 1496.9,1801.7 1500.2,1803.1C1504.2,1804.9 1508.2,1806.3 1512.3,1807.1C1517.6,1808.3 1522.9,1809.1 1528.3,1809.5C1536.3,1810.2 1544.3,1810.7 1552.3,1810.7C1577.3,1810.7 1602.3,1810.7 1627.4,1810.7" fill="#3f8d88" fill-opacity="0.3" stroke="#3f8d88" stroke-width="2.3" stroke-linejoin="round" stroke-linecap="round"/>
<path d="M1276.0,1810.7C1281.4,1810.7 1286.7,1810.5 1292.0,1810.1C1295.4,1809.9 1298.7,1808.6 1302.0,1807.1C1305.4,1805.7 1308.7,1801.7 1312.1,1799.1C1314.7,1797.1 1317.4,1795.3 1320.1,1793.1C1322.7,1791.0 1325.4,1787.8 1328.1,1786.1C1330.7,1784.4 1333.4,1783.4 1336.1,1782.1C1338.7,1780.8 1341.4,1779.9 1344.1,1778.1C1346.8,1776.3 1349.4,1772.5 1352.1,1769.1C1354.8,1765.7 1357.4,1761.4 1360.1,1757.1C1362.8,1752.8 1365.4,1747.4 1368.1,1743.1C1370.8,1738.8 1373.4,1734.3 1376.1,1731.1C1378.8,1727.8 1381.5,1725.7 1384.1,1723.0C1386.8,1720.4 1389.5,1717.5 1392.1,1715.0C1394.8,1712.5 1397.5,1709.4 1400.1,1708.0C1402.5,1706.8 1404.8,1705.4 1407.1,1705.4C1409.5,1705.4 1411.8,1705.7 1414.2,1706.0C1416.8,1706.4 1419.5,1707.5 1422.2,1709.0C1424.2,1710.1 1426.2,1712.4 1428.2,1715.0C1430.2,1717.7 1432.2,1722.7 1434.2,1727.0C1436.2,1731.4 1438.2,1736.4 1440.2,1741.1C1442.2,1745.7 1444.2,1751.0 1446.2,1755.1C1448.9,1760.5 1451.5,1764.8 1454.2,1769.1C1456.9,1773.4 1459.5,1777.5 1462.2,1781.1C1464.9,1784.7 1467.5,1788.4 1470.2,1791.1C1472.9,1793.9 1475.5,1796.2 1478.2,1798.1C1481.6,1800.5 1484.9,1802.7 1488.2,1804.1C1492.2,1805.9 1496.2,1807.4 1500.2,1808.1C1505.6,1809.1 1510.9,1810.0 1516.3,1810.1C1524.9,1810.4 1533.6,1810.5 1542.3,1810.5C1570.6,1810.7 1599.0,1810.7 1627.4,1810.7" fill="#1c4567" fill-opacity="0.28" stroke="#1c4567" stroke-width="2.3" stroke-linejoin="round" stroke-linecap="round"/>
<text x="1230.6" y="1816.2" font-size="22.8" textLength="33.0" lengthAdjust="spacingAndGlyphs">0.0</text>
<text x="1230.6" y="1790.0" font-size="22.8" textLength="33.0" lengthAdjust="spacingAndGlyphs">0.2</text>
<text x="1230.6" y="1763.8" font-size="22.8" textLength="33.0" lengthAdjust="spacingAndGlyphs">0.4</text>
<text x="1230.6" y="1737.6" font-size="22.8" textLength="33.0" lengthAdjust="spacingAndGlyphs">0.6</text>
<text x="1230.6" y="1711.3" font-size="22.8" textLength="33.0" lengthAdjust="spacingAndGlyphs">0.8</text>
<text x="1326.1" y="1834.7" font-size="22.8" textLength="27.0" lengthAdjust="spacingAndGlyphs">−1</text>
<text x="1410.6" y="1834.7" font-size="22.8" textLength="13.2" lengthAdjust="spacingAndGlyphs">0</text>
<text x="1489.6" y="1834.7" font-size="22.8" textLength="13.2" lengthAdjust="spacingAndGlyphs">1</text>
<text x="1568.7" y="1834.7" font-size="22.8" textLength="13.2" lengthAdjust="spacingAndGlyphs">2</text>
<text x="1554.0" y="1700.8" font-size="23.3">Factor 10</text>
<line x1="1767.0" y1="195.5" x2="2151.0" y2="195.5" stroke="#f1f1f4" stroke-width="1.0"/>
<line x1="1767.0" y1="171.7" x2="2151.0" y2="171.7" stroke="#f1f1f4" stroke-width="1.0"/>
<line x1="1767.0" y1="148.1" x2="2151.0" y2="148.1" stroke="#f1f1f4" stroke-width="1.0"/>
<line x1="1767.0" y1="124.2" x2="2151.0" y2="124.2" stroke="#f1f1f4" stroke-width="1.0"/>
<line x1="1767.0" y1="100.4" x2="2151.0" y2="100.4" stroke="#f1f1f4" stroke-width="1.0"/>
<line x1="1811.0" y1="99.0" x2="1811.0" y2="212.1" stroke="#f1f1f4" stroke-width="1.0"/>
<line x1="1887.1" y1="99.0" x2="1887.1" y2="212.1" stroke="#f1f1f4" stroke-width="1.0"/>
<line x1="1963.2" y1="99.0" x2="1963.2" y2="212.1" stroke="#f1f1f4" stroke-width="1.0"/>
<line x1="2039.5" y1="99.0" x2="2039.5" y2="212.1" stroke="#f1f1f4" stroke-width="1.0"/>
<line x1="2115.8" y1="99.0" x2="2115.8" y2="212.1" stroke="#f1f1f4" stroke-width="1.0"/>
<line x1="1767.0" y1="207.5" x2="2151.0" y2="207.5" stroke="#e9e9ed" stroke-width="1.5"/>
<line x1="1767.0" y1="183.7" x2="2151.0" y2="183.7" stroke="#e9e9ed" stroke-width="1.5"/>
<line x1="1767.0" y1="159.9" x2="2151.0" y2="159.9" stroke="#e9e9ed" stroke-width="1.5"/>
<line x1="1767.0" y1="136.1" x2="2151.0" y2="136.1" stroke="#e9e9ed" stroke-width="1.5"/>
<line x1="1767.0" y1="112.2" x2="2151.0" y2="112.2" stroke="#e9e9ed" stroke-width="1.5"/>
<line x1="1773.0" y1="99.0" x2="1773.0" y2="212.1" stroke="#e9e9ed" stroke-width="1.5"/>
<line x1="1849.1" y1="99.0" x2="1849.1" y2="212.1" stroke="#e9e9ed" stroke-width="1.5"/>
<line x1="1925.2" y1="99.0" x2="1925.2" y2="212.1" stroke="#e9e9ed" stroke-width="1.5"/>
<line x1="2001.4" y1="99.0" x2="2001.4" y2="212.1" stroke="#e9e9ed" stroke-width="1.5"/>
<line x1="2077.7" y1="99.0" x2="2077.7" y2="212.1" stroke="#e9e9ed" stroke-width="1.5"/>
<path d="M1779.6,207.5L1779.6,203.1C1782.4,202.6 1785.2,200.5 1788.0,198.1C1790.7,195.9 1793.4,191.7 1796.0,187.1C1798.7,182.6 1801.4,175.4 1804.0,169.1C1806.7,162.8 1809.4,155.4 1812.1,149.1C1814.7,142.8 1817.4,135.9 1820.1,131.1C1822.7,126.3 1825.4,121.7 1828.1,119.0C1830.7,116.4 1833.4,114.1 1836.1,113.0C1838.1,112.3 1840.1,111.4 1842.1,111.4C1844.7,111.4 1847.4,111.4 1850.1,111.4C1852.8,111.4 1855.4,113.7 1858.1,114.0C1862.1,114.6 1866.1,115.0 1870.1,115.0C1874.1,115.0 1878.1,115.0 1882.1,115.0C1886.1,115.0 1890.1,113.6 1894.1,112.6C1896.8,112.0 1899.5,110.8 1902.1,110.0C1904.8,109.3 1907.5,108.0 1910.1,108.0C1912.2,108.0 1914.2,108.3 1916.2,108.6C1918.2,109.0 1920.2,111.1 1922.2,113.0C1924.2,114.9 1926.2,118.4 1928.2,121.0C1930.2,123.7 1932.2,125.9 1934.2,129.1C1936.2,132.3 1938.2,137.4 1940.2,141.1C1942.2,144.7 1944.2,148.5 1946.2,151.1C1948.9,154.5 1951.5,157.3 1954.2,159.1C1957.5,161.3 1960.9,162.7 1964.2,164.1C1968.2,165.7 1972.2,167.1 1976.2,168.1C1980.9,169.2 1985.6,170.1 1990.2,170.7C1995.6,171.3 2000.9,172.1 2006.2,172.1C2011.6,172.1 2016.9,172.1 2022.3,172.1C2027.6,172.1 2032.9,172.1 2038.3,172.1C2042.3,172.1 2046.3,173.2 2050.3,174.1C2054.3,175.0 2058.3,176.5 2062.3,178.1C2066.3,179.7 2070.3,181.7 2074.3,184.1C2078.3,186.5 2082.3,190.5 2086.3,193.1C2090.3,195.7 2094.3,198.4 2098.3,200.1C2102.3,201.8 2106.3,203.2 2110.3,204.1C2114.4,205.0 2118.4,205.7 2122.4,206.1C2126.2,206.6 2130.1,207.0 2134.0,207.1L2134.0,207.5Z" fill="#5bd6e7" fill-opacity="0.4"/>
<path d="M1779.6,203.1C1782.4,202.6 1785.2,200.5 1788.0,198.1C1790.7,195.9 1793.4,191.7 1796.0,187.1C1798.7,182.6 1801.4,175.4 1804.0,169.1C1806.7,162.8 1809.4,155.4 1812.1,149.1C1814.7,142.8 1817.4,135.9 1820.1,131.1C1822.7,126.3 1825.4,121.7 1828.1,119.0C1830.7,116.4 1833.4,114.1 1836.1,113.0C1838.1,112.3 1840.1,111.4 1842.1,111.4C1844.7,111.4 1847.4,111.4 1850.1,111.4C1852.8,111.4 1855.4,113.7 1858.1,114.0C1862.1,114.6 1866.1,115.0 1870.1,115.0C1874.1,115.0 1878.1,115.0 1882.1,115.0C1886.1,115.0 1890.1,113.6 1894.1,112.6C1896.8,112.0 1899.5,110.8 1902.1,110.0C1904.8,109.3 1907.5,108.0 1910.1,108.0C1912.2,108.0 1914.2,108.3 1916.2,108.6C1918.2,109.0 1920.2,111.1 1922.2,113.0C1924.2,114.9 1926.2,118.4 1928.2,121.0C1930.2,123.7 1932.2,125.9 1934.2,129.1C1936.2,132.3 1938.2,137.4 1940.2,141.1C1942.2,144.7 1944.2,148.5 1946.2,151.1C1948.9,154.5 1951.5,157.3 1954.2,159.1C1957.5,161.3 1960.9,162.7 1964.2,164.1C1968.2,165.7 1972.2,167.1 1976.2,168.1C1980.9,169.2 1985.6,170.1 1990.2,170.7C1995.6,171.3 2000.9,172.1 2006.2,172.1C2011.6,172.1 2016.9,172.1 2022.3,172.1C2027.6,172.1 2032.9,172.1 2038.3,172.1C2042.3,172.1 2046.3,173.2 2050.3,174.1C2054.3,175.0 2058.3,176.5 2062.3,178.1C2066.3,179.7 2070.3,181.7 2074.3,184.1C2078.3,186.5 2082.3,190.5 2086.3,193.1C2090.3,195.7 2094.3,198.4 2098.3,200.1C2102.3,201.8 2106.3,203.2 2110.3,204.1C2114.4,205.0 2118.4,205.7 2122.4,206.1C2126.2,206.6 2130.1,207.0 2134.0,207.1" fill="none" stroke="#5bd6e7" stroke-width="2.3" stroke-linejoin="round" stroke-linecap="round"/>
<path d="M1779.6,207.5L1779.6,202.7C1782.4,202.1 1785.2,199.7 1788.0,197.1C1790.7,194.7 1793.4,189.9 1796.0,185.1C1798.7,180.3 1801.4,173.4 1804.0,167.1C1806.7,160.8 1809.4,153.4 1812.1,147.1C1814.7,140.7 1817.4,134.1 1820.1,129.1C1822.7,124.0 1825.4,118.8 1828.1,116.0C1830.7,113.3 1833.4,111.2 1836.1,110.0C1838.7,108.8 1841.4,107.4 1844.1,107.4C1846.1,107.4 1848.1,107.4 1850.1,107.4C1852.8,107.4 1855.4,110.0 1858.1,111.0C1862.1,112.6 1866.1,115.0 1870.1,115.0C1874.1,115.0 1878.1,114.6 1882.1,114.0C1885.5,113.6 1888.8,110.6 1892.1,109.0C1894.8,107.8 1897.5,105.7 1900.1,105.4C1902.1,105.2 1904.1,105.0 1906.1,105.0C1908.1,105.0 1910.1,106.1 1912.2,107.0C1914.8,108.2 1917.5,110.5 1920.2,113.0C1922.8,115.5 1925.5,119.7 1928.2,123.0C1930.8,126.4 1933.5,128.9 1936.2,133.1C1938.2,136.2 1940.2,141.6 1942.2,145.1C1944.2,148.5 1946.2,152.0 1948.2,154.1C1950.9,156.8 1953.5,158.7 1956.2,160.1C1959.5,161.8 1962.9,163.1 1966.2,164.1C1970.2,165.3 1974.2,166.3 1978.2,167.1C1982.9,168.0 1987.6,168.9 1992.2,169.5C1997.6,170.2 2002.9,170.7 2008.2,171.1C2013.6,171.5 2018.9,171.7 2024.3,172.1C2028.9,172.4 2033.6,172.6 2038.3,173.1C2042.3,173.5 2046.3,174.8 2050.3,176.1C2054.3,177.4 2058.3,180.0 2062.3,182.1C2066.3,184.3 2070.3,186.6 2074.3,189.1C2078.3,191.6 2082.3,195.1 2086.3,197.1C2090.3,199.2 2094.3,200.9 2098.3,202.1C2102.3,203.4 2106.3,204.6 2110.3,205.1C2118.2,206.2 2126.1,207.1 2134.0,207.1L2134.0,207.5Z" fill="#ecd873" fill-opacity="0.3"/>
<path d="M1779.6,202.7C1782.4,202.1 1785.2,199.7 1788.0,197.1C1790.7,194.7 1793.4,189.9 1796.0,185.1C1798.7,180.3 1801.4,173.4 1804.0,167.1C1806.7,160.8 1809.4,153.4 1812.1,147.1C1814.7,140.7 1817.4,134.1 1820.1,129.1C1822.7,124.0 1825.4,118.8 1828.1,116.0C1830.7,113.3 1833.4,111.2 1836.1,110.0C1838.7,108.8 1841.4,107.4 1844.1,107.4C1846.1,107.4 1848.1,107.4 1850.1,107.4C1852.8,107.4 1855.4,110.0 1858.1,111.0C1862.1,112.6 1866.1,115.0 1870.1,115.0C1874.1,115.0 1878.1,114.6 1882.1,114.0C1885.5,113.6 1888.8,110.6 1892.1,109.0C1894.8,107.8 1897.5,105.7 1900.1,105.4C1902.1,105.2 1904.1,105.0 1906.1,105.0C1908.1,105.0 1910.1,106.1 1912.2,107.0C1914.8,108.2 1917.5,110.5 1920.2,113.0C1922.8,115.5 1925.5,119.7 1928.2,123.0C1930.8,126.4 1933.5,128.9 1936.2,133.1C1938.2,136.2 1940.2,141.6 1942.2,145.1C1944.2,148.5 1946.2,152.0 1948.2,154.1C1950.9,156.8 1953.5,158.7 1956.2,160.1C1959.5,161.8 1962.9,163.1 1966.2,164.1C1970.2,165.3 1974.2,166.3 1978.2,167.1C1982.9,168.0 1987.6,168.9 1992.2,169.5C1997.6,170.2 2002.9,170.7 2008.2,171.1C2013.6,171.5 2018.9,171.7 2024.3,172.1C2028.9,172.4 2033.6,172.6 2038.3,173.1C2042.3,173.5 2046.3,174.8 2050.3,176.1C2054.3,177.4 2058.3,180.0 2062.3,182.1C2066.3,184.3 2070.3,186.6 2074.3,189.1C2078.3,191.6 2082.3,195.1 2086.3,197.1C2090.3,199.2 2094.3,200.9 2098.3,202.1C2102.3,203.4 2106.3,204.6 2110.3,205.1C2118.2,206.2 2126.1,207.1 2134.0,207.1" fill="none" stroke="#ecd873" stroke-width="2.3" stroke-linejoin="round" stroke-linecap="round"/>
<path d="M1779.6,207.1C1783.8,207.1 1787.9,205.7 1792.0,204.1C1795.4,202.8 1798.7,199.1 1802.0,195.1C1804.7,191.9 1807.4,186.6 1810.0,181.1C1812.7,175.6 1815.4,167.8 1818.1,161.1C1820.7,154.4 1823.4,147.0 1826.1,141.1C1828.7,135.1 1831.4,129.4 1834.1,125.1C1836.7,120.7 1839.4,116.5 1842.1,114.0C1844.7,111.6 1847.4,109.3 1850.1,108.6C1852.8,108.0 1855.4,107.4 1858.1,107.4C1860.8,107.4 1863.4,108.1 1866.1,108.6C1870.1,109.4 1874.1,111.5 1878.1,112.0C1882.1,112.6 1886.1,113.0 1890.1,113.0C1894.1,113.0 1898.1,112.9 1902.1,112.6C1905.5,112.4 1908.8,111.0 1912.2,111.0C1914.8,111.0 1917.5,111.2 1920.2,111.4C1922.8,111.7 1925.5,113.3 1928.2,115.0C1930.8,116.8 1933.5,120.7 1936.2,124.0C1938.8,127.4 1941.5,131.6 1944.2,135.1C1946.9,138.6 1949.5,142.3 1952.2,145.1C1955.5,148.6 1958.9,151.7 1962.2,154.1C1965.5,156.5 1968.9,158.9 1972.2,160.1C1976.2,161.5 1980.2,162.6 1984.2,163.1C1988.9,163.6 1993.6,164.1 1998.2,164.1C2002.9,164.1 2007.6,163.3 2012.3,163.1C2016.9,162.9 2021.6,162.7 2026.3,162.7C2030.3,162.7 2034.3,163.4 2038.3,164.1C2042.3,164.8 2046.3,166.4 2050.3,168.1C2054.3,169.8 2058.3,172.5 2062.3,175.1C2066.3,177.7 2070.3,181.1 2074.3,184.1C2078.3,187.1 2082.3,190.5 2086.3,193.1C2090.3,195.7 2094.3,198.4 2098.3,200.1C2102.3,201.8 2106.3,203.2 2110.3,204.1C2114.4,205.0 2118.4,205.7 2122.4,206.1C2126.2,206.6 2130.1,207.0 2134.0,207.1" fill="#f08a76" fill-opacity="0.32" stroke="#f08a76" stroke-width="2.3" stroke-linejoin="round" stroke-linecap="round"/>
<path d="M1779.6,207.1C1784.4,207.1 1789.2,206.1 1794.0,204.7C1797.4,203.8 1800.7,200.5 1804.0,197.1C1806.7,194.4 1809.4,189.9 1812.1,185.1C1814.7,180.3 1817.4,173.4 1820.1,167.1C1822.7,160.8 1825.4,153.4 1828.1,147.1C1830.7,140.7 1833.4,134.1 1836.1,129.1C1838.7,124.0 1841.4,118.8 1844.1,116.0C1846.8,113.3 1849.4,111.0 1852.1,110.0C1854.8,109.0 1857.4,108.0 1860.1,108.0C1862.8,108.0 1865.4,108.0 1868.1,108.0C1870.8,108.0 1873.4,109.9 1876.1,111.0C1879.5,112.5 1882.8,114.4 1886.1,116.0C1889.5,117.7 1892.8,119.6 1896.1,121.0C1899.5,122.5 1902.8,124.2 1906.1,125.1C1909.5,125.9 1912.8,126.6 1916.2,127.1C1919.5,127.5 1922.8,127.5 1926.2,128.1C1928.8,128.5 1931.5,129.7 1934.2,131.1C1936.8,132.4 1939.5,135.0 1942.2,137.1C1945.5,139.6 1948.9,142.4 1952.2,145.1C1955.5,147.7 1958.9,150.8 1962.2,153.1C1966.2,155.8 1970.2,158.7 1974.2,160.1C1978.2,161.5 1982.2,163.1 1986.2,163.1C1991.6,163.1 1996.9,162.5 2002.2,162.1C2007.6,161.6 2012.9,160.6 2018.3,160.1C2022.3,159.7 2026.3,159.1 2030.3,159.1C2034.3,159.1 2038.3,159.5 2042.3,160.1C2045.6,160.6 2049.0,162.4 2052.3,164.1C2055.6,165.8 2059.0,168.6 2062.3,171.1C2066.3,174.1 2070.3,177.8 2074.3,181.1C2078.3,184.4 2082.3,188.2 2086.3,191.1C2090.3,194.1 2094.3,197.1 2098.3,199.1C2102.3,201.2 2106.3,203.2 2110.3,204.1C2114.4,205.1 2118.4,205.7 2122.4,206.1C2126.2,206.6 2130.1,207.0 2134.0,207.1" fill="#8a4f9a" fill-opacity="0.3" stroke="#8a4f9a" stroke-width="2.3" stroke-linejoin="round" stroke-linecap="round"/>
<path d="M1779.6,207.5L1779.6,207.1C1785.8,207.1 1791.9,206.3 1798.0,205.1C1801.4,204.5 1804.7,201.8 1808.0,199.1C1811.4,196.5 1814.7,191.7 1818.1,187.1C1821.4,182.5 1824.7,176.7 1828.1,171.1C1831.4,165.4 1834.7,159.1 1838.1,153.1C1841.4,147.1 1844.7,140.7 1848.1,135.1C1851.4,129.4 1854.8,123.7 1858.1,119.0C1860.8,115.3 1863.4,111.1 1866.1,109.0C1868.8,107.0 1871.4,105.3 1874.1,104.6C1876.4,104.0 1878.8,103.4 1881.1,103.4C1884.1,103.4 1887.1,104.3 1890.1,105.0C1894.1,105.9 1898.1,107.3 1902.1,109.0C1906.1,110.7 1910.1,113.4 1914.2,116.0C1918.2,118.7 1922.2,121.9 1926.2,125.1C1929.5,127.6 1932.8,130.8 1936.2,133.1C1939.5,135.3 1942.8,137.4 1946.2,139.1C1950.2,141.0 1954.2,142.6 1958.2,144.1C1962.2,145.6 1966.2,146.9 1970.2,148.1C1974.2,149.2 1978.2,150.1 1982.2,151.1C1986.2,152.1 1990.2,153.1 1994.2,154.1C1998.2,155.0 2002.2,156.3 2006.2,156.7C2010.2,157.1 2014.3,157.5 2018.3,157.5C2022.3,157.5 2026.3,156.9 2030.3,156.7C2033.6,156.5 2036.9,156.1 2040.3,156.1C2043.6,156.1 2047.0,156.7 2050.3,157.5C2053.6,158.2 2057.0,160.9 2060.3,163.1C2063.6,165.3 2067.0,168.4 2070.3,171.1C2074.3,174.4 2078.3,177.8 2082.3,181.1C2086.3,184.4 2090.3,188.2 2094.3,191.1C2098.3,194.1 2102.3,197.1 2106.3,199.1C2110.3,201.2 2114.4,203.2 2118.4,204.1C2123.6,205.4 2128.8,206.6 2134.0,206.7L2134.0,207.5Z" fill="#333a80" fill-opacity="0.28"/>
<path d="M1779.6,207.1C1785.8,207.1 1791.9,206.3 1798.0,205.1C1801.4,204.5 1804.7,201.8 1808.0,199.1C1811.4,196.5 1814.7,191.7 1818.1,187.1C1821.4,182.5 1824.7,176.7 1828.1,171.1C1831.4,165.4 1834.7,159.1 1838.1,153.1C1841.4,147.1 1844.7,140.7 1848.1,135.1C1851.4,129.4 1854.8,123.7 1858.1,119.0C1860.8,115.3 1863.4,111.1 1866.1,109.0C1868.8,107.0 1871.4,105.3 1874.1,104.6C1876.4,104.0 1878.8,103.4 1881.1,103.4C1884.1,103.4 1887.1,104.3 1890.1,105.0C1894.1,105.9 1898.1,107.3 1902.1,109.0C1906.1,110.7 1910.1,113.4 1914.2,116.0C1918.2,118.7 1922.2,121.9 1926.2,125.1C1929.5,127.6 1932.8,130.8 1936.2,133.1C1939.5,135.3 1942.8,137.4 1946.2,139.1C1950.2,141.0 1954.2,142.6 1958.2,144.1C1962.2,145.6 1966.2,146.9 1970.2,148.1C1974.2,149.2 1978.2,150.1 1982.2,151.1C1986.2,152.1 1990.2,153.1 1994.2,154.1C1998.2,155.0 2002.2,156.3 2006.2,156.7C2010.2,157.1 2014.3,157.5 2018.3,157.5C2022.3,157.5 2026.3,156.9 2030.3,156.7C2033.6,156.5 2036.9,156.1 2040.3,156.1C2043.6,156.1 2047.0,156.7 2050.3,157.5C2053.6,158.2 2057.0,160.9 2060.3,163.1C2063.6,165.3 2067.0,168.4 2070.3,171.1C2074.3,174.4 2078.3,177.8 2082.3,181.1C2086.3,184.4 2090.3,188.2 2094.3,191.1C2098.3,194.1 2102.3,197.1 2106.3,199.1C2110.3,201.2 2114.4,203.2 2118.4,204.1C2123.6,205.4 2128.8,206.6 2134.0,206.7" fill="none" stroke="#333a80" stroke-width="2.3" stroke-linejoin="round" stroke-linecap="round"/>
<text x="1733.6" y="213.0" font-size="22.8" textLength="33.0" lengthAdjust="spacingAndGlyphs">0.0</text>
<text x="1733.6" y="189.2" font-size="22.8" textLength="33.0" lengthAdjust="spacingAndGlyphs">0.1</text>
<text x="1733.6" y="165.4" font-size="22.8" textLength="33.0" lengthAdjust="spacingAndGlyphs">0.2</text>
<text x="1733.6" y="141.6" font-size="22.8" textLength="33.0" lengthAdjust="spacingAndGlyphs">0.3</text>
<text x="1733.6" y="117.7" font-size="22.8" textLength="33.0" lengthAdjust="spacingAndGlyphs">0.4</text>
<text x="1763.0" y="232.0" font-size="22.8" textLength="27.0" lengthAdjust="spacingAndGlyphs">−2</text>
<text x="1839.1" y="232.0" font-size="22.8" textLength="27.0" lengthAdjust="spacingAndGlyphs">−1</text>
<text x="1920.6" y="232.0" font-size="22.8" textLength="13.2" lengthAdjust="spacingAndGlyphs">0</text>
<text x="1996.8" y="232.0" font-size="22.8" textLength="13.2" lengthAdjust="spacingAndGlyphs">1</text>
<text x="2073.1" y="232.0" font-size="22.8" textLength="13.2" lengthAdjust="spacingAndGlyphs">2</text>
<text x="2029.5" y="99.3" font-size="23.3">Factor 1</text>
<line x1="1767.0" y1="373.5" x2="2151.0" y2="373.5" stroke="#f1f1f4" stroke-width="1.0"/>
<line x1="1767.0" y1="353.1" x2="2151.0" y2="353.1" stroke="#f1f1f4" stroke-width="1.0"/>
<line x1="1767.0" y1="332.7" x2="2151.0" y2="332.7" stroke="#f1f1f4" stroke-width="1.0"/>
<line x1="1767.0" y1="312.3" x2="2151.0" y2="312.3" stroke="#f1f1f4" stroke-width="1.0"/>
<line x1="1767.0" y1="291.8" x2="2151.0" y2="291.8" stroke="#f1f1f4" stroke-width="1.0"/>
<line x1="1853.9" y1="275.0" x2="1853.9" y2="388.5" stroke="#f1f1f4" stroke-width="1.0"/>
<line x1="1972.4" y1="275.0" x2="1972.4" y2="388.5" stroke="#f1f1f4" stroke-width="1.0"/>
<line x1="2091.3" y1="275.0" x2="2091.3" y2="388.5" stroke="#f1f1f4" stroke-width="1.0"/>
<line x1="1767.0" y1="383.7" x2="2151.0" y2="383.7" stroke="#e9e9ed" stroke-width="1.5"/>
<line x1="1767.0" y1="363.3" x2="2151.0" y2="363.3" stroke="#e9e9ed" stroke-width="1.5"/>
<line x1="1767.0" y1="342.9" x2="2151.0" y2="342.9" stroke="#e9e9ed" stroke-width="1.5"/>
<line x1="1767.0" y1="322.5" x2="2151.0" y2="322.5" stroke="#e9e9ed" stroke-width="1.5"/>
<line x1="1767.0" y1="302.1" x2="2151.0" y2="302.1" stroke="#e9e9ed" stroke-width="1.5"/>
<line x1="1767.0" y1="281.6" x2="2151.0" y2="281.6" stroke="#e9e9ed" stroke-width="1.5"/>
<line x1="1794.4" y1="275.0" x2="1794.4" y2="388.5" stroke="#e9e9ed" stroke-width="1.5"/>
<line x1="1913.2" y1="275.0" x2="1913.2" y2="388.5" stroke="#e9e9ed" stroke-width="1.5"/>
<line x1="2031.9" y1="275.0" x2="2031.9" y2="388.5" stroke="#e9e9ed" stroke-width="1.5"/>
<line x1="2150.6" y1="275.0" x2="2150.6" y2="388.5" stroke="#e9e9ed" stroke-width="1.5"/>
<path d="M1779.6,383.7C1784.4,383.3 1789.2,381.3 1794.0,379.1C1798.0,377.3 1802.0,373.6 1806.0,370.1C1810.0,366.7 1814.1,362.1 1818.1,358.1C1822.1,354.1 1826.1,348.4 1830.1,346.1C1834.1,343.7 1838.1,341.4 1842.1,341.1C1846.1,340.7 1850.1,340.8 1854.1,340.5C1858.1,340.2 1862.1,339.2 1866.1,338.1C1870.1,336.9 1874.1,334.1 1878.1,332.1C1882.1,330.1 1886.1,328.2 1890.1,326.1C1894.1,323.9 1898.1,321.0 1902.1,319.1C1906.1,317.1 1910.1,315.9 1914.2,314.1C1917.5,312.5 1920.8,311.1 1924.2,309.1C1926.8,307.4 1929.5,304.5 1932.2,303.1C1934.8,301.6 1937.5,299.6 1940.2,299.6C1942.8,299.6 1945.5,300.3 1948.2,301.0C1950.9,301.8 1953.5,304.2 1956.2,306.1C1958.9,307.9 1961.5,310.2 1964.2,312.1C1966.9,313.9 1969.5,315.4 1972.2,317.1C1974.9,318.7 1977.5,319.8 1980.2,322.1C1982.9,324.3 1985.6,328.7 1988.2,332.1C1990.9,335.4 1993.6,339.1 1996.2,342.1C1999.6,345.8 2002.9,348.9 2006.2,352.1C2009.6,355.3 2012.9,358.5 2016.3,361.1C2020.3,364.2 2024.3,366.8 2028.3,369.1C2032.9,371.8 2037.6,374.6 2042.3,376.1C2047.6,377.9 2053.0,379.4 2058.3,380.1C2065.0,381.1 2071.6,381.8 2078.3,382.1C2096.9,383.0 2115.4,383.7 2134.0,383.7" fill="#5bd6e7" fill-opacity="0.4" stroke="#5bd6e7" stroke-width="2.3" stroke-linejoin="round" stroke-linecap="round"/>
<path d="M1779.6,383.7C1783.8,382.7 1787.9,380.5 1792.0,378.1C1795.4,376.2 1798.7,373.3 1802.0,370.1C1805.4,366.9 1808.7,362.1 1812.1,358.1C1815.4,354.1 1818.7,349.3 1822.1,346.1C1825.4,342.9 1828.7,339.7 1832.1,338.1C1836.1,336.2 1840.1,335.2 1844.1,334.1C1848.1,332.9 1852.1,332.3 1856.1,331.1C1860.1,329.8 1864.1,328.1 1868.1,326.1C1872.1,324.0 1876.1,321.0 1880.1,318.1C1884.1,315.1 1888.1,310.8 1892.1,308.1C1896.1,305.3 1900.1,302.9 1904.1,301.0C1907.5,299.5 1910.8,297.8 1914.2,297.0C1916.8,296.4 1919.5,295.6 1922.2,295.6C1924.8,295.6 1927.5,296.3 1930.2,297.0C1932.8,297.8 1935.5,300.6 1938.2,303.1C1940.8,305.5 1943.5,308.9 1946.2,312.1C1948.9,315.2 1951.5,318.7 1954.2,322.1C1956.9,325.4 1959.5,329.1 1962.2,332.1C1965.5,335.8 1968.9,338.8 1972.2,342.1C1975.5,345.4 1978.9,348.9 1982.2,352.1C1985.6,355.3 1988.9,358.4 1992.2,361.1C1996.2,364.4 2000.2,367.7 2004.2,370.1C2008.9,372.9 2013.6,375.6 2018.3,377.1C2023.6,378.9 2028.9,380.5 2034.3,381.1C2043.6,382.2 2053.0,383.0 2062.3,383.1C2086.2,383.5 2110.1,383.7 2134.0,383.7" fill="#ecd873" fill-opacity="0.3" stroke="#ecd873" stroke-width="2.3" stroke-linejoin="round" stroke-linecap="round"/>
<path d="M1779.6,383.7C1784.4,383.7 1789.2,382.0 1794.0,380.1C1798.0,378.6 1802.0,374.2 1806.0,370.1C1810.0,366.0 1814.1,359.4 1818.1,354.1C1822.1,348.8 1826.1,342.7 1830.1,338.1C1834.1,333.5 1838.1,329.5 1842.1,326.1C1846.1,322.6 1850.1,319.7 1854.1,317.1C1858.1,314.4 1862.1,312.4 1866.1,310.1C1870.1,307.7 1874.1,305.4 1878.1,303.1C1881.5,301.1 1884.8,298.6 1888.1,297.0C1891.5,295.4 1894.8,294.1 1898.1,293.0C1900.8,292.2 1903.5,291.0 1906.1,291.0C1908.8,291.0 1911.5,291.0 1914.2,291.0C1916.8,291.0 1919.5,292.2 1922.2,293.0C1924.8,293.9 1927.5,295.2 1930.2,297.0C1932.8,298.9 1935.5,302.9 1938.2,306.1C1940.8,309.2 1943.5,312.7 1946.2,316.1C1948.9,319.4 1951.5,322.7 1954.2,326.1C1956.9,329.4 1959.5,332.8 1962.2,336.1C1965.5,340.2 1968.9,344.5 1972.2,348.1C1975.5,351.7 1978.9,355.1 1982.2,358.1C1985.6,361.1 1988.9,363.7 1992.2,366.1C1996.2,369.0 2000.2,372.4 2004.2,374.1C2008.9,376.1 2013.6,377.5 2018.3,378.5C2023.6,379.7 2028.9,380.7 2034.3,381.1C2043.6,381.9 2053.0,382.5 2062.3,382.5C2072.3,382.5 2082.3,381.7 2092.3,381.7C2099.0,381.7 2105.7,382.9 2112.4,383.1C2119.6,383.4 2126.8,383.7 2134.0,383.7" fill="#f08a76" fill-opacity="0.32" stroke="#f08a76" stroke-width="2.3" stroke-linejoin="round" stroke-linecap="round"/>
<path d="M1779.6,383.7C1785.1,383.7 1790.6,381.9 1796.0,380.1C1800.0,378.8 1804.0,375.7 1808.0,373.1C1812.1,370.5 1816.1,367.5 1820.1,364.1C1824.1,360.7 1828.1,356.4 1832.1,352.1C1836.1,347.8 1840.1,341.2 1844.1,338.1C1847.4,335.5 1850.8,333.9 1854.1,332.1C1857.4,330.3 1860.8,329.2 1864.1,327.1C1866.8,325.4 1869.4,323.2 1872.1,320.1C1874.8,317.0 1877.4,309.9 1880.1,306.1C1882.8,302.2 1885.5,298.0 1888.1,296.0C1891.5,293.6 1894.8,292.0 1898.1,291.0C1901.5,290.1 1904.8,289.8 1908.1,289.0C1910.8,288.4 1913.5,287.4 1916.2,287.0C1918.2,286.8 1920.2,286.4 1922.2,286.4C1924.8,286.4 1927.5,287.8 1930.2,289.0C1932.8,290.2 1935.5,292.5 1938.2,295.0C1940.8,297.5 1943.5,301.6 1946.2,305.1C1948.9,308.5 1951.5,312.2 1954.2,316.1C1956.9,319.9 1959.5,324.4 1962.2,328.1C1964.9,331.7 1967.5,334.7 1970.2,338.1C1972.9,341.4 1975.5,344.8 1978.2,348.1C1981.6,352.2 1984.9,356.7 1988.2,360.1C1991.6,363.5 1994.9,366.7 1998.2,369.1C2002.2,372.0 2006.2,374.7 2010.2,376.1C2015.6,378.0 2020.9,379.4 2026.3,380.1C2032.9,381.1 2039.6,382.1 2046.3,382.1C2058.3,382.1 2070.3,382.1 2082.3,382.1C2089.0,382.1 2095.7,382.9 2102.3,383.1C2112.9,383.4 2123.4,383.7 2134.0,383.7" fill="#8a4f9a" fill-opacity="0.3" stroke="#8a4f9a" stroke-width="2.3" stroke-linejoin="round" stroke-linecap="round"/>
<path d="M1779.6,383.7C1785.1,383.7 1790.6,382.1 1796.0,380.5C1800.0,379.4 1804.0,376.5 1808.0,374.1C1812.1,371.7 1816.1,369.1 1820.1,366.1C1824.1,363.1 1828.1,360.2 1832.1,356.1C1836.1,352.0 1840.1,345.6 1844.1,340.1C1847.4,335.5 1850.8,330.7 1854.1,326.1C1857.4,321.4 1860.8,316.5 1864.1,312.1C1866.8,308.5 1869.4,304.1 1872.1,302.1C1874.8,300.0 1877.4,298.7 1880.1,297.6C1882.8,296.6 1885.5,296.3 1888.1,295.0C1890.8,293.8 1893.5,290.5 1896.1,288.0C1898.1,286.2 1900.1,283.2 1902.1,282.0C1904.1,280.9 1906.1,279.6 1908.1,279.6C1910.8,279.6 1913.5,280.7 1916.2,281.6C1918.8,282.6 1921.5,284.9 1924.2,287.0C1926.8,289.2 1929.5,292.0 1932.2,295.0C1934.8,298.1 1937.5,302.2 1940.2,306.1C1942.8,309.9 1945.5,314.1 1948.2,318.1C1950.9,322.1 1953.5,326.9 1956.2,330.1C1958.9,333.3 1961.5,335.3 1964.2,338.1C1966.9,340.9 1969.5,344.1 1972.2,347.1C1975.5,350.8 1978.9,354.6 1982.2,358.1C1985.6,361.6 1988.9,365.6 1992.2,368.1C1995.6,370.6 1998.9,372.7 2002.2,374.1C2006.2,375.9 2010.2,377.4 2014.3,378.1C2019.6,379.1 2024.9,379.6 2030.3,380.1C2036.9,380.8 2043.6,381.7 2050.3,381.7C2061.0,381.7 2071.6,381.7 2082.3,381.7C2089.0,381.7 2095.7,382.9 2102.3,383.1C2112.9,383.5 2123.4,383.7 2134.0,383.7" fill="#333a80" fill-opacity="0.28" stroke="#333a80" stroke-width="2.3" stroke-linejoin="round" stroke-linecap="round"/>
<text x="1733.6" y="389.2" font-size="22.8" textLength="33.0" lengthAdjust="spacingAndGlyphs">0.0</text>
<text x="1733.6" y="368.8" font-size="22.8" textLength="33.0" lengthAdjust="spacingAndGlyphs">0.1</text>
<text x="1733.6" y="348.4" font-size="22.8" textLength="33.0" lengthAdjust="spacingAndGlyphs">0.2</text>
<text x="1733.6" y="328.0" font-size="22.8" textLength="33.0" lengthAdjust="spacingAndGlyphs">0.3</text>
<text x="1733.6" y="307.6" font-size="22.8" textLength="33.0" lengthAdjust="spacingAndGlyphs">0.4</text>
<text x="1733.6" y="287.1" font-size="22.8" textLength="33.0" lengthAdjust="spacingAndGlyphs">0.5</text>
<text x="1784.4" y="408.2" font-size="22.8" textLength="27.0" lengthAdjust="spacingAndGlyphs">−2</text>
<text x="1908.6" y="408.2" font-size="22.8" textLength="13.2" lengthAdjust="spacingAndGlyphs">0</text>
<text x="2027.3" y="408.2" font-size="22.8" textLength="13.2" lengthAdjust="spacingAndGlyphs">2</text>
<text x="2146.0" y="408.2" font-size="22.8" textLength="13.2" lengthAdjust="spacingAndGlyphs">4</text>
<text x="2029.5" y="274.3" font-size="23.3">Factor 2</text>
<line x1="1767.0" y1="542.1" x2="2151.0" y2="542.1" stroke="#f1f1f4" stroke-width="1.0"/>
<line x1="1767.0" y1="505.7" x2="2151.0" y2="505.7" stroke="#f1f1f4" stroke-width="1.0"/>
<line x1="1767.0" y1="469.2" x2="2151.0" y2="469.2" stroke="#f1f1f4" stroke-width="1.0"/>
<line x1="1870.1" y1="451.6" x2="1870.1" y2="565.1" stroke="#f1f1f4" stroke-width="1.0"/>
<line x1="1983.4" y1="451.6" x2="1983.4" y2="565.1" stroke="#f1f1f4" stroke-width="1.0"/>
<line x1="2096.7" y1="451.6" x2="2096.7" y2="565.1" stroke="#f1f1f4" stroke-width="1.0"/>
<line x1="1767.0" y1="560.3" x2="2151.0" y2="560.3" stroke="#e9e9ed" stroke-width="1.5"/>
<line x1="1767.0" y1="523.9" x2="2151.0" y2="523.9" stroke="#e9e9ed" stroke-width="1.5"/>
<line x1="1767.0" y1="487.5" x2="2151.0" y2="487.5" stroke="#e9e9ed" stroke-width="1.5"/>
<line x1="1813.3" y1="451.6" x2="1813.3" y2="565.1" stroke="#e9e9ed" stroke-width="1.5"/>
<line x1="1926.8" y1="451.6" x2="1926.8" y2="565.1" stroke="#e9e9ed" stroke-width="1.5"/>
<line x1="2040.1" y1="451.6" x2="2040.1" y2="565.1" stroke="#e9e9ed" stroke-width="1.5"/>
<path d="M1779.6,560.3C1797.1,560.3 1814.6,560.3 1832.1,560.3C1837.4,560.3 1842.7,558.6 1848.1,557.1C1852.8,555.8 1857.4,553.6 1862.1,551.1C1866.1,549.0 1870.1,545.6 1874.1,543.1C1878.1,540.6 1882.1,538.6 1886.1,536.1C1890.1,533.6 1894.1,531.7 1898.1,528.1C1900.8,525.7 1903.5,522.0 1906.1,518.1C1908.8,514.2 1911.5,508.7 1914.2,504.1C1916.8,499.4 1919.5,494.0 1922.2,490.1C1924.8,486.2 1927.5,483.7 1930.2,480.1C1932.8,476.4 1935.5,471.8 1938.2,468.0C1940.2,465.2 1942.2,461.7 1944.2,460.0C1946.2,458.4 1948.2,456.4 1950.2,456.4C1952.2,456.4 1954.2,457.2 1956.2,457.6C1958.2,458.1 1960.2,458.8 1962.2,459.0C1964.2,459.3 1966.2,459.3 1968.2,459.6C1970.2,460.0 1972.2,461.4 1974.2,463.0C1976.2,464.7 1978.2,468.7 1980.2,472.0C1982.2,475.3 1984.2,479.6 1986.2,483.1C1988.9,487.7 1991.6,491.6 1994.2,496.1C1996.9,500.6 1999.6,505.1 2002.2,510.1C2004.9,515.1 2007.6,521.5 2010.2,526.1C2012.9,530.7 2015.6,535.3 2018.3,538.1C2021.6,541.6 2024.9,544.5 2028.3,546.1C2032.3,548.0 2036.3,548.8 2040.3,550.1C2044.3,551.5 2048.3,553.1 2052.3,554.1C2057.0,555.4 2061.6,556.4 2066.3,557.1C2071.6,558.0 2077.0,558.9 2082.3,559.1C2099.5,559.9 2116.8,560.3 2134.0,560.3" fill="#5bd6e7" fill-opacity="0.4" stroke="#5bd6e7" stroke-width="2.3" stroke-linejoin="round" stroke-linecap="round"/>
<path d="M1779.6,560.3C1790.4,560.3 1801.2,560.3 1812.1,560.3C1818.7,560.3 1825.4,558.6 1832.1,557.1C1836.7,556.1 1841.4,554.3 1846.1,552.1C1850.1,550.2 1854.1,547.1 1858.1,544.1C1862.1,541.2 1866.1,537.8 1870.1,534.1C1873.4,531.1 1876.8,528.0 1880.1,524.1C1883.5,520.2 1886.8,515.6 1890.1,510.1C1892.8,505.7 1895.5,498.6 1898.1,494.1C1900.8,489.5 1903.5,486.1 1906.1,482.1C1908.8,478.1 1911.5,473.1 1914.2,470.0C1916.8,466.9 1919.5,463.8 1922.2,462.4C1924.8,461.1 1927.5,460.4 1930.2,459.6C1932.8,458.9 1935.5,457.6 1938.2,457.6C1940.2,457.6 1942.2,457.8 1944.2,458.0C1946.2,458.3 1948.2,462.0 1950.2,464.0C1952.2,466.0 1954.2,468.0 1956.2,470.0C1958.2,472.0 1960.2,473.8 1962.2,476.0C1964.9,479.0 1967.5,482.2 1970.2,486.1C1972.9,490.0 1975.5,495.4 1978.2,500.1C1980.9,504.7 1983.6,509.8 1986.2,514.1C1988.9,518.4 1991.6,522.9 1994.2,526.1C1997.6,530.1 2000.9,533.6 2004.2,536.1C2008.2,539.1 2012.3,541.0 2016.3,543.1C2020.9,545.6 2025.6,548.3 2030.3,550.1C2035.6,552.2 2040.9,554.0 2046.3,555.1C2053.0,556.5 2059.6,557.7 2066.3,558.1C2088.9,559.5 2111.4,560.3 2134.0,560.3" fill="#ecd873" fill-opacity="0.3" stroke="#ecd873" stroke-width="2.3" stroke-linejoin="round" stroke-linecap="round"/>
<path d="M1779.6,560.3C1787.1,560.3 1794.6,559.3 1802.0,558.1C1807.4,557.3 1812.7,554.8 1818.1,552.1C1822.7,549.8 1827.4,546.3 1832.1,542.1C1836.1,538.5 1840.1,533.5 1844.1,528.1C1847.4,523.6 1850.8,517.4 1854.1,512.1C1857.4,506.7 1860.8,500.6 1864.1,496.1C1867.4,491.5 1870.8,487.3 1874.1,484.1C1877.4,480.9 1880.8,478.5 1884.1,476.0C1887.5,473.6 1890.8,471.0 1894.1,469.0C1896.8,467.5 1899.5,465.0 1902.1,465.0C1904.8,465.0 1907.5,465.2 1910.1,465.4C1912.8,465.7 1915.5,466.9 1918.2,468.0C1920.8,469.2 1923.5,471.2 1926.2,473.0C1928.8,474.9 1931.5,476.6 1934.2,479.1C1936.8,481.5 1939.5,485.0 1942.2,488.1C1945.5,491.9 1948.9,495.8 1952.2,500.1C1955.5,504.4 1958.9,509.4 1962.2,514.1C1965.5,518.8 1968.9,523.8 1972.2,528.1C1975.5,532.4 1978.9,536.8 1982.2,540.1C1986.2,544.1 1990.2,547.8 1994.2,550.1C1998.9,552.8 2003.6,555.0 2008.2,556.1C2014.3,557.6 2020.3,558.8 2026.3,559.1C2038.3,559.9 2050.3,560.3 2062.3,560.3C2086.2,560.3 2110.1,560.3 2134.0,560.3" fill="#f08a76" fill-opacity="0.32" stroke="#f08a76" stroke-width="2.3" stroke-linejoin="round" stroke-linecap="round"/>
<path d="M1779.6,560.3C1787.1,560.3 1794.6,559.5 1802.0,558.5C1807.4,557.8 1812.7,555.5 1818.1,553.1C1822.7,551.0 1827.4,548.0 1832.1,544.1C1836.1,540.8 1840.1,535.2 1844.1,530.1C1847.4,525.8 1850.8,520.4 1854.1,516.1C1857.4,511.8 1860.8,508.1 1864.1,504.1C1867.4,500.1 1870.8,495.9 1874.1,492.1C1877.4,488.2 1880.8,484.0 1884.1,481.1C1887.5,478.1 1890.8,475.1 1894.1,473.6C1896.8,472.5 1899.5,471.0 1902.1,471.0C1904.8,471.0 1907.5,471.3 1910.1,471.6C1913.5,472.0 1916.8,473.7 1920.2,475.0C1923.5,476.4 1926.8,477.8 1930.2,479.7C1932.8,481.1 1935.5,482.8 1938.2,485.1C1940.8,487.3 1943.5,491.0 1946.2,494.1C1949.5,497.9 1952.9,501.8 1956.2,506.1C1959.5,510.4 1962.9,515.8 1966.2,520.1C1969.5,524.4 1972.9,528.5 1976.2,532.1C1979.6,535.7 1982.9,539.6 1986.2,542.1C1990.2,545.1 1994.2,547.4 1998.2,549.1C2002.9,551.1 2007.6,552.6 2012.3,553.7C2018.3,555.2 2024.3,556.5 2030.3,557.1C2037.6,557.8 2044.9,558.3 2052.3,558.5C2062.3,558.8 2072.3,558.9 2082.3,559.1C2099.5,559.5 2116.8,559.9 2134.0,560.3" fill="#8a4f9a" fill-opacity="0.3" stroke="#8a4f9a" stroke-width="2.3" stroke-linejoin="round" stroke-linecap="round"/>
<path d="M1779.6,560.3C1783.8,560.3 1787.9,559.2 1792.0,558.1C1796.0,557.1 1800.0,554.6 1804.0,552.1C1808.0,549.6 1812.1,545.8 1816.1,542.1C1820.1,538.5 1824.1,534.1 1828.1,530.1C1832.1,526.1 1836.1,522.1 1840.1,518.1C1844.1,514.1 1848.1,509.0 1852.1,506.1C1856.1,503.1 1860.1,500.3 1864.1,499.1C1868.1,497.8 1872.1,496.7 1876.1,496.5C1880.1,496.2 1884.1,496.2 1888.1,496.1C1892.1,495.9 1896.1,495.9 1900.1,495.7C1903.5,495.5 1906.8,494.5 1910.1,494.5C1913.5,494.5 1916.8,495.4 1920.2,496.1C1924.2,496.8 1928.2,498.0 1932.2,499.1C1935.5,500.0 1938.8,500.8 1942.2,502.1C1945.5,503.3 1948.9,505.3 1952.2,507.1C1955.5,508.9 1958.9,511.3 1962.2,513.1C1965.5,514.9 1968.9,516.0 1972.2,518.1C1975.5,520.1 1978.9,523.4 1982.2,526.1C1985.6,528.8 1988.9,531.8 1992.2,534.1C1995.6,536.4 1998.9,538.3 2002.2,540.1C2006.2,542.3 2010.2,544.3 2014.3,546.1C2018.9,548.3 2023.6,550.6 2028.3,552.1C2032.9,553.6 2037.6,554.9 2042.3,555.7C2049.0,556.8 2055.6,557.7 2062.3,558.1C2072.3,558.8 2082.3,559.3 2092.3,559.5C2106.2,559.9 2120.1,560.3 2134.0,560.3" fill="#333a80" fill-opacity="0.28" stroke="#333a80" stroke-width="2.3" stroke-linejoin="round" stroke-linecap="round"/>
<text x="1733.6" y="565.8" font-size="22.8" textLength="33.0" lengthAdjust="spacingAndGlyphs">0.0</text>
<text x="1733.6" y="529.4" font-size="22.8" textLength="33.0" lengthAdjust="spacingAndGlyphs">0.2</text>
<text x="1733.6" y="493.0" font-size="22.8" textLength="33.0" lengthAdjust="spacingAndGlyphs">0.4</text>
<text x="1803.2" y="584.8" font-size="22.8" textLength="27.0" lengthAdjust="spacingAndGlyphs">−2</text>
<text x="1922.2" y="584.8" font-size="22.8" textLength="13.2" lengthAdjust="spacingAndGlyphs">0</text>
<text x="2035.5" y="584.8" font-size="22.8" textLength="13.2" lengthAdjust="spacingAndGlyphs">2</text>
<text x="2029.5" y="451.2" font-size="23.3">Factor 3</text>
<text x="2029.5" y="479.9" font-size="23.3">(sustained</text>
<text x="2029.5" y="508.6" font-size="23.3">resp. I)</text>
<line x1="1767.0" y1="720.7" x2="2151.0" y2="720.7" stroke="#f1f1f4" stroke-width="1.0"/>
<line x1="1767.0" y1="688.3" x2="2151.0" y2="688.3" stroke="#f1f1f4" stroke-width="1.0"/>
<line x1="1767.0" y1="656.1" x2="2151.0" y2="656.1" stroke="#f1f1f4" stroke-width="1.0"/>
<line x1="1773.4" y1="628.0" x2="1773.4" y2="741.7" stroke="#f1f1f4" stroke-width="1.0"/>
<line x1="1878.9" y1="628.0" x2="1878.9" y2="741.7" stroke="#f1f1f4" stroke-width="1.0"/>
<line x1="1984.4" y1="628.0" x2="1984.4" y2="741.7" stroke="#f1f1f4" stroke-width="1.0"/>
<line x1="2090.1" y1="628.0" x2="2090.1" y2="741.7" stroke="#f1f1f4" stroke-width="1.0"/>
<line x1="1767.0" y1="736.9" x2="2151.0" y2="736.9" stroke="#e9e9ed" stroke-width="1.5"/>
<line x1="1767.0" y1="704.5" x2="2151.0" y2="704.5" stroke="#e9e9ed" stroke-width="1.5"/>
<line x1="1767.0" y1="672.3" x2="2151.0" y2="672.3" stroke="#e9e9ed" stroke-width="1.5"/>
<line x1="1767.0" y1="639.8" x2="2151.0" y2="639.8" stroke="#e9e9ed" stroke-width="1.5"/>
<line x1="1826.1" y1="628.0" x2="1826.1" y2="741.7" stroke="#e9e9ed" stroke-width="1.5"/>
<line x1="1931.8" y1="628.0" x2="1931.8" y2="741.7" stroke="#e9e9ed" stroke-width="1.5"/>
<line x1="2037.3" y1="628.0" x2="2037.3" y2="741.7" stroke="#e9e9ed" stroke-width="1.5"/>
<line x1="2142.8" y1="628.0" x2="2142.8" y2="741.7" stroke="#e9e9ed" stroke-width="1.5"/>
<path d="M1779.6,736.9C1783.8,736.6 1787.9,735.4 1792.0,734.1C1796.0,732.9 1800.0,730.7 1804.0,728.1C1808.0,725.5 1812.1,721.2 1816.1,717.1C1820.1,713.0 1824.1,708.1 1828.1,703.1C1832.1,698.1 1836.1,692.7 1840.1,687.1C1844.1,681.4 1848.1,674.3 1852.1,669.1C1856.1,663.8 1860.1,659.1 1864.1,655.1C1867.4,651.7 1870.8,647.9 1874.1,646.0C1876.8,644.5 1879.5,642.6 1882.1,642.6C1884.8,642.6 1887.5,643.0 1890.1,643.4C1892.8,643.9 1895.5,646.1 1898.1,648.0C1900.8,650.0 1903.5,653.0 1906.1,656.1C1908.8,659.1 1911.5,663.2 1914.2,667.1C1916.8,670.9 1919.5,675.1 1922.2,679.1C1924.8,683.1 1927.5,686.8 1930.2,691.1C1932.8,695.4 1935.5,700.4 1938.2,705.1C1940.8,709.8 1943.5,715.5 1946.2,719.1C1948.9,722.8 1951.5,726.0 1954.2,728.1C1957.5,730.8 1960.9,733.2 1964.2,734.1C1968.9,735.4 1973.5,736.4 1978.2,736.5C1986.2,736.8 1994.2,736.9 2002.2,736.9C2046.2,736.9 2090.1,736.9 2134.0,736.9" fill="#5bd6e7" fill-opacity="0.4" stroke="#5bd6e7" stroke-width="2.3" stroke-linejoin="round" stroke-linecap="round"/>
<path d="M1779.6,736.9C1797.1,736.9 1814.6,736.9 1832.1,736.9C1838.7,736.9 1845.4,735.8 1852.1,734.7C1857.4,733.9 1862.8,732.2 1868.1,730.1C1872.8,728.3 1877.4,725.4 1882.1,722.1C1886.1,719.3 1890.1,715.5 1894.1,711.1C1898.1,706.8 1902.1,700.4 1906.1,695.1C1910.1,689.8 1914.2,684.5 1918.2,679.1C1921.5,674.5 1924.8,669.9 1928.2,665.1C1930.8,661.2 1933.5,657.3 1936.2,653.0C1938.2,649.9 1940.2,646.0 1942.2,643.0C1944.2,640.1 1946.2,636.3 1948.2,635.0C1950.2,633.8 1952.2,632.6 1954.2,632.6C1956.2,632.6 1958.2,633.9 1960.2,635.0C1962.2,636.2 1964.2,639.0 1966.2,641.0C1968.2,643.0 1970.2,644.9 1972.2,647.0C1974.2,649.2 1976.2,651.2 1978.2,654.0C1980.2,656.9 1982.2,661.2 1984.2,665.1C1986.2,668.9 1988.2,673.1 1990.2,677.1C1992.2,681.1 1994.2,685.1 1996.2,689.1C1998.2,693.1 2000.2,697.3 2002.2,701.1C2004.9,706.1 2007.6,711.5 2010.2,715.1C2012.9,718.8 2015.6,722.0 2018.3,724.1C2021.6,726.8 2024.9,728.8 2028.3,730.1C2032.9,732.0 2037.6,733.3 2042.3,734.1C2049.0,735.3 2055.6,736.4 2062.3,736.5C2072.3,736.8 2082.3,736.9 2092.3,736.9C2106.2,736.9 2120.1,736.9 2134.0,736.9" fill="#ecd873" fill-opacity="0.3" stroke="#ecd873" stroke-width="2.3" stroke-linejoin="round" stroke-linecap="round"/>
<path d="M1779.6,736.9C1790.4,736.9 1801.2,736.9 1812.1,736.9C1818.7,736.9 1825.4,735.6 1832.1,734.1C1836.7,733.1 1841.4,730.9 1846.1,728.1C1850.1,725.8 1854.1,721.6 1858.1,717.1C1861.4,713.4 1864.8,707.8 1868.1,703.1C1871.4,698.4 1874.8,693.5 1878.1,689.1C1880.8,685.6 1883.5,682.4 1886.1,679.1C1888.8,675.7 1891.5,672.4 1894.1,669.1C1896.8,665.7 1899.5,662.7 1902.1,659.1C1904.8,655.4 1907.5,649.9 1910.1,647.0C1912.2,644.9 1914.2,642.4 1916.2,642.0C1918.2,641.7 1920.2,641.4 1922.2,641.4C1924.2,641.4 1926.2,642.6 1928.2,642.6C1930.2,642.6 1932.2,641.4 1934.2,641.4C1936.2,641.4 1938.2,642.7 1940.2,644.0C1942.2,645.4 1944.2,649.9 1946.2,653.0C1948.2,656.2 1950.2,659.4 1952.2,663.1C1954.2,666.7 1956.2,670.8 1958.2,675.1C1960.2,679.4 1962.2,684.4 1964.2,689.1C1966.2,693.8 1968.2,700.2 1970.2,703.1C1972.9,706.9 1975.5,708.4 1978.2,711.1C1980.9,713.8 1983.6,716.7 1986.2,719.1C1989.6,722.1 1992.9,725.3 1996.2,727.1C2000.2,729.3 2004.2,731.1 2008.2,732.1C2013.6,733.5 2018.9,734.6 2024.3,735.1C2033.6,736.1 2042.9,736.9 2052.3,736.9C2079.5,736.9 2106.7,736.9 2134.0,736.9" fill="#f08a76" fill-opacity="0.32" stroke="#f08a76" stroke-width="2.3" stroke-linejoin="round" stroke-linecap="round"/>
<path d="M1779.6,736.9C1790.4,736.9 1801.2,736.9 1812.1,736.9C1819.4,736.9 1826.7,736.0 1834.1,734.7C1838.7,733.9 1843.4,731.7 1848.1,729.1C1852.1,726.9 1856.1,723.1 1860.1,719.1C1863.4,715.8 1866.8,711.1 1870.1,707.1C1873.4,703.1 1876.8,699.2 1880.1,695.1C1882.8,691.8 1885.5,688.7 1888.1,685.1C1890.8,681.4 1893.5,677.4 1896.1,673.1C1898.8,668.8 1901.5,662.7 1904.1,659.1C1906.8,655.4 1909.5,651.5 1912.2,650.0C1914.8,648.5 1917.5,647.5 1920.2,647.0C1922.8,646.5 1925.5,646.5 1928.2,646.0C1930.8,645.6 1933.5,644.0 1936.2,644.0C1938.2,644.0 1940.2,644.5 1942.2,645.0C1944.2,645.6 1946.2,648.8 1948.2,651.0C1950.2,653.3 1952.2,655.9 1954.2,659.1C1956.2,662.3 1958.2,666.8 1960.2,671.1C1962.2,675.4 1964.2,681.0 1966.2,685.1C1968.9,690.5 1971.5,695.2 1974.2,699.1C1976.9,703.0 1979.6,706.1 1982.2,709.1C1984.9,712.1 1987.6,714.7 1990.2,717.1C1993.6,720.1 1996.9,723.1 2000.2,725.1C2004.2,727.6 2008.2,729.9 2012.3,731.1C2017.6,732.8 2022.9,734.1 2028.3,734.7C2036.3,735.7 2044.3,736.3 2052.3,736.5C2062.3,736.8 2072.3,736.9 2082.3,736.9C2099.5,736.9 2116.8,736.9 2134.0,736.9" fill="#8a4f9a" fill-opacity="0.3" stroke="#8a4f9a" stroke-width="2.3" stroke-linejoin="round" stroke-linecap="round"/>
<path d="M1779.6,736.9C1793.8,736.9 1807.9,736.7 1822.1,736.1C1828.7,735.9 1835.4,734.6 1842.1,733.1C1847.4,732.0 1852.8,729.7 1858.1,727.1C1862.8,724.9 1867.4,721.4 1872.1,718.1C1876.1,715.3 1880.1,712.3 1884.1,709.1C1888.1,705.9 1892.1,702.3 1896.1,699.1C1900.1,695.9 1904.1,691.7 1908.1,690.1C1912.2,688.4 1916.2,687.3 1920.2,686.7C1924.2,686.1 1928.2,685.9 1932.2,685.5C1936.2,685.0 1940.2,684.6 1944.2,684.1C1947.5,683.7 1950.9,682.7 1954.2,682.7C1957.5,682.7 1960.9,683.5 1964.2,684.1C1968.2,684.8 1972.2,686.7 1976.2,686.7C1980.2,686.7 1984.2,686.7 1988.2,686.7C1992.2,686.7 1996.2,688.0 2000.2,689.1C2004.2,690.2 2008.2,692.5 2012.3,694.1C2016.3,695.7 2020.3,697.2 2024.3,698.7C2028.3,700.2 2032.3,701.2 2036.3,703.1C2040.3,705.0 2044.3,708.4 2048.3,711.1C2052.3,713.8 2056.3,716.6 2060.3,719.1C2064.3,721.6 2068.3,724.3 2072.3,726.1C2077.0,728.2 2081.7,729.8 2086.3,731.1C2091.7,732.6 2097.0,734.0 2102.3,734.7C2107.7,735.5 2113.0,736.0 2118.4,736.3C2123.6,736.6 2128.8,736.9 2134.0,736.9" fill="#333a80" fill-opacity="0.28" stroke="#333a80" stroke-width="2.3" stroke-linejoin="round" stroke-linecap="round"/>
<text x="1733.6" y="742.4" font-size="22.8" textLength="33.0" lengthAdjust="spacingAndGlyphs">0.0</text>
<text x="1733.6" y="710.0" font-size="22.8" textLength="33.0" lengthAdjust="spacingAndGlyphs">0.2</text>
<text x="1733.6" y="677.8" font-size="22.8" textLength="33.0" lengthAdjust="spacingAndGlyphs">0.4</text>
<text x="1733.6" y="645.3" font-size="22.8" textLength="33.0" lengthAdjust="spacingAndGlyphs">0.6</text>
<text x="1816.0" y="761.4" font-size="22.8" textLength="27.0" lengthAdjust="spacingAndGlyphs">−2</text>
<text x="1927.2" y="761.4" font-size="22.8" textLength="13.2" lengthAdjust="spacingAndGlyphs">0</text>
<text x="2032.7" y="761.4" font-size="22.8" textLength="13.2" lengthAdjust="spacingAndGlyphs">2</text>
<text x="2138.2" y="761.4" font-size="22.8" textLength="13.2" lengthAdjust="spacingAndGlyphs">4</text>
<text x="2029.5" y="628.0" font-size="23.3">Factor 4</text>
<line x1="1767.0" y1="899.9" x2="2151.0" y2="899.9" stroke="#f1f1f4" stroke-width="1.0"/>
<line x1="1767.0" y1="866.3" x2="2151.0" y2="866.3" stroke="#f1f1f4" stroke-width="1.0"/>
<line x1="1767.0" y1="832.6" x2="2151.0" y2="832.6" stroke="#f1f1f4" stroke-width="1.0"/>
<line x1="1769.6" y1="808.0" x2="1769.6" y2="921.5" stroke="#f1f1f4" stroke-width="1.0"/>
<line x1="1882.3" y1="808.0" x2="1882.3" y2="921.5" stroke="#f1f1f4" stroke-width="1.0"/>
<line x1="1994.8" y1="808.0" x2="1994.8" y2="921.5" stroke="#f1f1f4" stroke-width="1.0"/>
<line x1="2107.3" y1="808.0" x2="2107.3" y2="921.5" stroke="#f1f1f4" stroke-width="1.0"/>
<line x1="1767.0" y1="916.7" x2="2151.0" y2="916.7" stroke="#e9e9ed" stroke-width="1.5"/>
<line x1="1767.0" y1="883.1" x2="2151.0" y2="883.1" stroke="#e9e9ed" stroke-width="1.5"/>
<line x1="1767.0" y1="849.5" x2="2151.0" y2="849.5" stroke="#e9e9ed" stroke-width="1.5"/>
<line x1="1767.0" y1="815.8" x2="2151.0" y2="815.8" stroke="#e9e9ed" stroke-width="1.5"/>
<line x1="1826.1" y1="808.0" x2="1826.1" y2="921.5" stroke="#e9e9ed" stroke-width="1.5"/>
<line x1="1938.6" y1="808.0" x2="1938.6" y2="921.5" stroke="#e9e9ed" stroke-width="1.5"/>
<line x1="2051.1" y1="808.0" x2="2051.1" y2="921.5" stroke="#e9e9ed" stroke-width="1.5"/>
<path d="M1779.6,916.7C1787.1,916.7 1794.6,915.8 1802.0,914.7C1808.7,913.8 1815.4,911.5 1822.1,909.1C1827.4,907.2 1832.7,904.5 1838.1,901.1C1842.1,898.6 1846.1,895.3 1850.1,891.1C1853.4,887.6 1856.8,882.1 1860.1,877.1C1863.4,872.1 1866.8,866.4 1870.1,861.1C1873.4,855.7 1876.8,849.8 1880.1,845.1C1883.5,840.3 1886.8,836.3 1890.1,832.0C1892.8,828.6 1895.5,825.3 1898.1,822.0C1900.1,819.6 1902.1,816.3 1904.1,815.0C1906.1,813.8 1908.1,812.4 1910.1,812.4C1912.2,812.4 1914.2,812.7 1916.2,813.0C1918.2,813.4 1920.2,816.5 1922.2,819.0C1924.2,821.5 1926.2,825.7 1928.2,829.0C1930.2,832.4 1932.2,835.9 1934.2,839.1C1936.8,843.3 1939.5,846.8 1942.2,851.1C1944.8,855.4 1947.5,860.8 1950.2,865.1C1952.9,869.4 1955.5,873.5 1958.2,877.1C1961.5,881.6 1964.9,885.7 1968.2,889.1C1971.5,892.5 1974.9,895.7 1978.2,898.1C1982.2,901.0 1986.2,903.3 1990.2,905.1C1994.9,907.2 1999.6,908.9 2004.2,910.1C2010.2,911.7 2016.3,913.0 2022.3,913.7C2030.3,914.7 2038.3,915.4 2046.3,915.7C2058.3,916.2 2070.3,916.7 2082.3,916.7C2099.5,916.7 2116.8,916.7 2134.0,916.7" fill="#5bd6e7" fill-opacity="0.4" stroke="#5bd6e7" stroke-width="2.3" stroke-linejoin="round" stroke-linecap="round"/>
<path d="M1779.6,916.7C1785.8,916.4 1791.9,915.3 1798.0,914.1C1803.4,913.1 1808.7,911.1 1814.1,909.1C1819.4,907.2 1824.7,904.7 1830.1,902.1C1835.4,899.5 1840.7,896.7 1846.1,893.1C1850.1,890.4 1854.1,887.2 1858.1,883.1C1862.1,879.0 1866.1,872.7 1870.1,867.1C1874.1,861.4 1878.1,854.4 1882.1,849.1C1885.5,844.6 1888.8,840.5 1892.1,837.1C1895.5,833.6 1898.8,830.2 1902.1,828.0C1904.8,826.3 1907.5,824.5 1910.1,824.0C1912.2,823.7 1914.2,823.4 1916.2,823.4C1918.2,823.4 1920.2,824.2 1922.2,825.0C1924.2,825.9 1926.2,828.7 1928.2,831.0C1930.8,834.2 1933.5,839.1 1936.2,843.1C1938.8,847.1 1941.5,851.1 1944.2,855.1C1946.9,859.1 1949.5,863.5 1952.2,867.1C1955.5,871.5 1958.9,875.5 1962.2,879.1C1965.5,882.7 1968.9,886.2 1972.2,889.1C1976.2,892.6 1980.2,895.7 1984.2,898.1C1988.9,900.9 1993.6,903.2 1998.2,905.1C2003.6,907.3 2008.9,909.5 2014.3,910.7C2020.9,912.3 2027.6,913.4 2034.3,914.1C2043.6,915.1 2053.0,916.0 2062.3,916.1C2086.2,916.5 2110.1,916.7 2134.0,916.7" fill="#ecd873" fill-opacity="0.3" stroke="#ecd873" stroke-width="2.3" stroke-linejoin="round" stroke-linecap="round"/>
<path d="M1779.6,916.7C1790.4,916.7 1801.2,916.7 1812.1,916.7C1820.7,916.7 1829.4,915.6 1838.1,914.1C1843.4,913.2 1848.8,910.6 1854.1,908.1C1858.1,906.3 1862.1,903.9 1866.1,901.1C1870.1,898.4 1874.1,895.1 1878.1,891.1C1881.5,887.8 1884.8,883.4 1888.1,879.1C1891.5,874.8 1894.8,870.3 1898.1,865.1C1900.8,860.9 1903.5,855.0 1906.1,851.1C1908.8,847.2 1911.5,844.7 1914.2,841.1C1916.8,837.4 1919.5,832.5 1922.2,829.0C1924.8,825.6 1927.5,822.1 1930.2,820.0C1932.2,818.5 1934.2,816.9 1936.2,816.4C1938.2,816.0 1940.2,815.6 1942.2,815.6C1944.2,815.6 1946.2,816.9 1948.2,818.0C1950.2,819.2 1952.2,821.6 1954.2,824.0C1956.2,826.4 1958.2,830.0 1960.2,833.0C1962.9,837.1 1965.5,841.5 1968.2,845.1C1971.5,849.5 1974.9,853.1 1978.2,857.1C1981.6,861.1 1984.9,864.8 1988.2,869.1C1991.6,873.4 1994.9,879.0 1998.2,883.1C2001.6,887.2 2004.9,891.1 2008.2,894.1C2012.3,897.7 2016.3,900.9 2020.3,903.1C2024.9,905.7 2029.6,907.6 2034.3,909.1C2039.6,910.8 2044.9,912.3 2050.3,913.1C2058.3,914.3 2066.3,915.0 2074.3,915.5C2083.7,916.1 2093.0,916.7 2102.3,916.7C2112.9,916.7 2123.4,916.7 2134.0,916.7" fill="#f08a76" fill-opacity="0.32" stroke="#f08a76" stroke-width="2.3" stroke-linejoin="round" stroke-linecap="round"/>
<path d="M1779.6,916.7C1790.4,916.7 1801.2,916.7 1812.1,916.7C1820.7,916.7 1829.4,914.9 1838.1,913.1C1843.4,912.0 1848.8,909.9 1854.1,907.1C1858.1,905.0 1862.1,901.0 1866.1,897.1C1870.1,893.2 1874.1,887.8 1878.1,883.1C1881.5,879.1 1884.8,875.1 1888.1,871.1C1891.5,867.1 1894.8,863.5 1898.1,859.1C1900.8,855.5 1903.5,850.7 1906.1,847.1C1908.8,843.4 1911.5,840.0 1914.2,837.1C1916.8,834.1 1919.5,831.2 1922.2,829.0C1924.2,827.5 1926.2,825.5 1928.2,825.0C1929.8,824.6 1931.5,824.2 1933.2,824.2C1935.5,824.2 1937.8,826.2 1940.2,827.0C1942.8,828.0 1945.5,828.4 1948.2,829.4C1950.2,830.3 1952.2,831.5 1954.2,833.0C1956.2,834.5 1958.2,836.7 1960.2,839.1C1962.9,842.2 1965.5,847.4 1968.2,851.1C1970.9,854.7 1973.5,857.7 1976.2,861.1C1978.9,864.4 1981.6,867.7 1984.2,871.1C1986.9,874.4 1989.6,878.1 1992.2,881.1C1995.6,884.8 1998.9,888.4 2002.2,891.1C2005.6,893.9 2008.9,896.4 2012.3,898.1C2016.3,900.2 2020.3,901.4 2024.3,903.1C2028.9,905.1 2033.6,907.7 2038.3,909.1C2043.6,910.7 2049.0,912.0 2054.3,912.7C2061.0,913.7 2067.6,914.3 2074.3,914.7C2083.7,915.4 2093.0,915.9 2102.3,916.1C2112.9,916.4 2123.4,916.7 2134.0,916.7" fill="#8a4f9a" fill-opacity="0.3" stroke="#8a4f9a" stroke-width="2.3" stroke-linejoin="round" stroke-linecap="round"/>
<path d="M1779.6,916.7C1797.1,916.7 1814.6,916.5 1832.1,916.1C1839.4,916.0 1846.8,915.4 1854.1,914.7C1859.4,914.2 1864.8,913.2 1870.1,912.1C1874.8,911.2 1879.5,909.7 1884.1,908.1C1888.8,906.5 1893.5,904.3 1898.1,902.1C1902.1,900.3 1906.1,898.9 1910.1,896.1C1913.5,893.8 1916.8,889.6 1920.2,885.1C1922.8,881.5 1925.5,875.4 1928.2,871.1C1930.8,866.8 1933.5,862.3 1936.2,859.1C1938.8,855.9 1941.5,853.4 1944.2,851.1C1946.9,848.8 1949.5,847.1 1952.2,845.1C1954.9,843.1 1957.5,841.0 1960.2,839.1C1962.2,837.6 1964.2,835.6 1966.2,834.6C1968.2,833.7 1970.2,832.4 1972.2,832.4C1974.2,832.4 1976.2,833.1 1978.2,833.6C1980.9,834.4 1983.6,836.9 1986.2,838.1C1988.9,839.2 1991.6,839.9 1994.2,841.1C1996.9,842.2 1999.6,843.3 2002.2,845.1C2004.9,846.8 2007.6,850.1 2010.2,853.1C2012.9,856.0 2015.6,860.1 2018.3,863.1C2020.9,866.0 2023.6,868.9 2026.3,871.1C2029.6,873.9 2032.9,875.9 2036.3,878.1C2039.6,880.2 2042.9,882.1 2046.3,884.1C2050.3,886.5 2054.3,888.6 2058.3,891.1C2062.3,893.6 2066.3,896.6 2070.3,899.1C2074.3,901.6 2078.3,904.3 2082.3,906.1C2087.0,908.3 2091.7,910.2 2096.3,911.5C2101.0,912.9 2105.7,914.0 2110.3,914.7C2114.4,915.3 2118.4,915.8 2122.4,916.1C2126.2,916.4 2130.1,916.7 2134.0,916.7" fill="#333a80" fill-opacity="0.28" stroke="#333a80" stroke-width="2.3" stroke-linejoin="round" stroke-linecap="round"/>
<text x="1733.6" y="922.2" font-size="22.8" textLength="33.0" lengthAdjust="spacingAndGlyphs">0.0</text>
<text x="1733.6" y="888.6" font-size="22.8" textLength="33.0" lengthAdjust="spacingAndGlyphs">0.2</text>
<text x="1733.6" y="855.0" font-size="22.8" textLength="33.0" lengthAdjust="spacingAndGlyphs">0.4</text>
<text x="1733.6" y="821.3" font-size="22.8" textLength="33.0" lengthAdjust="spacingAndGlyphs">0.6</text>
<text x="1816.0" y="941.2" font-size="22.8" textLength="27.0" lengthAdjust="spacingAndGlyphs">−2</text>
<text x="1934.0" y="941.2" font-size="22.8" textLength="13.2" lengthAdjust="spacingAndGlyphs">0</text>
<text x="2046.5" y="941.2" font-size="22.8" textLength="13.2" lengthAdjust="spacingAndGlyphs">2</text>
<text x="2029.5" y="804.1" font-size="23.3">Factor 5</text>
<text x="2029.5" y="832.8" font-size="23.3">(sustained</text>
<text x="2029.5" y="861.5" font-size="23.3">resp. II)</text>
<line x1="1767.0" y1="1077.1" x2="2151.0" y2="1077.1" stroke="#f1f1f4" stroke-width="1.0"/>
<line x1="1767.0" y1="1038.7" x2="2151.0" y2="1038.7" stroke="#f1f1f4" stroke-width="1.0"/>
<line x1="1767.0" y1="1000.2" x2="2151.0" y2="1000.2" stroke="#f1f1f4" stroke-width="1.0"/>
<line x1="1769.6" y1="987.6" x2="1769.6" y2="1101.1" stroke="#f1f1f4" stroke-width="1.0"/>
<line x1="1881.5" y1="987.6" x2="1881.5" y2="1101.1" stroke="#f1f1f4" stroke-width="1.0"/>
<line x1="1993.6" y1="987.6" x2="1993.6" y2="1101.1" stroke="#f1f1f4" stroke-width="1.0"/>
<line x1="2105.5" y1="987.6" x2="2105.5" y2="1101.1" stroke="#f1f1f4" stroke-width="1.0"/>
<line x1="1767.0" y1="1096.3" x2="2151.0" y2="1096.3" stroke="#e9e9ed" stroke-width="1.5"/>
<line x1="1767.0" y1="1057.9" x2="2151.0" y2="1057.9" stroke="#e9e9ed" stroke-width="1.5"/>
<line x1="1767.0" y1="1019.5" x2="2151.0" y2="1019.5" stroke="#e9e9ed" stroke-width="1.5"/>
<line x1="1825.7" y1="987.6" x2="1825.7" y2="1101.1" stroke="#e9e9ed" stroke-width="1.5"/>
<line x1="1937.6" y1="987.6" x2="1937.6" y2="1101.1" stroke="#e9e9ed" stroke-width="1.5"/>
<line x1="2049.5" y1="987.6" x2="2049.5" y2="1101.1" stroke="#e9e9ed" stroke-width="1.5"/>
<path d="M1779.6,1096.3C1787.1,1096.3 1794.6,1095.8 1802.0,1095.1C1808.7,1094.6 1815.4,1093.1 1822.1,1091.1C1827.4,1089.6 1832.7,1086.6 1838.1,1083.1C1842.7,1080.1 1847.4,1075.0 1852.1,1070.1C1856.1,1066.0 1860.1,1061.1 1864.1,1056.1C1868.1,1051.1 1872.1,1045.1 1876.1,1040.1C1880.1,1035.1 1884.1,1030.7 1888.1,1026.1C1892.1,1021.4 1896.1,1016.6 1900.1,1012.0C1903.5,1008.3 1906.8,1004.0 1910.1,1001.0C1912.8,998.7 1915.5,996.2 1918.2,995.0C1920.8,993.9 1923.5,992.6 1926.2,992.6C1928.8,992.6 1931.5,993.3 1934.2,994.0C1936.8,994.8 1939.5,997.5 1942.2,1000.0C1944.8,1002.5 1947.5,1006.4 1950.2,1010.0C1952.9,1013.7 1955.5,1018.1 1958.2,1022.1C1960.9,1026.1 1963.5,1030.5 1966.2,1034.1C1969.5,1038.5 1972.9,1042.3 1976.2,1046.1C1979.6,1049.9 1982.9,1053.4 1986.2,1057.1C1989.6,1060.8 1992.9,1064.9 1996.2,1068.1C2000.2,1071.9 2004.2,1075.4 2008.2,1078.1C2012.9,1081.3 2017.6,1084.0 2022.3,1086.1C2027.6,1088.6 2032.9,1091.0 2038.3,1092.1C2044.9,1093.6 2051.6,1094.6 2058.3,1095.1C2066.3,1095.7 2074.3,1096.3 2082.3,1096.3C2099.5,1096.3 2116.8,1096.3 2134.0,1096.3" fill="#5bd6e7" fill-opacity="0.4" stroke="#5bd6e7" stroke-width="2.3" stroke-linejoin="round" stroke-linecap="round"/>
<path d="M1779.6,1096.3C1790.4,1096.3 1801.2,1096.3 1812.1,1096.3C1820.7,1096.3 1829.4,1094.9 1838.1,1093.1C1843.4,1092.1 1848.8,1089.2 1854.1,1086.1C1858.8,1083.4 1863.4,1078.4 1868.1,1074.1C1872.1,1070.4 1876.1,1066.4 1880.1,1062.1C1884.1,1057.8 1888.1,1052.8 1892.1,1048.1C1896.1,1043.4 1900.1,1038.0 1904.1,1034.1C1908.1,1030.2 1912.2,1027.0 1916.2,1024.1C1920.2,1021.1 1924.2,1018.5 1928.2,1016.1C1931.5,1014.0 1934.8,1011.5 1938.2,1010.4C1940.8,1009.6 1943.5,1008.6 1946.2,1008.6C1948.9,1008.6 1951.5,1008.8 1954.2,1009.0C1956.9,1009.3 1959.5,1011.4 1962.2,1013.0C1964.9,1014.7 1967.5,1017.6 1970.2,1020.1C1972.9,1022.5 1975.5,1025.2 1978.2,1028.1C1980.9,1030.9 1983.6,1035.0 1986.2,1037.1C1989.6,1039.7 1992.9,1041.1 1996.2,1043.1C1999.6,1045.1 2002.9,1046.9 2006.2,1049.1C2009.6,1051.2 2012.9,1053.8 2016.3,1056.1C2020.3,1058.8 2024.3,1061.6 2028.3,1064.1C2032.3,1066.6 2036.3,1068.8 2040.3,1071.1C2044.3,1073.4 2048.3,1076.0 2052.3,1078.1C2057.0,1080.6 2061.6,1083.2 2066.3,1085.1C2071.6,1087.3 2077.0,1089.2 2082.3,1090.5C2088.3,1092.0 2094.3,1093.4 2100.3,1094.1C2106.3,1094.9 2112.4,1095.4 2118.4,1095.7C2123.6,1096.0 2128.8,1096.3 2134.0,1096.3" fill="#ecd873" fill-opacity="0.3" stroke="#ecd873" stroke-width="2.3" stroke-linejoin="round" stroke-linecap="round"/>
<path d="M1779.6,1096.3C1788.4,1096.3 1797.2,1095.5 1806.0,1094.5C1812.1,1093.9 1818.1,1092.1 1824.1,1090.1C1829.4,1088.4 1834.7,1085.7 1840.1,1082.1C1844.7,1079.0 1849.4,1073.1 1854.1,1068.1C1858.1,1063.8 1862.1,1058.8 1866.1,1054.1C1870.1,1049.4 1874.1,1044.7 1878.1,1040.1C1882.1,1035.4 1886.1,1030.7 1890.1,1026.1C1894.1,1021.4 1898.1,1016.6 1902.1,1012.0C1905.5,1008.3 1908.8,1004.0 1912.2,1001.0C1914.8,998.7 1917.5,996.5 1920.2,995.0C1922.2,993.9 1924.2,992.4 1926.2,992.4C1928.8,992.4 1931.5,993.4 1934.2,994.4C1936.8,995.5 1939.5,998.4 1942.2,1001.0C1944.8,1003.7 1947.5,1007.4 1950.2,1011.0C1952.9,1014.7 1955.5,1019.1 1958.2,1023.1C1960.9,1027.1 1963.5,1031.5 1966.2,1035.1C1969.5,1039.5 1972.9,1043.3 1976.2,1047.1C1979.6,1050.9 1982.9,1054.6 1986.2,1058.1C1990.2,1062.3 1994.2,1066.5 1998.2,1070.1C2002.2,1073.7 2006.2,1077.4 2010.2,1080.1C2014.9,1083.3 2019.6,1086.2 2024.3,1088.1C2029.6,1090.3 2034.9,1092.2 2040.3,1093.1C2047.6,1094.4 2055.0,1095.5 2062.3,1095.7C2072.3,1096.1 2082.3,1096.3 2092.3,1096.3C2106.2,1096.3 2120.1,1096.3 2134.0,1096.3" fill="#f08a76" fill-opacity="0.32" stroke="#f08a76" stroke-width="2.3" stroke-linejoin="round" stroke-linecap="round"/>
<path d="M1779.6,1096.3C1788.4,1096.3 1797.2,1095.5 1806.0,1094.5C1812.1,1093.9 1818.1,1092.1 1824.1,1090.1C1829.4,1088.4 1834.7,1085.7 1840.1,1082.1C1844.7,1079.0 1849.4,1073.1 1854.1,1068.1C1858.1,1063.8 1862.1,1058.9 1866.1,1054.1C1870.1,1049.3 1874.1,1044.1 1878.1,1039.1C1882.1,1034.1 1886.1,1029.0 1890.1,1024.1C1893.5,1020.0 1896.8,1015.2 1900.1,1012.0C1902.8,1009.5 1905.5,1006.7 1908.1,1005.6C1910.8,1004.5 1913.5,1003.5 1916.2,1003.4C1919.5,1003.3 1922.8,1003.3 1926.2,1003.2C1928.8,1003.2 1931.5,1003.0 1934.2,1003.0C1936.2,1003.0 1938.2,1004.0 1940.2,1005.0C1942.2,1006.1 1944.2,1009.4 1946.2,1012.0C1948.9,1015.5 1951.5,1020.9 1954.2,1024.1C1956.9,1027.3 1959.5,1029.4 1962.2,1032.1C1965.5,1035.4 1968.9,1038.7 1972.2,1042.1C1975.5,1045.4 1978.9,1048.8 1982.2,1052.1C1985.6,1055.4 1988.9,1058.8 1992.2,1062.1C1995.6,1065.4 1998.9,1069.4 2002.2,1072.1C2006.2,1075.3 2010.2,1077.8 2014.3,1080.1C2018.9,1082.8 2023.6,1085.3 2028.3,1087.1C2033.6,1089.2 2038.9,1091.1 2044.3,1092.1C2051.6,1093.6 2059.0,1094.7 2066.3,1095.1C2078.3,1095.8 2090.3,1096.3 2102.3,1096.3C2112.9,1096.3 2123.4,1096.3 2134.0,1096.3" fill="#8a4f9a" fill-opacity="0.3" stroke="#8a4f9a" stroke-width="2.3" stroke-linejoin="round" stroke-linecap="round"/>
<path d="M1779.6,1096.3C1788.4,1096.3 1797.2,1095.8 1806.0,1095.1C1812.1,1094.7 1818.1,1093.6 1824.1,1092.1C1829.4,1090.8 1834.7,1087.5 1840.1,1084.1C1844.1,1081.6 1848.1,1077.8 1852.1,1074.1C1856.1,1070.5 1860.1,1066.4 1864.1,1062.1C1868.1,1057.8 1872.1,1052.4 1876.1,1048.1C1880.1,1043.8 1884.1,1039.0 1888.1,1036.1C1892.1,1033.1 1896.1,1031.0 1900.1,1029.1C1904.1,1027.1 1908.1,1025.2 1912.2,1024.1C1916.2,1022.9 1920.2,1021.5 1924.2,1021.5C1928.2,1021.5 1932.2,1021.8 1936.2,1022.1C1940.2,1022.3 1944.2,1022.6 1948.2,1023.1C1951.5,1023.5 1954.9,1024.1 1958.2,1025.1C1961.5,1026.0 1964.9,1028.2 1968.2,1030.1C1971.5,1031.9 1974.9,1033.8 1978.2,1036.1C1981.6,1038.4 1984.9,1041.6 1988.2,1044.1C1991.6,1046.6 1994.9,1048.9 1998.2,1051.1C2001.6,1053.2 2004.9,1054.7 2008.2,1057.1C2011.6,1059.5 2014.9,1063.2 2018.3,1066.1C2022.3,1069.6 2026.3,1073.6 2030.3,1076.1C2034.3,1078.6 2038.3,1080.5 2042.3,1082.1C2046.3,1083.7 2050.3,1084.9 2054.3,1086.1C2059.0,1087.6 2063.6,1088.9 2068.3,1090.1C2073.6,1091.5 2079.0,1093.0 2084.3,1093.7C2090.3,1094.5 2096.3,1095.0 2102.3,1095.3C2112.9,1095.8 2123.4,1096.3 2134.0,1096.3" fill="#333a80" fill-opacity="0.28" stroke="#333a80" stroke-width="2.3" stroke-linejoin="round" stroke-linecap="round"/>
<text x="1733.6" y="1101.8" font-size="22.8" textLength="33.0" lengthAdjust="spacingAndGlyphs">0.0</text>
<text x="1733.6" y="1063.4" font-size="22.8" textLength="33.0" lengthAdjust="spacingAndGlyphs">0.2</text>
<text x="1733.6" y="1025.0" font-size="22.8" textLength="33.0" lengthAdjust="spacingAndGlyphs">0.4</text>
<text x="1815.6" y="1120.8" font-size="22.8" textLength="27.0" lengthAdjust="spacingAndGlyphs">−2</text>
<text x="1933.0" y="1120.8" font-size="22.8" textLength="13.2" lengthAdjust="spacingAndGlyphs">0</text>
<text x="2044.9" y="1120.8" font-size="22.8" textLength="13.2" lengthAdjust="spacingAndGlyphs">2</text>
<text x="2029.5" y="986.3" font-size="23.3">Factor 6</text>
<line x1="1767.0" y1="1261.9" x2="2151.0" y2="1261.9" stroke="#f1f1f4" stroke-width="1.0"/>
<line x1="1767.0" y1="1233.1" x2="2151.0" y2="1233.1" stroke="#f1f1f4" stroke-width="1.0"/>
<line x1="1767.0" y1="1204.3" x2="2151.0" y2="1204.3" stroke="#f1f1f4" stroke-width="1.0"/>
<line x1="1767.0" y1="1175.4" x2="2151.0" y2="1175.4" stroke="#f1f1f4" stroke-width="1.0"/>
<line x1="1801.6" y1="1167.6" x2="1801.6" y2="1281.1" stroke="#f1f1f4" stroke-width="1.0"/>
<line x1="1861.7" y1="1167.6" x2="1861.7" y2="1281.1" stroke="#f1f1f4" stroke-width="1.0"/>
<line x1="1922.0" y1="1167.6" x2="1922.0" y2="1281.1" stroke="#f1f1f4" stroke-width="1.0"/>
<line x1="1982.2" y1="1167.6" x2="1982.2" y2="1281.1" stroke="#f1f1f4" stroke-width="1.0"/>
<line x1="2042.3" y1="1167.6" x2="2042.3" y2="1281.1" stroke="#f1f1f4" stroke-width="1.0"/>
<line x1="2102.5" y1="1167.6" x2="2102.5" y2="1281.1" stroke="#f1f1f4" stroke-width="1.0"/>
<line x1="1767.0" y1="1276.3" x2="2151.0" y2="1276.3" stroke="#e9e9ed" stroke-width="1.5"/>
<line x1="1767.0" y1="1247.5" x2="2151.0" y2="1247.5" stroke="#e9e9ed" stroke-width="1.5"/>
<line x1="1767.0" y1="1218.7" x2="2151.0" y2="1218.7" stroke="#e9e9ed" stroke-width="1.5"/>
<line x1="1767.0" y1="1189.8" x2="2151.0" y2="1189.8" stroke="#e9e9ed" stroke-width="1.5"/>
<line x1="1771.6" y1="1167.6" x2="1771.6" y2="1281.1" stroke="#e9e9ed" stroke-width="1.5"/>
<line x1="1831.7" y1="1167.6" x2="1831.7" y2="1281.1" stroke="#e9e9ed" stroke-width="1.5"/>
<line x1="1891.9" y1="1167.6" x2="1891.9" y2="1281.1" stroke="#e9e9ed" stroke-width="1.5"/>
<line x1="1952.2" y1="1167.6" x2="1952.2" y2="1281.1" stroke="#e9e9ed" stroke-width="1.5"/>
<line x1="2012.3" y1="1167.6" x2="2012.3" y2="1281.1" stroke="#e9e9ed" stroke-width="1.5"/>
<line x1="2072.5" y1="1167.6" x2="2072.5" y2="1281.1" stroke="#e9e9ed" stroke-width="1.5"/>
<line x1="2132.8" y1="1167.6" x2="2132.8" y2="1281.1" stroke="#e9e9ed" stroke-width="1.5"/>
<path d="M1779.6,1276.3C1800.4,1276.3 1821.3,1276.3 1842.1,1276.3C1852.1,1276.3 1862.1,1275.8 1872.1,1275.1C1878.8,1274.7 1885.5,1273.6 1892.1,1272.1C1897.5,1271.0 1902.8,1267.8 1908.1,1266.1C1912.8,1264.6 1917.5,1264.1 1922.2,1262.1C1925.5,1260.7 1928.8,1257.1 1932.2,1254.1C1935.5,1251.1 1938.8,1247.8 1942.2,1244.1C1944.8,1241.1 1947.5,1238.0 1950.2,1234.1C1952.9,1230.2 1955.5,1225.1 1958.2,1220.1C1960.2,1216.3 1962.2,1212.1 1964.2,1208.1C1966.2,1204.1 1968.2,1199.3 1970.2,1196.1C1972.2,1192.8 1974.2,1190.7 1976.2,1188.0C1978.2,1185.4 1980.2,1182.6 1982.2,1180.0C1983.9,1177.9 1985.6,1175.2 1987.2,1174.0C1988.9,1172.9 1990.6,1171.6 1992.2,1171.6C1994.2,1171.6 1996.2,1172.6 1998.2,1173.6C2000.2,1174.6 2002.2,1177.7 2004.2,1180.0C2006.2,1182.4 2008.2,1185.1 2010.2,1188.0C2012.3,1191.0 2014.3,1194.4 2016.3,1198.1C2018.3,1201.7 2020.3,1206.3 2022.3,1210.1C2024.9,1215.1 2027.6,1219.4 2030.3,1224.1C2032.9,1228.8 2035.6,1234.2 2038.3,1238.1C2040.9,1242.0 2043.6,1245.3 2046.3,1248.1C2049.6,1251.6 2053.0,1254.5 2056.3,1257.1C2060.3,1260.2 2064.3,1263.0 2068.3,1265.1C2073.0,1267.6 2077.6,1269.8 2082.3,1271.1C2087.7,1272.7 2093.0,1273.9 2098.3,1274.5C2105.0,1275.3 2111.7,1276.0 2118.4,1276.1C2123.6,1276.2 2128.8,1276.3 2134.0,1276.3" fill="#5bd6e7" fill-opacity="0.4" stroke="#5bd6e7" stroke-width="2.3" stroke-linejoin="round" stroke-linecap="round"/>
<path d="M1779.6,1276.3C1787.1,1275.9 1794.6,1274.6 1802.0,1273.1C1806.7,1272.2 1811.4,1270.7 1816.1,1269.1C1820.1,1267.8 1824.1,1266.5 1828.1,1264.1C1831.4,1262.1 1834.7,1258.1 1838.1,1254.1C1840.7,1250.9 1843.4,1246.4 1846.1,1242.1C1848.8,1237.8 1851.4,1232.4 1854.1,1228.1C1856.8,1223.8 1859.4,1219.3 1862.1,1216.1C1864.8,1212.9 1867.4,1211.3 1870.1,1208.1C1872.8,1204.9 1875.4,1199.0 1878.1,1196.1C1880.8,1193.1 1883.5,1190.6 1886.1,1189.0C1888.8,1187.5 1891.5,1186.3 1894.1,1185.6C1896.1,1185.2 1898.1,1184.6 1900.1,1184.6C1902.8,1184.6 1905.5,1185.3 1908.1,1186.0C1910.8,1186.8 1913.5,1189.1 1916.2,1191.0C1918.2,1192.5 1920.2,1193.8 1922.2,1196.1C1924.2,1198.3 1926.2,1202.9 1928.2,1206.1C1930.8,1210.3 1933.5,1214.1 1936.2,1218.1C1938.8,1222.1 1941.5,1226.1 1944.2,1230.1C1946.9,1234.1 1949.5,1238.9 1952.2,1242.1C1955.5,1246.1 1958.9,1249.1 1962.2,1252.1C1965.5,1255.1 1968.9,1257.9 1972.2,1260.1C1976.2,1262.8 1980.2,1265.6 1984.2,1267.1C1988.9,1268.9 1993.6,1270.1 1998.2,1271.1C2003.6,1272.3 2008.9,1273.6 2014.3,1274.1C2023.6,1275.1 2032.9,1275.8 2042.3,1275.9C2055.6,1276.2 2069.0,1276.3 2082.3,1276.3C2099.5,1276.3 2116.8,1276.3 2134.0,1276.3" fill="#ecd873" fill-opacity="0.3" stroke="#ecd873" stroke-width="2.3" stroke-linejoin="round" stroke-linecap="round"/>
<path d="M1779.6,1276.3C1793.8,1276.3 1807.9,1276.3 1822.1,1276.3C1831.4,1276.3 1840.7,1274.7 1850.1,1273.1C1856.1,1272.1 1862.1,1270.5 1868.1,1268.1C1872.1,1266.5 1876.1,1263.3 1880.1,1260.1C1884.1,1256.9 1888.1,1252.8 1892.1,1248.1C1895.5,1244.2 1898.8,1238.8 1902.1,1234.1C1905.5,1229.4 1908.8,1224.9 1912.2,1220.1C1914.8,1216.2 1917.5,1212.1 1920.2,1208.1C1922.8,1204.1 1925.5,1200.1 1928.2,1196.1C1930.2,1193.0 1932.2,1188.9 1934.2,1187.0C1936.2,1185.2 1938.2,1183.6 1940.2,1183.0C1942.8,1182.3 1945.5,1181.6 1948.2,1181.6C1950.2,1181.6 1952.2,1182.0 1954.2,1182.4C1956.9,1183.0 1959.5,1184.6 1962.2,1186.0C1964.9,1187.4 1967.5,1188.9 1970.2,1191.0C1972.9,1193.2 1975.5,1196.4 1978.2,1200.1C1980.9,1203.7 1983.6,1209.1 1986.2,1214.1C1988.2,1217.8 1990.2,1221.8 1992.2,1226.1C1994.2,1230.4 1996.2,1236.2 1998.2,1240.1C2000.2,1244.0 2002.2,1247.2 2004.2,1250.1C2006.9,1253.9 2009.6,1257.7 2012.3,1260.1C2015.6,1263.1 2018.9,1265.5 2022.3,1267.1C2026.3,1269.1 2030.3,1270.7 2034.3,1271.7C2039.6,1273.0 2044.9,1274.0 2050.3,1274.5C2057.6,1275.2 2065.0,1275.8 2072.3,1275.9C2082.3,1276.2 2092.3,1276.3 2102.3,1276.3C2112.9,1276.3 2123.4,1276.3 2134.0,1276.3" fill="#f08a76" fill-opacity="0.32" stroke="#f08a76" stroke-width="2.3" stroke-linejoin="round" stroke-linecap="round"/>
<path d="M1779.6,1276.3C1793.8,1276.3 1807.9,1276.3 1822.1,1276.3C1832.7,1276.3 1843.4,1275.4 1854.1,1274.1C1859.4,1273.5 1864.8,1272.0 1870.1,1270.1C1874.8,1268.5 1879.5,1265.3 1884.1,1262.1C1888.1,1259.4 1892.1,1256.3 1896.1,1252.1C1899.5,1248.6 1902.8,1242.8 1906.1,1238.1C1909.5,1233.4 1912.8,1228.9 1916.2,1224.1C1918.8,1220.2 1921.5,1215.7 1924.2,1212.1C1926.8,1208.4 1929.5,1205.6 1932.2,1202.1C1934.8,1198.6 1937.5,1193.6 1940.2,1191.0C1942.8,1188.5 1945.5,1186.0 1948.2,1185.0C1950.2,1184.3 1952.2,1183.6 1954.2,1183.6C1956.2,1183.6 1958.2,1183.8 1960.2,1184.0C1962.9,1184.3 1965.5,1186.7 1968.2,1188.0C1970.9,1189.4 1973.5,1190.4 1976.2,1192.0C1978.9,1193.6 1981.6,1195.2 1984.2,1198.1C1986.2,1200.2 1988.2,1204.2 1990.2,1208.1C1992.2,1212.0 1994.2,1217.4 1996.2,1222.1C1998.2,1226.7 2000.2,1232.1 2002.2,1236.1C2004.9,1241.5 2007.6,1246.5 2010.2,1250.1C2012.9,1253.8 2015.6,1256.8 2018.3,1259.1C2021.6,1262.0 2024.9,1264.4 2028.3,1266.1C2032.3,1268.2 2036.3,1270.1 2040.3,1271.1C2045.6,1272.5 2051.0,1273.6 2056.3,1274.1C2063.6,1274.9 2071.0,1275.5 2078.3,1275.7C2086.3,1276.0 2094.3,1276.3 2102.3,1276.3C2112.9,1276.3 2123.4,1276.3 2134.0,1276.3" fill="#8a4f9a" fill-opacity="0.3" stroke="#8a4f9a" stroke-width="2.3" stroke-linejoin="round" stroke-linecap="round"/>
<path d="M1779.6,1276.3C1800.4,1276.3 1821.3,1276.1 1842.1,1275.7C1850.1,1275.6 1858.1,1274.8 1866.1,1273.7C1871.4,1273.0 1876.8,1271.1 1882.1,1269.1C1886.1,1267.6 1890.1,1265.5 1894.1,1263.1C1898.1,1260.7 1902.1,1257.5 1906.1,1254.1C1910.1,1250.7 1914.2,1246.1 1918.2,1242.1C1921.5,1238.8 1924.8,1235.4 1928.2,1232.1C1931.5,1228.8 1934.8,1225.8 1938.2,1222.1C1940.8,1219.1 1943.5,1214.8 1946.2,1212.1C1948.9,1209.3 1951.5,1206.5 1954.2,1205.1C1956.9,1203.7 1959.5,1203.1 1962.2,1202.1C1964.9,1201.1 1967.5,1199.7 1970.2,1199.1C1972.9,1198.4 1975.5,1197.7 1978.2,1197.7C1980.9,1197.7 1983.6,1198.9 1986.2,1200.1C1988.9,1201.2 1991.6,1203.8 1994.2,1206.1C1996.9,1208.4 1999.6,1211.7 2002.2,1214.1C2005.6,1217.0 2008.9,1219.4 2012.3,1222.1C2015.6,1224.7 2018.9,1227.1 2022.3,1230.1C2025.6,1233.1 2028.9,1237.1 2032.3,1240.1C2035.6,1243.1 2038.9,1245.8 2042.3,1248.1C2046.3,1250.8 2050.3,1253.0 2054.3,1255.1C2058.3,1257.3 2062.3,1259.1 2066.3,1261.1C2070.3,1263.1 2074.3,1265.5 2078.3,1267.1C2083.0,1269.0 2087.7,1270.7 2092.3,1271.7C2097.7,1273.0 2103.0,1273.9 2108.3,1274.5C2113.0,1275.1 2117.7,1275.4 2122.4,1275.7C2126.2,1276.0 2130.1,1276.2 2134.0,1276.3" fill="#333a80" fill-opacity="0.28" stroke="#333a80" stroke-width="2.3" stroke-linejoin="round" stroke-linecap="round"/>
<text x="1733.6" y="1281.8" font-size="22.8" textLength="33.0" lengthAdjust="spacingAndGlyphs">0.0</text>
<text x="1733.6" y="1253.0" font-size="22.8" textLength="33.0" lengthAdjust="spacingAndGlyphs">0.2</text>
<text x="1733.6" y="1224.2" font-size="22.8" textLength="33.0" lengthAdjust="spacingAndGlyphs">0.4</text>
<text x="1733.6" y="1195.3" font-size="22.8" textLength="33.0" lengthAdjust="spacingAndGlyphs">0.6</text>
<text x="1761.6" y="1300.8" font-size="22.8" textLength="27.0" lengthAdjust="spacingAndGlyphs">−3</text>
<text x="1821.7" y="1300.8" font-size="22.8" textLength="27.0" lengthAdjust="spacingAndGlyphs">−2</text>
<text x="1881.9" y="1300.8" font-size="22.8" textLength="27.0" lengthAdjust="spacingAndGlyphs">−1</text>
<text x="1947.6" y="1300.8" font-size="22.8" textLength="13.2" lengthAdjust="spacingAndGlyphs">0</text>
<text x="2007.7" y="1300.8" font-size="22.8" textLength="13.2" lengthAdjust="spacingAndGlyphs">1</text>
<text x="2067.9" y="1300.8" font-size="22.8" textLength="13.2" lengthAdjust="spacingAndGlyphs">2</text>
<text x="2128.2" y="1300.8" font-size="22.8" textLength="13.2" lengthAdjust="spacingAndGlyphs">3</text>
<text x="2028.3" y="1163.4" font-size="23.3">Factor 7</text>
<text x="2028.3" y="1192.1" font-size="23.3">(early resp.)</text>
<line x1="1767.0" y1="1434.7" x2="2151.0" y2="1434.7" stroke="#f1f1f4" stroke-width="1.0"/>
<line x1="1767.0" y1="1398.9" x2="2151.0" y2="1398.9" stroke="#f1f1f4" stroke-width="1.0"/>
<line x1="1767.0" y1="1363.0" x2="2151.0" y2="1363.0" stroke="#f1f1f4" stroke-width="1.0"/>
<line x1="1879.7" y1="1344.0" x2="1879.7" y2="1457.5" stroke="#f1f1f4" stroke-width="1.0"/>
<line x1="1998.4" y1="1344.0" x2="1998.4" y2="1457.5" stroke="#f1f1f4" stroke-width="1.0"/>
<line x1="2117.4" y1="1344.0" x2="2117.4" y2="1457.5" stroke="#f1f1f4" stroke-width="1.0"/>
<line x1="1767.0" y1="1452.5" x2="2151.0" y2="1452.5" stroke="#e9e9ed" stroke-width="1.5"/>
<line x1="1767.0" y1="1416.7" x2="2151.0" y2="1416.7" stroke="#e9e9ed" stroke-width="1.5"/>
<line x1="1767.0" y1="1380.9" x2="2151.0" y2="1380.9" stroke="#e9e9ed" stroke-width="1.5"/>
<line x1="1767.0" y1="1345.0" x2="2151.0" y2="1345.0" stroke="#e9e9ed" stroke-width="1.5"/>
<line x1="1820.3" y1="1344.0" x2="1820.3" y2="1457.5" stroke="#e9e9ed" stroke-width="1.5"/>
<line x1="1939.0" y1="1344.0" x2="1939.0" y2="1457.5" stroke="#e9e9ed" stroke-width="1.5"/>
<line x1="2057.9" y1="1344.0" x2="2057.9" y2="1457.5" stroke="#e9e9ed" stroke-width="1.5"/>
<path d="M1779.6,1452.5C1790.4,1452.5 1801.2,1452.5 1812.1,1452.5C1822.1,1452.5 1832.1,1451.7 1842.1,1450.7C1848.8,1450.1 1855.4,1448.3 1862.1,1446.1C1866.8,1444.6 1871.4,1442.1 1876.1,1439.1C1880.1,1436.6 1884.1,1433.3 1888.1,1429.1C1891.5,1425.6 1894.8,1420.1 1898.1,1415.1C1901.5,1410.1 1904.8,1404.4 1908.1,1399.1C1911.5,1393.7 1914.8,1388.0 1918.2,1383.1C1921.5,1378.1 1924.8,1373.2 1928.2,1369.0C1930.8,1365.7 1933.5,1362.4 1936.2,1360.0C1938.8,1357.6 1941.5,1355.2 1944.2,1354.0C1946.9,1352.8 1949.5,1351.4 1952.2,1351.4C1954.2,1351.4 1956.2,1352.3 1958.2,1353.0C1960.9,1354.1 1963.5,1356.6 1966.2,1359.0C1968.9,1361.4 1971.5,1364.9 1974.2,1368.0C1976.9,1371.2 1979.6,1374.9 1982.2,1378.1C1985.6,1382.0 1988.9,1385.2 1992.2,1389.1C1994.9,1392.2 1997.6,1395.4 2000.2,1399.1C2002.9,1402.7 2005.6,1408.3 2008.2,1411.1C2011.6,1414.6 2014.9,1416.6 2018.3,1419.1C2021.6,1421.6 2024.9,1424.0 2028.3,1426.1C2032.3,1428.7 2036.3,1431.0 2040.3,1433.1C2044.3,1435.3 2048.3,1437.3 2052.3,1439.1C2057.0,1441.3 2061.6,1443.6 2066.3,1445.1C2071.6,1446.8 2077.0,1448.3 2082.3,1449.1C2089.0,1450.2 2095.7,1451.2 2102.3,1451.5C2112.9,1452.1 2123.4,1452.5 2134.0,1452.5" fill="#5bd6e7" fill-opacity="0.4" stroke="#5bd6e7" stroke-width="2.3" stroke-linejoin="round" stroke-linecap="round"/>
<path d="M1779.6,1452.5C1790.4,1452.5 1801.2,1451.5 1812.1,1450.1C1818.7,1449.3 1825.4,1446.9 1832.1,1444.1C1836.7,1442.2 1841.4,1438.8 1846.1,1435.1C1850.1,1432.0 1854.1,1427.7 1858.1,1423.1C1862.1,1418.5 1866.1,1412.1 1870.1,1407.1C1874.1,1402.1 1878.1,1397.7 1882.1,1393.1C1886.1,1388.4 1890.1,1383.6 1894.1,1379.1C1897.5,1375.3 1900.8,1371.1 1904.1,1368.0C1907.5,1365.0 1910.8,1361.7 1914.2,1360.0C1916.8,1358.7 1919.5,1357.3 1922.2,1357.0C1924.8,1356.8 1927.5,1356.6 1930.2,1356.6C1932.8,1356.6 1935.5,1357.9 1938.2,1359.0C1940.8,1360.2 1943.5,1362.8 1946.2,1365.0C1948.9,1367.3 1951.5,1370.4 1954.2,1373.1C1956.9,1375.7 1959.5,1378.2 1962.2,1381.1C1965.5,1384.7 1968.9,1389.4 1972.2,1393.1C1975.5,1396.7 1978.9,1399.6 1982.2,1403.1C1985.6,1406.6 1988.9,1410.8 1992.2,1414.1C1995.6,1417.4 1998.9,1420.2 2002.2,1423.1C2006.2,1426.6 2010.2,1430.4 2014.3,1433.1C2018.3,1435.9 2022.3,1438.2 2026.3,1440.1C2030.9,1442.3 2035.6,1444.2 2040.3,1445.5C2045.6,1447.1 2051.0,1448.3 2056.3,1449.1C2063.6,1450.2 2071.0,1451.3 2078.3,1451.5C2096.9,1452.2 2115.4,1452.5 2134.0,1452.5" fill="#ecd873" fill-opacity="0.3" stroke="#ecd873" stroke-width="2.3" stroke-linejoin="round" stroke-linecap="round"/>
<path d="M1779.6,1452.5C1790.4,1452.5 1801.2,1451.4 1812.1,1450.1C1818.7,1449.3 1825.4,1447.2 1832.1,1444.7C1836.7,1443.0 1841.4,1440.4 1846.1,1437.1C1850.1,1434.3 1854.1,1429.7 1858.1,1425.1C1862.1,1420.5 1866.1,1414.1 1870.1,1409.1C1874.1,1404.1 1878.1,1400.1 1882.1,1395.1C1886.1,1390.1 1890.1,1384.5 1894.1,1379.1C1897.5,1374.5 1900.8,1369.7 1904.1,1365.0C1906.8,1361.3 1909.5,1356.2 1912.2,1354.0C1914.8,1351.9 1917.5,1350.0 1920.2,1349.4C1922.8,1348.9 1925.5,1348.4 1928.2,1348.4C1930.8,1348.4 1933.5,1349.1 1936.2,1350.0C1938.2,1350.7 1940.2,1353.7 1942.2,1356.0C1944.8,1359.1 1947.5,1363.6 1950.2,1367.0C1952.9,1370.5 1955.5,1373.7 1958.2,1377.1C1960.9,1380.4 1963.5,1383.8 1966.2,1387.1C1969.5,1391.2 1972.9,1395.1 1976.2,1399.1C1979.6,1403.1 1982.9,1407.5 1986.2,1411.1C1989.6,1414.7 1992.9,1417.9 1996.2,1421.1C2000.2,1424.9 2004.2,1429.0 2008.2,1432.1C2012.3,1435.2 2016.3,1438.1 2020.3,1440.1C2024.9,1442.4 2029.6,1444.2 2034.3,1445.5C2039.6,1447.1 2044.9,1448.4 2050.3,1449.1C2058.3,1450.3 2066.3,1451.3 2074.3,1451.5C2094.2,1452.2 2114.1,1452.5 2134.0,1452.5" fill="#f08a76" fill-opacity="0.32" stroke="#f08a76" stroke-width="2.3" stroke-linejoin="round" stroke-linecap="round"/>
<path d="M1779.6,1452.5C1790.4,1452.5 1801.2,1451.1 1812.1,1449.5C1818.7,1448.5 1825.4,1446.1 1832.1,1443.5C1836.7,1441.7 1841.4,1439.4 1846.1,1436.1C1850.1,1433.3 1854.1,1428.6 1858.1,1424.1C1862.1,1419.7 1866.1,1413.9 1870.1,1409.1C1874.1,1404.3 1878.1,1400.1 1882.1,1395.1C1886.1,1390.1 1890.1,1384.3 1894.1,1379.1C1897.5,1374.7 1900.8,1369.6 1904.1,1366.0C1907.5,1362.5 1910.8,1358.5 1914.2,1357.0C1916.8,1355.9 1919.5,1354.6 1922.2,1354.6C1924.8,1354.6 1927.5,1354.8 1930.2,1355.0C1932.8,1355.3 1935.5,1356.3 1938.2,1357.4C1940.8,1358.6 1943.5,1361.6 1946.2,1364.0C1948.9,1366.5 1951.5,1369.2 1954.2,1372.1C1956.9,1374.9 1959.5,1378.0 1962.2,1381.1C1965.5,1384.9 1968.9,1389.2 1972.2,1393.1C1975.5,1396.9 1978.9,1400.4 1982.2,1404.1C1985.6,1407.8 1988.9,1411.8 1992.2,1415.1C1995.6,1418.4 1998.9,1421.4 2002.2,1424.1C2006.2,1427.4 2010.2,1430.5 2014.3,1433.1C2018.3,1435.7 2022.3,1438.2 2026.3,1440.1C2030.9,1442.3 2035.6,1444.2 2040.3,1445.5C2045.6,1447.1 2051.0,1448.3 2056.3,1449.1C2063.6,1450.2 2071.0,1451.3 2078.3,1451.5C2096.9,1452.2 2115.4,1452.5 2134.0,1452.5" fill="#8a4f9a" fill-opacity="0.3" stroke="#8a4f9a" stroke-width="2.3" stroke-linejoin="round" stroke-linecap="round"/>
<path d="M1779.6,1452.5C1789.1,1452.3 1798.6,1451.0 1808.0,1449.5C1814.1,1448.6 1820.1,1446.8 1826.1,1445.1C1830.1,1444.0 1834.1,1443.0 1838.1,1441.1C1841.4,1439.5 1844.7,1436.3 1848.1,1433.1C1851.4,1429.9 1854.8,1424.7 1858.1,1421.1C1861.4,1417.5 1864.8,1413.8 1868.1,1411.1C1872.1,1407.9 1876.1,1406.7 1880.1,1403.1C1883.5,1400.0 1886.8,1393.6 1890.1,1389.1C1893.5,1384.6 1896.8,1379.8 1900.1,1376.1C1903.5,1372.3 1906.8,1368.0 1910.1,1366.0C1913.5,1364.1 1916.8,1362.7 1920.2,1362.0C1922.8,1361.5 1925.5,1361.0 1928.2,1361.0C1930.8,1361.0 1933.5,1361.5 1936.2,1362.0C1938.8,1362.6 1941.5,1365.0 1944.2,1367.0C1946.9,1369.1 1949.5,1372.4 1952.2,1375.1C1955.5,1378.4 1958.9,1381.6 1962.2,1385.1C1965.5,1388.6 1968.9,1392.4 1972.2,1396.1C1975.5,1399.7 1978.9,1403.4 1982.2,1407.1C1985.6,1410.8 1988.9,1415.2 1992.2,1418.1C1995.6,1421.0 1998.9,1422.7 2002.2,1425.1C2006.2,1428.0 2010.2,1431.6 2014.3,1434.1C2018.3,1436.7 2022.3,1439.0 2026.3,1440.7C2030.9,1442.7 2035.6,1444.2 2040.3,1445.5C2045.6,1447.0 2051.0,1448.3 2056.3,1449.1C2063.6,1450.2 2071.0,1451.3 2078.3,1451.5C2096.9,1452.2 2115.4,1452.5 2134.0,1452.5" fill="#333a80" fill-opacity="0.28" stroke="#333a80" stroke-width="2.3" stroke-linejoin="round" stroke-linecap="round"/>
<text x="1733.6" y="1458.0" font-size="22.8" textLength="33.0" lengthAdjust="spacingAndGlyphs">0.0</text>
<text x="1733.6" y="1422.2" font-size="22.8" textLength="33.0" lengthAdjust="spacingAndGlyphs">0.2</text>
<text x="1733.6" y="1386.4" font-size="22.8" textLength="33.0" lengthAdjust="spacingAndGlyphs">0.4</text>
<text x="1733.6" y="1350.5" font-size="22.8" textLength="33.0" lengthAdjust="spacingAndGlyphs">0.6</text>
<text x="1810.2" y="1477.0" font-size="22.8" textLength="27.0" lengthAdjust="spacingAndGlyphs">−2</text>
<text x="1934.4" y="1477.0" font-size="22.8" textLength="13.2" lengthAdjust="spacingAndGlyphs">0</text>
<text x="2053.3" y="1477.0" font-size="22.8" textLength="13.2" lengthAdjust="spacingAndGlyphs">2</text>
<text x="2029.5" y="1341.0" font-size="23.3">Factor 8</text>
<line x1="1767.0" y1="1614.1" x2="2151.0" y2="1614.1" stroke="#f1f1f4" stroke-width="1.0"/>
<line x1="1767.0" y1="1577.9" x2="2151.0" y2="1577.9" stroke="#f1f1f4" stroke-width="1.0"/>
<line x1="1767.0" y1="1541.6" x2="2151.0" y2="1541.6" stroke="#f1f1f4" stroke-width="1.0"/>
<line x1="1795.4" y1="1523.0" x2="1795.4" y2="1637.1" stroke="#f1f1f4" stroke-width="1.0"/>
<line x1="1855.3" y1="1523.0" x2="1855.3" y2="1637.1" stroke="#f1f1f4" stroke-width="1.0"/>
<line x1="1915.2" y1="1523.0" x2="1915.2" y2="1637.1" stroke="#f1f1f4" stroke-width="1.0"/>
<line x1="1975.0" y1="1523.0" x2="1975.0" y2="1637.1" stroke="#f1f1f4" stroke-width="1.0"/>
<line x1="2035.1" y1="1523.0" x2="2035.1" y2="1637.1" stroke="#f1f1f4" stroke-width="1.0"/>
<line x1="2094.9" y1="1523.0" x2="2094.9" y2="1637.1" stroke="#f1f1f4" stroke-width="1.0"/>
<line x1="1767.0" y1="1632.3" x2="2151.0" y2="1632.3" stroke="#e9e9ed" stroke-width="1.5"/>
<line x1="1767.0" y1="1596.1" x2="2151.0" y2="1596.1" stroke="#e9e9ed" stroke-width="1.5"/>
<line x1="1767.0" y1="1559.7" x2="2151.0" y2="1559.7" stroke="#e9e9ed" stroke-width="1.5"/>
<line x1="1767.0" y1="1523.4" x2="2151.0" y2="1523.4" stroke="#e9e9ed" stroke-width="1.5"/>
<line x1="1765.6" y1="1523.0" x2="1765.6" y2="1637.1" stroke="#e9e9ed" stroke-width="1.5"/>
<line x1="1825.5" y1="1523.0" x2="1825.5" y2="1637.1" stroke="#e9e9ed" stroke-width="1.5"/>
<line x1="1885.3" y1="1523.0" x2="1885.3" y2="1637.1" stroke="#e9e9ed" stroke-width="1.5"/>
<line x1="1945.2" y1="1523.0" x2="1945.2" y2="1637.1" stroke="#e9e9ed" stroke-width="1.5"/>
<line x1="2005.0" y1="1523.0" x2="2005.0" y2="1637.1" stroke="#e9e9ed" stroke-width="1.5"/>
<line x1="2065.1" y1="1523.0" x2="2065.1" y2="1637.1" stroke="#e9e9ed" stroke-width="1.5"/>
<line x1="2125.0" y1="1523.0" x2="2125.0" y2="1637.1" stroke="#e9e9ed" stroke-width="1.5"/>
<path d="M1779.6,1632.3C1790.4,1631.9 1801.2,1630.6 1812.1,1629.1C1818.7,1628.2 1825.4,1626.8 1832.1,1625.1C1837.4,1623.8 1842.7,1622.5 1848.1,1620.1C1852.8,1618.1 1857.4,1613.7 1862.1,1610.1C1866.1,1607.0 1870.1,1602.6 1874.1,1600.1C1877.4,1598.0 1880.8,1597.0 1884.1,1595.1C1887.5,1593.1 1890.8,1591.2 1894.1,1588.1C1897.5,1585.0 1900.8,1579.1 1904.1,1574.1C1907.5,1569.1 1910.8,1563.0 1914.2,1558.1C1917.5,1553.1 1920.8,1547.9 1924.2,1544.0C1926.8,1540.9 1929.5,1538.3 1932.2,1536.0C1934.2,1534.4 1936.2,1532.5 1938.2,1531.6C1940.2,1530.7 1942.2,1529.6 1944.2,1529.6C1946.2,1529.6 1948.2,1530.4 1950.2,1531.0C1952.9,1531.9 1955.5,1534.2 1958.2,1536.0C1960.9,1537.9 1963.5,1539.8 1966.2,1542.0C1968.9,1544.3 1971.5,1547.1 1974.2,1550.1C1976.9,1553.0 1979.6,1556.2 1982.2,1560.1C1984.9,1564.0 1987.6,1569.4 1990.2,1574.1C1992.9,1578.7 1995.6,1584.2 1998.2,1588.1C2000.9,1592.0 2003.6,1595.1 2006.2,1598.1C2009.6,1601.8 2012.9,1605.1 2016.3,1608.1C2020.3,1611.8 2024.3,1615.6 2028.3,1618.1C2032.9,1621.1 2037.6,1623.6 2042.3,1625.1C2047.6,1626.9 2053.0,1628.4 2058.3,1629.1C2066.3,1630.2 2074.3,1631.1 2082.3,1631.3C2099.5,1631.9 2116.8,1632.3 2134.0,1632.3" fill="#5bd6e7" fill-opacity="0.4" stroke="#5bd6e7" stroke-width="2.3" stroke-linejoin="round" stroke-linecap="round"/>
<path d="M1779.6,1632.3C1790.4,1632.3 1801.2,1630.7 1812.1,1629.1C1818.7,1628.2 1825.4,1626.1 1832.1,1624.1C1837.4,1622.5 1842.7,1620.5 1848.1,1618.1C1852.8,1616.0 1857.4,1612.8 1862.1,1610.1C1866.8,1607.4 1871.4,1605.3 1876.1,1602.1C1880.1,1599.4 1884.1,1595.7 1888.1,1592.1C1892.1,1588.5 1896.1,1584.5 1900.1,1580.1C1903.5,1576.4 1906.8,1571.9 1910.1,1568.1C1913.5,1564.2 1916.8,1560.6 1920.2,1557.1C1923.5,1553.6 1926.8,1549.9 1930.2,1547.0C1932.8,1544.8 1935.5,1542.5 1938.2,1541.0C1940.8,1539.6 1943.5,1538.0 1946.2,1537.6C1948.9,1537.3 1951.5,1537.0 1954.2,1537.0C1956.9,1537.0 1959.5,1538.1 1962.2,1539.0C1964.9,1540.0 1967.5,1542.0 1970.2,1544.0C1972.9,1546.1 1975.5,1549.1 1978.2,1552.1C1980.9,1555.0 1983.6,1558.5 1986.2,1562.1C1989.6,1566.5 1992.9,1571.4 1996.2,1576.1C1999.6,1580.7 2002.9,1585.4 2006.2,1590.1C2009.6,1594.8 2012.9,1600.2 2016.3,1604.1C2020.3,1608.8 2024.3,1613.2 2028.3,1616.1C2032.9,1619.5 2037.6,1622.2 2042.3,1624.1C2047.6,1626.3 2053.0,1628.3 2058.3,1629.1C2066.3,1630.3 2074.3,1631.1 2082.3,1631.3C2099.5,1631.9 2116.8,1632.3 2134.0,1632.3" fill="#ecd873" fill-opacity="0.3" stroke="#ecd873" stroke-width="2.3" stroke-linejoin="round" stroke-linecap="round"/>
<path d="M1779.6,1632.3C1789.1,1631.4 1798.6,1629.8 1808.0,1628.1C1814.1,1627.0 1820.1,1625.9 1826.1,1624.1C1830.7,1622.7 1835.4,1620.4 1840.1,1618.1C1844.1,1616.1 1848.1,1613.7 1852.1,1611.1C1856.1,1608.5 1860.1,1605.5 1864.1,1602.1C1868.1,1598.7 1872.1,1594.8 1876.1,1590.1C1879.5,1586.2 1882.8,1581.1 1886.1,1576.1C1889.5,1571.1 1892.8,1564.6 1896.1,1560.1C1899.5,1555.5 1902.8,1552.1 1906.1,1548.0C1908.8,1544.8 1911.5,1541.3 1914.2,1538.0C1916.2,1535.6 1918.2,1532.4 1920.2,1531.0C1922.2,1529.6 1924.2,1528.0 1926.2,1528.0C1928.8,1528.0 1931.5,1529.2 1934.2,1530.0C1936.8,1530.9 1939.5,1532.2 1942.2,1533.6C1944.8,1535.1 1947.5,1536.8 1950.2,1539.0C1952.9,1541.3 1955.5,1544.6 1958.2,1548.0C1960.9,1551.5 1963.5,1555.7 1966.2,1560.1C1968.9,1564.4 1971.5,1569.4 1974.2,1574.1C1976.9,1578.7 1979.6,1583.8 1982.2,1588.1C1984.9,1592.4 1987.6,1596.9 1990.2,1600.1C1993.6,1604.1 1996.9,1607.4 2000.2,1610.1C2004.2,1613.3 2008.2,1616.0 2012.3,1618.1C2016.9,1620.6 2021.6,1622.6 2026.3,1624.1C2031.6,1625.8 2036.9,1627.1 2042.3,1628.1C2049.0,1629.4 2055.6,1630.7 2062.3,1631.1C2072.3,1631.8 2082.3,1632.3 2092.3,1632.3C2106.2,1632.3 2120.1,1632.3 2134.0,1632.3" fill="#f08a76" fill-opacity="0.32" stroke="#f08a76" stroke-width="2.3" stroke-linejoin="round" stroke-linecap="round"/>
<path d="M1779.6,1632.3C1790.4,1632.3 1801.2,1631.0 1812.1,1629.7C1818.7,1628.9 1825.4,1627.4 1832.1,1625.7C1837.4,1624.4 1842.7,1622.5 1848.1,1620.1C1852.8,1618.1 1857.4,1615.1 1862.1,1612.1C1866.8,1609.1 1871.4,1605.7 1876.1,1602.1C1880.1,1599.0 1884.1,1595.7 1888.1,1592.1C1892.1,1588.5 1896.1,1584.8 1900.1,1580.1C1903.5,1576.2 1906.8,1570.7 1910.1,1566.1C1913.5,1561.4 1916.8,1556.2 1920.2,1552.1C1922.8,1548.7 1925.5,1545.4 1928.2,1543.0C1930.8,1540.6 1933.5,1538.2 1936.2,1537.0C1938.8,1535.8 1941.5,1534.7 1944.2,1534.4C1946.9,1534.2 1949.5,1534.0 1952.2,1534.0C1954.9,1534.0 1957.5,1535.0 1960.2,1536.0C1962.9,1537.0 1965.5,1539.8 1968.2,1542.0C1970.9,1544.3 1973.5,1547.1 1976.2,1550.1C1978.9,1553.0 1981.6,1556.4 1984.2,1560.1C1986.9,1563.7 1989.6,1568.5 1992.2,1572.1C1995.6,1576.5 1998.9,1579.8 2002.2,1584.1C2005.6,1588.4 2008.9,1593.8 2012.3,1598.1C2015.6,1602.4 2018.9,1607.0 2022.3,1610.1C2026.3,1613.8 2030.3,1616.9 2034.3,1619.1C2038.9,1621.7 2043.6,1623.6 2048.3,1625.1C2053.6,1626.8 2059.0,1628.3 2064.3,1629.1C2071.6,1630.2 2079.0,1631.1 2086.3,1631.3C2102.2,1631.9 2118.1,1632.3 2134.0,1632.3" fill="#8a4f9a" fill-opacity="0.3" stroke="#8a4f9a" stroke-width="2.3" stroke-linejoin="round" stroke-linecap="round"/>
<path d="M1779.6,1632.3C1790.4,1632.1 1801.2,1631.0 1812.1,1629.7C1818.7,1629.0 1825.4,1627.5 1832.1,1626.1C1837.4,1625.0 1842.7,1624.0 1848.1,1622.1C1852.8,1620.5 1857.4,1617.1 1862.1,1614.1C1866.8,1611.1 1871.4,1607.5 1876.1,1604.1C1880.1,1601.2 1884.1,1598.4 1888.1,1595.1C1892.1,1591.8 1896.1,1587.9 1900.1,1584.1C1904.1,1580.3 1908.1,1575.7 1912.2,1572.1C1916.2,1568.4 1920.2,1565.5 1924.2,1562.1C1927.5,1559.2 1930.8,1555.9 1934.2,1553.1C1937.5,1550.2 1940.8,1546.7 1944.2,1545.0C1946.9,1543.7 1949.5,1542.3 1952.2,1542.0C1954.9,1541.8 1957.5,1541.6 1960.2,1541.6C1962.9,1541.6 1965.5,1542.9 1968.2,1544.0C1970.9,1545.2 1973.5,1547.8 1976.2,1550.1C1978.9,1552.3 1981.6,1555.1 1984.2,1558.1C1986.9,1561.0 1989.6,1564.8 1992.2,1568.1C1995.6,1572.2 1998.9,1576.1 2002.2,1580.1C2005.6,1584.1 2008.9,1587.8 2012.3,1592.1C2015.6,1596.4 2018.9,1602.6 2022.3,1606.1C2026.3,1610.3 2030.3,1613.6 2034.3,1616.1C2038.3,1618.6 2042.3,1620.6 2046.3,1622.1C2051.0,1623.9 2055.6,1625.4 2060.3,1626.5C2065.6,1627.8 2071.0,1629.1 2076.3,1629.7C2083.7,1630.5 2091.0,1631.0 2098.3,1631.3C2110.2,1631.8 2122.1,1632.3 2134.0,1632.3" fill="#333a80" fill-opacity="0.28" stroke="#333a80" stroke-width="2.3" stroke-linejoin="round" stroke-linecap="round"/>
<text x="1733.6" y="1637.8" font-size="22.8" textLength="33.0" lengthAdjust="spacingAndGlyphs">0.0</text>
<text x="1733.6" y="1601.6" font-size="22.8" textLength="33.0" lengthAdjust="spacingAndGlyphs">0.2</text>
<text x="1733.6" y="1565.2" font-size="22.8" textLength="33.0" lengthAdjust="spacingAndGlyphs">0.4</text>
<text x="1733.6" y="1528.9" font-size="22.8" textLength="33.0" lengthAdjust="spacingAndGlyphs">0.6</text>
<text x="1755.6" y="1656.8" font-size="22.8" textLength="27.0" lengthAdjust="spacingAndGlyphs">−3</text>
<text x="1815.4" y="1656.8" font-size="22.8" textLength="27.0" lengthAdjust="spacingAndGlyphs">−2</text>
<text x="1875.3" y="1656.8" font-size="22.8" textLength="27.0" lengthAdjust="spacingAndGlyphs">−1</text>
<text x="1940.6" y="1656.8" font-size="22.8" textLength="13.2" lengthAdjust="spacingAndGlyphs">0</text>
<text x="2000.4" y="1656.8" font-size="22.8" textLength="13.2" lengthAdjust="spacingAndGlyphs">1</text>
<text x="2060.5" y="1656.8" font-size="22.8" textLength="13.2" lengthAdjust="spacingAndGlyphs">2</text>
<text x="2120.4" y="1656.8" font-size="22.8" textLength="13.2" lengthAdjust="spacingAndGlyphs">3</text>
<text x="2029.5" y="1519.2" font-size="23.3">Factor 9</text>
<line x1="1767.0" y1="1796.1" x2="2151.0" y2="1796.1" stroke="#f1f1f4" stroke-width="1.0"/>
<line x1="1767.0" y1="1763.9" x2="2151.0" y2="1763.9" stroke="#f1f1f4" stroke-width="1.0"/>
<line x1="1767.0" y1="1731.9" x2="2151.0" y2="1731.9" stroke="#f1f1f4" stroke-width="1.0"/>
<line x1="1772.6" y1="1703.0" x2="1772.6" y2="1817.1" stroke="#f1f1f4" stroke-width="1.0"/>
<line x1="1880.3" y1="1703.0" x2="1880.3" y2="1817.1" stroke="#f1f1f4" stroke-width="1.0"/>
<line x1="1988.0" y1="1703.0" x2="1988.0" y2="1817.1" stroke="#f1f1f4" stroke-width="1.0"/>
<line x1="2095.7" y1="1703.0" x2="2095.7" y2="1817.1" stroke="#f1f1f4" stroke-width="1.0"/>
<line x1="1767.0" y1="1812.1" x2="2151.0" y2="1812.1" stroke="#e9e9ed" stroke-width="1.5"/>
<line x1="1767.0" y1="1779.9" x2="2151.0" y2="1779.9" stroke="#e9e9ed" stroke-width="1.5"/>
<line x1="1767.0" y1="1747.9" x2="2151.0" y2="1747.9" stroke="#e9e9ed" stroke-width="1.5"/>
<line x1="1767.0" y1="1715.6" x2="2151.0" y2="1715.6" stroke="#e9e9ed" stroke-width="1.5"/>
<line x1="1826.5" y1="1703.0" x2="1826.5" y2="1817.1" stroke="#e9e9ed" stroke-width="1.5"/>
<line x1="1934.2" y1="1703.0" x2="1934.2" y2="1817.1" stroke="#e9e9ed" stroke-width="1.5"/>
<line x1="2041.9" y1="1703.0" x2="2041.9" y2="1817.1" stroke="#e9e9ed" stroke-width="1.5"/>
<line x1="2149.6" y1="1703.0" x2="2149.6" y2="1817.1" stroke="#e9e9ed" stroke-width="1.5"/>
<path d="M1779.6,1812.1C1793.8,1812.1 1807.9,1812.1 1822.1,1812.1C1832.1,1812.1 1842.1,1811.0 1852.1,1809.7C1858.1,1809.0 1864.1,1806.9 1870.1,1805.1C1874.8,1803.7 1879.5,1802.2 1884.1,1800.1C1887.5,1798.6 1890.8,1796.9 1894.1,1794.1C1896.8,1791.9 1899.5,1787.4 1902.1,1784.1C1904.8,1780.8 1907.5,1777.7 1910.1,1774.1C1912.8,1770.5 1915.5,1767.0 1918.2,1762.1C1920.2,1758.4 1922.2,1752.7 1924.2,1748.1C1926.2,1743.4 1928.2,1737.9 1930.2,1734.1C1932.2,1730.2 1934.2,1726.8 1936.2,1724.0C1938.2,1721.3 1940.2,1719.0 1942.2,1717.0C1944.2,1715.1 1946.2,1713.3 1948.2,1712.0C1950.2,1710.8 1952.2,1709.6 1954.2,1709.0C1955.9,1708.6 1957.5,1708.0 1959.2,1708.0C1960.9,1708.0 1962.5,1709.7 1964.2,1711.0C1966.2,1712.6 1968.2,1715.7 1970.2,1718.0C1972.2,1720.4 1974.2,1722.2 1976.2,1725.0C1978.2,1727.9 1980.2,1731.9 1982.2,1736.1C1984.2,1740.2 1986.2,1745.8 1988.2,1750.1C1990.2,1754.4 1992.2,1758.6 1994.2,1762.1C1996.9,1766.7 1999.6,1770.3 2002.2,1774.1C2004.9,1777.9 2007.6,1782.0 2010.2,1785.1C2013.6,1789.0 2016.9,1792.4 2020.3,1795.1C2023.6,1797.9 2026.9,1800.4 2030.3,1802.1C2034.3,1804.2 2038.3,1806.1 2042.3,1807.1C2047.6,1808.5 2053.0,1809.6 2058.3,1810.1C2066.3,1810.9 2074.3,1811.6 2082.3,1811.7C2099.5,1812.0 2116.8,1812.1 2134.0,1812.1" fill="#5bd6e7" fill-opacity="0.4" stroke="#5bd6e7" stroke-width="2.3" stroke-linejoin="round" stroke-linecap="round"/>
<path d="M1779.6,1812.1C1793.8,1812.1 1807.9,1810.8 1822.1,1809.1C1830.1,1808.2 1838.1,1805.9 1846.1,1803.1C1851.4,1801.3 1856.8,1798.4 1862.1,1795.1C1866.8,1792.2 1871.4,1788.5 1876.1,1784.1C1880.1,1780.3 1884.1,1774.8 1888.1,1770.1C1892.1,1765.4 1896.1,1761.2 1900.1,1756.1C1903.5,1751.8 1906.8,1747.3 1910.1,1742.1C1912.8,1737.9 1915.5,1732.6 1918.2,1728.0C1920.2,1724.6 1922.2,1720.5 1924.2,1718.0C1926.2,1715.5 1928.2,1713.3 1930.2,1712.0C1931.8,1711.0 1933.5,1709.6 1935.2,1709.6C1936.8,1709.6 1938.5,1711.7 1940.2,1713.0C1942.2,1714.6 1944.2,1716.9 1946.2,1719.0C1948.2,1721.2 1950.2,1723.4 1952.2,1726.0C1954.2,1728.7 1956.2,1731.9 1958.2,1735.1C1960.9,1739.2 1963.5,1743.9 1966.2,1748.1C1968.9,1752.2 1971.5,1756.1 1974.2,1760.1C1976.9,1764.1 1979.6,1768.1 1982.2,1772.1C1984.9,1776.1 1987.6,1780.5 1990.2,1784.1C1992.9,1787.7 1995.6,1791.7 1998.2,1794.1C2001.6,1797.1 2004.9,1799.4 2008.2,1801.1C2012.3,1803.2 2016.3,1804.9 2020.3,1806.1C2025.6,1807.7 2030.9,1809.1 2036.3,1809.7C2044.9,1810.7 2053.6,1811.4 2062.3,1811.5C2086.2,1811.9 2110.1,1812.1 2134.0,1812.1" fill="#ecd873" fill-opacity="0.3" stroke="#ecd873" stroke-width="2.3" stroke-linejoin="round" stroke-linecap="round"/>
<path d="M1779.6,1812.1C1792.4,1812.1 1805.2,1810.7 1818.1,1809.1C1825.4,1808.2 1832.7,1806.5 1840.1,1804.1C1845.4,1802.4 1850.8,1799.5 1856.1,1796.1C1860.8,1793.1 1865.4,1788.7 1870.1,1784.1C1874.1,1780.1 1878.1,1775.2 1882.1,1770.1C1885.5,1765.8 1888.8,1761.1 1892.1,1756.1C1895.5,1751.1 1898.8,1745.6 1902.1,1740.1C1904.8,1735.6 1907.5,1729.7 1910.1,1726.0C1912.2,1723.3 1914.2,1720.4 1916.2,1719.0C1918.2,1717.6 1920.2,1716.2 1922.2,1716.0C1924.8,1715.8 1927.5,1715.6 1930.2,1715.6C1932.2,1715.6 1934.2,1716.0 1936.2,1716.4C1938.2,1716.9 1940.2,1719.1 1942.2,1721.0C1944.2,1723.0 1946.2,1726.2 1948.2,1729.0C1950.2,1731.9 1952.2,1734.9 1954.2,1738.1C1956.2,1741.2 1958.2,1744.4 1960.2,1748.1C1962.9,1752.9 1965.5,1759.1 1968.2,1764.1C1970.9,1769.1 1973.5,1773.8 1976.2,1778.1C1978.9,1782.4 1981.6,1786.9 1984.2,1790.1C1987.6,1794.1 1990.9,1797.9 1994.2,1800.1C1998.2,1802.8 2002.2,1804.9 2006.2,1806.1C2011.6,1807.8 2016.9,1809.1 2022.3,1809.7C2030.3,1810.7 2038.3,1811.4 2046.3,1811.5C2075.5,1812.0 2104.7,1812.1 2134.0,1812.1" fill="#f08a76" fill-opacity="0.32" stroke="#f08a76" stroke-width="2.3" stroke-linejoin="round" stroke-linecap="round"/>
<path d="M1779.6,1812.1C1790.4,1812.0 1801.2,1810.3 1812.1,1808.5C1818.7,1807.4 1825.4,1805.6 1832.1,1803.1C1837.4,1801.1 1842.7,1798.0 1848.1,1794.1C1852.8,1790.7 1857.4,1785.5 1862.1,1780.1C1866.1,1775.5 1870.1,1769.9 1874.1,1764.1C1877.4,1759.2 1880.8,1752.6 1884.1,1748.1C1887.5,1743.5 1890.8,1739.9 1894.1,1736.1C1896.8,1733.0 1899.5,1729.6 1902.1,1727.0C1904.1,1725.1 1906.1,1723.0 1908.1,1722.0C1910.1,1721.1 1912.2,1720.2 1914.2,1720.0C1916.8,1719.8 1919.5,1719.6 1922.2,1719.6C1924.2,1719.6 1926.2,1720.3 1928.2,1721.0C1930.2,1721.8 1932.2,1725.3 1934.2,1728.0C1936.2,1730.8 1938.2,1735.0 1940.2,1738.1C1942.8,1742.1 1945.5,1745.4 1948.2,1749.1C1950.9,1752.7 1953.5,1756.3 1956.2,1760.1C1958.9,1763.9 1961.5,1768.1 1964.2,1772.1C1966.9,1776.1 1969.5,1780.9 1972.2,1784.1C1975.5,1788.1 1978.9,1790.8 1982.2,1794.1C1984.9,1796.8 1987.6,1800.3 1990.2,1802.1C1993.6,1804.4 1996.9,1806.1 2000.2,1807.1C2004.9,1808.6 2009.6,1809.7 2014.3,1810.1C2023.6,1811.0 2032.9,1811.6 2042.3,1811.7C2072.8,1812.0 2103.4,1812.1 2134.0,1812.1" fill="#8a4f9a" fill-opacity="0.3" stroke="#8a4f9a" stroke-width="2.3" stroke-linejoin="round" stroke-linecap="round"/>
<path d="M1779.6,1812.1C1788.4,1812.0 1797.2,1811.1 1806.0,1810.1C1813.4,1809.3 1820.7,1808.0 1828.1,1806.1C1834.1,1804.6 1840.1,1801.9 1846.1,1799.1C1851.4,1796.7 1856.8,1793.7 1862.1,1790.1C1866.1,1787.4 1870.1,1783.4 1874.1,1780.1C1878.1,1776.8 1882.1,1773.4 1886.1,1770.1C1890.1,1766.8 1894.1,1763.3 1898.1,1760.1C1901.5,1757.4 1904.8,1754.6 1908.1,1752.1C1911.5,1749.6 1914.8,1746.3 1918.2,1745.1C1920.8,1744.1 1923.5,1743.1 1926.2,1743.1C1928.8,1743.1 1931.5,1744.6 1934.2,1745.7C1936.8,1746.8 1939.5,1748.9 1942.2,1750.1C1945.5,1751.5 1948.9,1752.8 1952.2,1753.7C1955.5,1754.5 1958.9,1754.7 1962.2,1755.7C1965.5,1756.6 1968.9,1759.0 1972.2,1761.1C1975.5,1763.1 1978.9,1765.8 1982.2,1768.1C1985.6,1770.4 1988.9,1772.8 1992.2,1775.1C1995.6,1777.4 1998.9,1779.8 2002.2,1782.1C2005.6,1784.4 2008.9,1787.2 2012.3,1789.1C2015.6,1791.1 2018.9,1793.0 2022.3,1794.1C2025.6,1795.2 2028.9,1795.6 2032.3,1796.5C2035.6,1797.5 2038.9,1798.9 2042.3,1800.1C2046.3,1801.6 2050.3,1803.4 2054.3,1804.5C2059.6,1806.0 2065.0,1807.3 2070.3,1808.1C2077.0,1809.2 2083.7,1810.0 2090.3,1810.5C2097.0,1811.1 2103.7,1811.6 2110.3,1811.7C2118.2,1811.9 2126.1,1812.1 2134.0,1812.1" fill="#333a80" fill-opacity="0.28" stroke="#333a80" stroke-width="2.3" stroke-linejoin="round" stroke-linecap="round"/>
<text x="1733.6" y="1817.6" font-size="22.8" textLength="33.0" lengthAdjust="spacingAndGlyphs">0.0</text>
<text x="1733.6" y="1785.4" font-size="22.8" textLength="33.0" lengthAdjust="spacingAndGlyphs">0.2</text>
<text x="1733.6" y="1753.4" font-size="22.8" textLength="33.0" lengthAdjust="spacingAndGlyphs">0.4</text>
<text x="1733.6" y="1721.1" font-size="22.8" textLength="33.0" lengthAdjust="spacingAndGlyphs">0.6</text>
<text x="1816.4" y="1836.6" font-size="22.8" textLength="27.0" lengthAdjust="spacingAndGlyphs">−2</text>
<text x="1929.6" y="1836.6" font-size="22.8" textLength="13.2" lengthAdjust="spacingAndGlyphs">0</text>
<text x="2037.3" y="1836.6" font-size="22.8" textLength="13.2" lengthAdjust="spacingAndGlyphs">2</text>
<text x="2145.0" y="1836.6" font-size="22.8" textLength="13.2" lengthAdjust="spacingAndGlyphs">4</text>
<text x="2029.5" y="1697.2" font-size="23.3">Factor 10</text>
<rect x="1233.8" y="1893.7" width="11.6" height="11.6" fill="#5bd6e7" stroke="#5bd6e7" stroke-width="2.8" fill-opacity="0.65"/>
<text x="1251.0" y="1910.4" font-size="26">0h</text>
<rect x="1233.8" y="1915.9" width="11.6" height="11.6" fill="#c4f48a" stroke="#c4f48a" stroke-width="2.8" fill-opacity="0.55"/>
<text x="1251.0" y="1931.8" font-size="26">1h</text>
<rect x="1233.8" y="1937.8" width="11.6" height="11.6" fill="#7fc99a" stroke="#7fc99a" stroke-width="2.8" fill-opacity="0.57"/>
<text x="1251.0" y="1953.2" font-size="26">6h</text>
<rect x="1233.8" y="1959.7" width="11.6" height="11.6" fill="#3f8d88" stroke="#3f8d88" stroke-width="2.8" fill-opacity="0.55"/>
<text x="1251.0" y="1974.6" font-size="26">10h</text>
<rect x="1233.8" y="1981.9" width="11.6" height="11.6" fill="#1c4567" stroke="#1c4567" stroke-width="2.8" fill-opacity="0.53"/>
<text x="1251.0" y="1996.0" font-size="26">24h</text>
<rect x="2098.0" y="1893.6" width="11.6" height="11.6" fill="#5bd6e7" stroke="#5bd6e7" stroke-width="2.8" fill-opacity="0.65"/>
<text x="2114.6" y="1907.5" font-size="26">0h</text>
<rect x="2098.0" y="1916.6" width="11.6" height="11.6" fill="#ecd873" stroke="#ecd873" stroke-width="2.8" fill-opacity="0.55"/>
<text x="2114.6" y="1929.7" font-size="26">1h</text>
<rect x="2098.0" y="1938.3" width="11.6" height="11.6" fill="#f08a76" stroke="#f08a76" stroke-width="2.8" fill-opacity="0.57"/>
<text x="2114.6" y="1951.9" font-size="26">6h</text>
<rect x="2098.0" y="1960.0" width="11.6" height="11.6" fill="#8a4f9a" stroke="#8a4f9a" stroke-width="2.8" fill-opacity="0.55"/>
<text x="2114.6" y="1974.1" font-size="26">10h</text>
<rect x="2098.0" y="1982.3" width="11.6" height="11.6" fill="#333a80" stroke="#333a80" stroke-width="2.8" fill-opacity="0.53"/>
<text x="2114.6" y="1996.3" font-size="26">24h</text>
</svg>
</body></html>
